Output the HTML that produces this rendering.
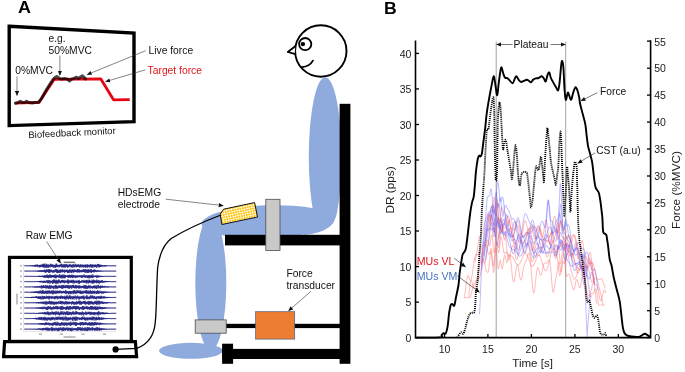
<!DOCTYPE html>
<html><head><meta charset="utf-8"><title>Figure</title>
<style>
html,body{margin:0;padding:0;background:#fff;}
body{width:685px;height:372px;position:relative;overflow:hidden;font-family:"Liberation Sans",sans-serif;}
</style></head><body>
<svg width="685" height="372" viewBox="0 0 685 372" style="position:absolute;left:0;top:0"><defs><marker id="ah" viewBox="0 0 10 10" refX="9" refY="5" markerWidth="5.4" markerHeight="4.9" orient="auto-start-reverse" markerUnits="userSpaceOnUse"><path d="M0,0.8 L10,5 L0,9.2 z" fill="#111"/></marker><pattern id="grid" width="2.5" height="2.5" patternUnits="userSpaceOnUse" patternTransform="rotate(-12)"><rect width="2.5" height="2.5" fill="#ffc000"/><path d="M0,0.4H2.5M0.4,0V2.5" stroke="#fff8e0" stroke-width="0.8"/></pattern><clipPath id="tc"><rect x="300" y="70" width="50" height="141.5"/></clipPath></defs><path d="M9.2,26.2 L134,33 L134,121.6 L9.2,125.6 Z" fill="#fff" stroke="#000" stroke-width="3.4" stroke-linejoin="miter"/><path d="M15.4,103.2 L38.9,102.4 L54,79.4 L100.7,78.8 L113.5,99.8 L129.7,99.6" fill="none" stroke="#e30613" stroke-width="2.8" stroke-linejoin="round"/><path d="M15.4,103.2 L18,102.6 L20.3,101.3 L22.5,102.6 L25,102.4 L26.6,101.2 L28.5,102.6 L32,103 L35,102.6 L38.6,102.2 L41.5,98.6 L46,90.5 L50,84 L53,79.6 L55.2,77.4 L56.8,76.6 L58.6,77.8 L61,79 L65,78.6 L67.5,79.2 L69.6,81 L71.6,79.2 L74,78.4 L76.5,77.2 L78.5,78.6 L80.5,77 L82.4,75.8 L84,77.4 L85.6,79" fill="none" stroke="#000" stroke-opacity="0.72" stroke-width="3" stroke-linejoin="round" stroke-linecap="round"/><g stroke="#333" stroke-width="0.6" fill="none"><line x1="17" y1="76.5" x2="17" y2="95.4" marker-end="url(#ah)"/><line x1="59.9" y1="55.5" x2="59.9" y2="75.2" marker-end="url(#ah)"/><line x1="145.7" y1="50.7" x2="87.2" y2="74.6" marker-end="url(#ah)"/><line x1="145.2" y1="69.9" x2="105.6" y2="81.6" marker-end="url(#ah)"/><line x1="165.8" y1="199.2" x2="223.2" y2="205.6" marker-end="url(#ah)"/><line x1="310.8" y1="291.4" x2="288.6" y2="310.8" marker-end="url(#ah)"/></g><g fill="#8faadc"><ellipse cx="325.2" cy="157.2" rx="16.4" ry="80" clip-path="url(#tc)"/><ellipse cx="268" cy="221.8" rx="66.5" ry="16.5" transform="rotate(-2 268 221.8)"/><ellipse cx="210.8" cy="283" rx="15.5" ry="67"/><ellipse cx="190.9" cy="350.8" rx="31.9" ry="8"/><path d="M337.3,211 Q336.8,214.5 335.7,217.5 Q333.5,223 329.3,227 Q324.5,230.5 318.7,232.3 Q312,234.2 304,235 L300,222 L318,209 L337.3,211 Z"/></g><rect x="339.6" y="103.8" width="10.8" height="260" fill="#000"/><rect x="225" y="234.8" width="116" height="10.6" fill="#000"/><rect x="222.2" y="348.9" width="119" height="10.1" fill="#000"/><rect x="222.1" y="343.7" width="11" height="20.1" fill="#000"/><rect x="226" y="323.8" width="115" height="4.3" fill="#000"/><rect x="265.8" y="199.3" width="14.2" height="51.2" fill="#c9c9c9" stroke="#4d4d4d" stroke-width="0.8"/><rect x="195.2" y="319.9" width="31" height="13.3" fill="#c9c9c9" stroke="#4d4d4d" stroke-width="0.8"/><rect x="255.6" y="311.7" width="39.1" height="27.4" fill="#ed7d31" stroke="#4a5f86" stroke-width="0.7"/><path d="M223.6,209.2 L254.6,202.6 L257.5,217 L221.9,224.5 L220.2,214.3 Z" fill="url(#grid)" stroke="#111" stroke-width="1"/><circle cx="320.8" cy="51" r="25.7" fill="#fff" stroke="#000" stroke-width="1.9"/><circle cx="305.2" cy="44.1" r="6.1" fill="#fff" stroke="#000" stroke-width="1.8"/><circle cx="302.9" cy="44.1" r="2.2" fill="#000"/><path d="M295.3,46.2 L287.8,52 L294.6,53.8" fill="#fff" stroke="#000" stroke-width="1.8" stroke-linejoin="round" stroke-linecap="round"/><path d="M312.9,60.6 Q309.8,66.4 301.8,67.2" fill="none" stroke="#000" stroke-width="1.8" stroke-linecap="round"/><rect x="9.5" y="257.4" width="121.8" height="84" fill="#fff" stroke="#000" stroke-width="3.2"/><path d="M4.6,341.6 L135.4,341.6 L136.6,356.7 L3.6,356.7 Z" fill="#fff" stroke="#000" stroke-width="3.2"/><circle cx="115.6" cy="349.4" r="3.1" fill="#000"/><path d="M221,215 C205,221 187,229 171.2,238.5 C163,245 159,257 157.6,268 C156.4,290 156.5,312 155.3,322 C154.4,334 149,344 136.6,348.4 L115.6,349.4" fill="none" stroke="#000" stroke-width="1.3"/><line x1="46.6" y1="241.6" x2="60.6" y2="263" stroke="#333" stroke-width="0.6" marker-end="url(#ah)"/><g stroke="#b8b8c8" stroke-width="0.4" fill="none"><path d="M23.6,264 V331.6 H116.4"/></g><line x1="24.4" y1="265.80" x2="116.4" y2="265.80" stroke="#15157a" stroke-width="0.55"/><rect x="20.2" y="265.10" width="1.6" height="1.4" fill="#9a9a9a"/><line x1="24.4" y1="271.08" x2="116.4" y2="271.08" stroke="#15157a" stroke-width="0.55"/><rect x="20.2" y="270.38" width="1.6" height="1.4" fill="#9a9a9a"/><line x1="24.4" y1="276.36" x2="116.4" y2="276.36" stroke="#15157a" stroke-width="0.55"/><rect x="20.2" y="275.66" width="1.6" height="1.4" fill="#9a9a9a"/><line x1="24.4" y1="281.64" x2="116.4" y2="281.64" stroke="#15157a" stroke-width="0.55"/><rect x="20.2" y="280.94" width="1.6" height="1.4" fill="#9a9a9a"/><line x1="24.4" y1="286.92" x2="116.4" y2="286.92" stroke="#15157a" stroke-width="0.55"/><rect x="20.2" y="286.22" width="1.6" height="1.4" fill="#9a9a9a"/><line x1="24.4" y1="292.20" x2="116.4" y2="292.20" stroke="#15157a" stroke-width="0.55"/><rect x="20.2" y="291.50" width="1.6" height="1.4" fill="#9a9a9a"/><line x1="24.4" y1="297.48" x2="116.4" y2="297.48" stroke="#15157a" stroke-width="0.55"/><rect x="20.2" y="296.78" width="1.6" height="1.4" fill="#9a9a9a"/><line x1="24.4" y1="302.76" x2="116.4" y2="302.76" stroke="#15157a" stroke-width="0.55"/><rect x="20.2" y="302.06" width="1.6" height="1.4" fill="#9a9a9a"/><line x1="24.4" y1="308.04" x2="116.4" y2="308.04" stroke="#15157a" stroke-width="0.55"/><rect x="20.2" y="307.34" width="1.6" height="1.4" fill="#9a9a9a"/><line x1="24.4" y1="313.32" x2="116.4" y2="313.32" stroke="#15157a" stroke-width="0.55"/><rect x="20.2" y="312.62" width="1.6" height="1.4" fill="#9a9a9a"/><line x1="24.4" y1="318.60" x2="116.4" y2="318.60" stroke="#15157a" stroke-width="0.55"/><rect x="20.2" y="317.90" width="1.6" height="1.4" fill="#9a9a9a"/><line x1="24.4" y1="323.88" x2="116.4" y2="323.88" stroke="#15157a" stroke-width="0.55"/><rect x="20.2" y="323.18" width="1.6" height="1.4" fill="#9a9a9a"/><line x1="24.4" y1="329.16" x2="116.4" y2="329.16" stroke="#15157a" stroke-width="0.55"/><rect x="20.2" y="328.46" width="1.6" height="1.4" fill="#9a9a9a"/><rect x="63.6" y="261.6" width="11.4" height="1.5" fill="#777"/><rect x="16.3" y="293.5" width="1.4" height="11" fill="#aaa"/><rect x="63.5" y="336.3" width="12" height="1.4" fill="#aaa"/><rect x="38.9" y="333.5" width="3.2" height="1.3" fill="#aaa"/><rect x="59.9" y="333.5" width="3.2" height="1.3" fill="#aaa"/><rect x="81.4" y="333.5" width="3.2" height="1.3" fill="#aaa"/><rect x="102.9" y="333.5" width="3.2" height="1.3" fill="#aaa"/><path d="M24.4,265.92 L24.8,265.68 L25.2,265.92 L25.6,265.68 L26.0,265.92 L26.4,265.68 L26.8,265.92 L27.2,265.68 L27.6,265.94 L28.0,265.65 L28.4,265.99 L28.8,265.61 L29.2,266.03 L29.6,265.61 L30.0,266.09 L30.4,265.43 L30.8,266.13 L31.2,265.39 L31.6,266.23 L32.0,265.54 L32.4,266.34 L32.8,265.29 L33.2,266.21 L33.6,265.50 L34.0,266.57 L34.4,265.21 L34.8,266.58 L35.2,264.87 L35.6,266.67 L36.0,264.73 L36.4,266.50 L36.8,264.72 L37.2,266.61 L37.6,264.49 L38.0,267.11 L38.4,265.24 L38.8,266.43 L39.2,265.06 L39.6,267.45 L40.0,264.74 L40.4,267.15 L40.8,264.84 L41.2,267.08 L41.6,264.65 L42.0,266.93 L42.4,264.30 L42.8,267.30 L43.2,263.82 L43.6,267.44 L44.0,263.79 L44.4,267.70 L44.8,263.69 L45.2,267.43 L45.6,264.94 L46.0,267.71 L46.4,263.73 L46.8,267.78 L47.2,264.33 L47.6,267.49 L48.0,264.86 L48.4,267.67 L48.8,264.32 L49.2,266.85 L49.6,265.08 L50.0,267.70 L50.4,263.70 L50.8,266.55 L51.2,263.98 L51.6,267.04 L52.0,264.95 L52.4,266.86 L52.8,264.03 L53.2,267.73 L53.6,265.11 L54.0,267.34 L54.4,265.11 L54.8,267.50 L55.2,264.68 L55.6,267.74 L56.0,263.71 L56.4,267.18 L56.8,263.68 L57.2,266.88 L57.6,265.06 L58.0,267.32 L58.4,265.13 L58.8,266.72 L59.2,264.57 L59.6,267.34 L60.0,264.95 L60.4,266.48 L60.8,263.88 L61.2,266.89 L61.6,263.74 L62.0,267.76 L62.4,264.61 L62.8,267.11 L63.2,264.40 L63.6,267.39 L64.0,264.29 L64.4,267.26 L64.8,264.25 L65.2,267.83 L65.6,264.42 L66.0,267.07 L66.4,264.10 L66.8,266.78 L67.2,264.73 L67.6,267.89 L68.0,264.40 L68.4,267.24 L68.8,265.16 L69.2,267.04 L69.6,264.31 L70.0,266.45 L70.4,264.26 L70.8,267.37 L71.2,265.09 L71.6,267.36 L72.0,264.48 L72.4,267.44 L72.8,264.65 L73.2,267.48 L73.6,264.07 L74.0,266.45 L74.4,265.09 L74.8,267.43 L75.2,263.74 L75.6,266.80 L76.0,264.50 L76.4,267.31 L76.8,264.70 L77.2,266.97 L77.6,264.71 L78.0,266.97 L78.4,264.29 L78.8,266.87 L79.2,264.61 L79.6,267.58 L80.0,265.14 L80.4,267.27 L80.8,264.08 L81.2,266.89 L81.6,264.85 L82.0,267.63 L82.4,264.82 L82.8,266.70 L83.2,264.53 L83.6,267.47 L84.0,265.03 L84.4,266.90 L84.8,264.68 L85.2,267.67 L85.6,264.52 L86.0,267.70 L86.4,264.93 L86.8,266.93 L87.2,264.20 L87.6,267.75 L88.0,264.50 L88.4,266.76 L88.8,265.00 L89.2,267.21 L89.6,264.89 L90.0,267.63 L90.4,263.92 L90.8,266.70 L91.2,264.76 L91.6,267.63 L92.0,264.22 L92.4,267.63 L92.8,264.66 L93.2,266.61 L93.6,264.74 L94.0,267.61 L94.4,264.77 L94.8,266.94 L95.2,264.55 L95.6,267.05 L96.0,264.57 L96.4,267.80 L96.8,264.95 L97.2,266.41 L97.6,263.90 L98.0,267.54 L98.4,263.99 L98.8,266.86 L99.2,264.19 L99.6,267.32 L100.0,265.10 L100.4,267.00 L100.8,264.58 L101.2,266.81 L101.6,264.97 L102.0,266.41 L102.4,265.19 L102.8,266.30 L103.2,265.43 L103.6,266.46 L104.0,265.35 L104.4,266.48 L104.8,265.51 L105.2,266.41 L105.6,265.31 L106.0,266.31 L106.4,265.35 L106.8,266.21 L107.2,265.50 L107.6,265.97 L108.0,265.55 L108.4,265.97 L108.8,265.64 L109.2,265.95 L109.6,265.67 L110.0,265.92 L110.4,265.68 L110.8,265.92 L111.2,265.68 L111.6,265.92 L112.0,265.68 L112.4,265.92 L112.8,265.68 L113.2,265.92 L113.6,265.68 L114.0,265.92 L114.4,265.68 L114.8,265.92 L115.2,265.68 L115.6,265.92 L116.0,265.68" fill="none" stroke="#15157a" stroke-width="0.62"/><path d="M24.4,271.20 L24.8,270.96 L25.2,271.20 L25.6,270.96 L26.0,271.20 L26.4,270.96 L26.8,271.20 L27.2,270.96 L27.6,271.20 L28.0,270.96 L28.4,271.20 L28.8,270.96 L29.2,271.20 L29.6,270.96 L30.0,271.20 L30.4,270.96 L30.8,271.20 L31.2,270.96 L31.6,271.20 L32.0,270.96 L32.4,271.20 L32.8,270.95 L33.2,271.23 L33.6,270.92 L34.0,271.24 L34.4,270.89 L34.8,271.26 L35.2,270.81 L35.6,271.41 L36.0,270.79 L36.4,271.31 L36.8,270.80 L37.2,271.44 L37.6,270.61 L38.0,271.66 L38.4,270.64 L38.8,271.76 L39.2,270.45 L39.6,271.64 L40.0,270.52 L40.4,271.75 L40.8,270.23 L41.2,271.76 L41.6,270.15 L42.0,271.87 L42.4,270.45 L42.8,272.01 L43.2,269.95 L43.6,271.61 L44.0,270.15 L44.4,272.05 L44.8,269.54 L45.2,272.75 L45.6,270.06 L46.0,272.82 L46.4,269.42 L46.8,272.05 L47.2,269.79 L47.6,271.88 L48.0,269.24 L48.4,272.69 L48.8,269.13 L49.2,272.89 L49.6,269.46 L50.0,272.80 L50.4,269.61 L50.8,271.85 L51.2,269.58 L51.6,271.71 L52.0,270.24 L52.4,272.86 L52.8,270.39 L53.2,271.84 L53.6,270.31 L54.0,273.02 L54.4,270.19 L54.8,271.74 L55.2,269.20 L55.6,271.88 L56.0,269.19 L56.4,272.71 L56.8,269.21 L57.2,273.13 L57.6,269.59 L58.0,272.90 L58.4,270.41 L58.8,272.85 L59.2,269.69 L59.6,272.77 L60.0,270.30 L60.4,272.82 L60.8,269.06 L61.2,271.79 L61.6,269.97 L62.0,272.55 L62.4,269.22 L62.8,272.06 L63.2,270.19 L63.6,272.07 L64.0,269.54 L64.4,272.83 L64.8,269.87 L65.2,272.25 L65.6,269.87 L66.0,272.23 L66.4,269.83 L66.8,271.82 L67.2,269.71 L67.6,273.16 L68.0,269.84 L68.4,272.82 L68.8,270.22 L69.2,272.74 L69.6,269.33 L70.0,272.71 L70.4,269.68 L70.8,272.43 L71.2,269.50 L71.6,273.05 L72.0,270.24 L72.4,271.84 L72.8,269.34 L73.2,273.07 L73.6,269.68 L74.0,272.36 L74.4,269.38 L74.8,271.98 L75.2,270.06 L75.6,272.00 L76.0,269.58 L76.4,272.17 L76.8,270.11 L77.2,272.74 L77.6,269.03 L78.0,272.14 L78.4,269.40 L78.8,272.32 L79.2,269.18 L79.6,272.58 L80.0,270.06 L80.4,272.03 L80.8,270.43 L81.2,272.42 L81.6,269.89 L82.0,271.96 L82.4,269.92 L82.8,272.18 L83.2,269.30 L83.6,271.92 L84.0,268.97 L84.4,272.42 L84.8,269.56 L85.2,272.40 L85.6,269.21 L86.0,272.93 L86.4,269.62 L86.8,272.42 L87.2,269.38 L87.6,272.98 L88.0,269.86 L88.4,272.80 L88.8,269.02 L89.2,272.40 L89.6,270.12 L90.0,272.05 L90.4,269.38 L90.8,272.71 L91.2,269.02 L91.6,272.98 L92.0,270.10 L92.4,271.96 L92.8,270.14 L93.2,271.89 L93.6,269.64 L94.0,272.65 L94.4,269.53 L94.8,271.85 L95.2,269.70 L95.6,271.84 L96.0,270.25 L96.4,272.14 L96.8,270.61 L97.2,271.53 L97.6,270.11 L98.0,271.62 L98.4,270.53 L98.8,271.73 L99.2,270.42 L99.6,271.37 L100.0,270.67 L100.4,271.50 L100.8,270.67 L101.2,271.37 L101.6,270.71 L102.0,271.50 L102.4,270.82 L102.8,271.34 L103.2,270.91 L103.6,271.25 L104.0,270.90 L104.4,271.21 L104.8,270.95 L105.2,271.20 L105.6,270.96 L106.0,271.20 L106.4,270.96 L106.8,271.20 L107.2,270.96 L107.6,271.20 L108.0,270.96 L108.4,271.20 L108.8,270.96 L109.2,271.20 L109.6,270.96 L110.0,271.20 L110.4,270.96 L110.8,271.20 L111.2,270.96 L111.6,271.20 L112.0,270.96 L112.4,271.20 L112.8,270.96 L113.2,271.20 L113.6,270.96 L114.0,271.20 L114.4,270.96 L114.8,271.20 L115.2,270.96 L115.6,271.20 L116.0,270.96" fill="none" stroke="#15157a" stroke-width="0.62"/><path d="M24.4,276.48 L24.8,276.24 L25.2,276.48 L25.6,276.24 L26.0,276.48 L26.4,276.24 L26.8,276.48 L27.2,276.24 L27.6,276.48 L28.0,276.24 L28.4,276.48 L28.8,276.24 L29.2,276.48 L29.6,276.24 L30.0,276.48 L30.4,276.24 L30.8,276.48 L31.2,276.24 L31.6,276.48 L32.0,276.24 L32.4,276.48 L32.8,276.24 L33.2,276.48 L33.6,276.24 L34.0,276.50 L34.4,276.19 L34.8,276.53 L35.2,276.13 L35.6,276.54 L36.0,276.15 L36.4,276.56 L36.8,276.14 L37.2,276.76 L37.6,275.93 L38.0,276.65 L38.4,276.05 L38.8,276.78 L39.2,275.77 L39.6,277.03 L40.0,275.68 L40.4,277.00 L40.8,275.95 L41.2,276.95 L41.6,275.88 L42.0,277.11 L42.4,275.54 L42.8,276.92 L43.2,275.74 L43.6,277.49 L44.0,275.89 L44.4,277.62 L44.8,274.95 L45.2,277.89 L45.6,275.42 L46.0,277.54 L46.4,275.10 L46.8,277.73 L47.2,274.47 L47.6,277.91 L48.0,275.32 L48.4,278.27 L48.8,275.01 L49.2,277.88 L49.6,274.65 L50.0,276.98 L50.4,274.58 L50.8,277.97 L51.2,275.00 L51.6,277.77 L52.0,275.05 L52.4,277.27 L52.8,274.95 L53.2,277.04 L53.6,274.99 L54.0,277.95 L54.4,275.07 L54.8,277.83 L55.2,274.30 L55.6,278.32 L56.0,275.54 L56.4,278.17 L56.8,274.81 L57.2,277.06 L57.6,275.20 L58.0,277.33 L58.4,275.62 L58.8,277.79 L59.2,274.35 L59.6,277.46 L60.0,274.43 L60.4,278.02 L60.8,275.54 L61.2,278.27 L61.6,274.84 L62.0,278.37 L62.4,274.67 L62.8,278.09 L63.2,275.22 L63.6,278.19 L64.0,274.34 L64.4,278.27 L64.8,275.08 L65.2,278.12 L65.6,275.01 L66.0,277.14 L66.4,275.68 L66.8,277.10 L67.2,275.44 L67.6,277.22 L68.0,274.99 L68.4,278.03 L68.8,274.93 L69.2,277.61 L69.6,274.77 L70.0,277.44 L70.4,275.04 L70.8,278.12 L71.2,275.14 L71.6,277.25 L72.0,274.39 L72.4,278.06 L72.8,275.19 L73.2,277.54 L73.6,274.95 L74.0,277.87 L74.4,275.40 L74.8,276.98 L75.2,275.43 L75.6,278.15 L76.0,275.52 L76.4,277.67 L76.8,275.45 L77.2,277.29 L77.6,275.48 L78.0,277.59 L78.4,275.49 L78.8,277.02 L79.2,275.57 L79.6,277.23 L80.0,275.00 L80.4,277.07 L80.8,275.71 L81.2,277.65 L81.6,275.13 L82.0,278.04 L82.4,275.66 L82.8,277.58 L83.2,275.15 L83.6,277.02 L84.0,274.29 L84.4,277.31 L84.8,275.60 L85.2,277.69 L85.6,275.49 L86.0,277.91 L86.4,275.22 L86.8,277.17 L87.2,275.66 L87.6,278.07 L88.0,275.33 L88.4,278.16 L88.8,275.04 L89.2,278.38 L89.6,275.29 L90.0,277.35 L90.4,275.34 L90.8,278.20 L91.2,274.80 L91.6,277.50 L92.0,275.60 L92.4,278.00 L92.8,274.29 L93.2,277.87 L93.6,275.75 L94.0,276.99 L94.4,275.67 L94.8,277.12 L95.2,275.79 L95.6,276.93 L96.0,275.15 L96.4,277.77 L96.8,275.71 L97.2,277.71 L97.6,275.52 L98.0,277.43 L98.4,275.26 L98.8,277.41 L99.2,275.99 L99.6,276.88 L100.0,275.69 L100.4,277.16 L100.8,276.03 L101.2,276.76 L101.6,275.77 L102.0,276.64 L102.4,276.02 L102.8,276.66 L103.2,276.01 L103.6,276.72 L104.0,276.16 L104.4,276.61 L104.8,276.15 L105.2,276.55 L105.6,276.21 L106.0,276.49 L106.4,276.24 L106.8,276.48 L107.2,276.24 L107.6,276.48 L108.0,276.24 L108.4,276.48 L108.8,276.24 L109.2,276.48 L109.6,276.24 L110.0,276.48 L110.4,276.24 L110.8,276.48 L111.2,276.24 L111.6,276.48 L112.0,276.24 L112.4,276.48 L112.8,276.24 L113.2,276.48 L113.6,276.24 L114.0,276.48 L114.4,276.24 L114.8,276.48 L115.2,276.24 L115.6,276.48 L116.0,276.24" fill="none" stroke="#15157a" stroke-width="0.62"/><path d="M24.4,281.76 L24.8,281.52 L25.2,281.76 L25.6,281.52 L26.0,281.76 L26.4,281.52 L26.8,281.76 L27.2,281.52 L27.6,281.76 L28.0,281.52 L28.4,281.76 L28.8,281.52 L29.2,281.76 L29.6,281.52 L30.0,281.76 L30.4,281.52 L30.8,281.76 L31.2,281.52 L31.6,281.76 L32.0,281.52 L32.4,281.76 L32.8,281.52 L33.2,281.76 L33.6,281.50 L34.0,281.79 L34.4,281.49 L34.8,281.81 L35.2,281.47 L35.6,281.93 L36.0,281.44 L36.4,281.84 L36.8,281.20 L37.2,281.91 L37.6,281.13 L38.0,281.91 L38.4,281.21 L38.8,282.00 L39.2,280.98 L39.6,282.24 L40.0,280.98 L40.4,282.41 L40.8,280.76 L41.2,282.22 L41.6,280.85 L42.0,282.36 L42.4,281.16 L42.8,282.76 L43.2,280.68 L43.6,282.85 L44.0,280.98 L44.4,282.67 L44.8,280.65 L45.2,282.97 L45.6,281.03 L46.0,282.60 L46.4,280.47 L46.8,282.30 L47.2,280.29 L47.6,283.30 L48.0,280.39 L48.4,283.23 L48.8,280.11 L49.2,282.58 L49.6,280.49 L50.0,283.75 L50.4,280.52 L50.8,282.91 L51.2,280.89 L51.6,282.59 L52.0,280.77 L52.4,283.66 L52.8,279.93 L53.2,283.57 L53.6,279.54 L54.0,283.18 L54.4,279.62 L54.8,283.06 L55.2,280.39 L55.6,283.68 L56.0,279.67 L56.4,283.68 L56.8,280.29 L57.2,283.42 L57.6,280.41 L58.0,283.76 L58.4,279.64 L58.8,282.70 L59.2,279.62 L59.6,282.54 L60.0,280.88 L60.4,283.34 L60.8,280.58 L61.2,283.04 L61.6,280.06 L62.0,282.32 L62.4,279.90 L62.8,282.67 L63.2,280.37 L63.6,282.78 L64.0,279.91 L64.4,283.38 L64.8,280.59 L65.2,282.42 L65.6,280.57 L66.0,282.88 L66.4,280.90 L66.8,282.49 L67.2,279.88 L67.6,283.31 L68.0,279.56 L68.4,283.73 L68.8,279.71 L69.2,282.82 L69.6,280.78 L70.0,282.73 L70.4,280.33 L70.8,283.05 L71.2,280.21 L71.6,282.80 L72.0,279.74 L72.4,282.69 L72.8,280.33 L73.2,283.59 L73.6,279.81 L74.0,282.71 L74.4,280.66 L74.8,283.47 L75.2,281.00 L75.6,282.46 L76.0,280.22 L76.4,283.06 L76.8,280.77 L77.2,282.34 L77.6,280.71 L78.0,283.41 L78.4,280.32 L78.8,283.73 L79.2,279.84 L79.6,283.73 L80.0,280.97 L80.4,282.54 L80.8,281.00 L81.2,282.91 L81.6,280.51 L82.0,282.34 L82.4,280.20 L82.8,282.40 L83.2,280.55 L83.6,282.63 L84.0,279.82 L84.4,282.89 L84.8,280.63 L85.2,282.33 L85.6,280.38 L86.0,283.20 L86.4,280.01 L86.8,283.63 L87.2,279.81 L87.6,282.63 L88.0,280.82 L88.4,283.40 L88.8,279.84 L89.2,283.02 L89.6,279.77 L90.0,283.09 L90.4,280.60 L90.8,282.51 L91.2,280.99 L91.6,283.22 L92.0,279.67 L92.4,283.62 L92.8,280.32 L93.2,283.26 L93.6,279.63 L94.0,283.48 L94.4,280.12 L94.8,282.88 L95.2,280.24 L95.6,282.52 L96.0,280.75 L96.4,283.29 L96.8,279.53 L97.2,283.08 L97.6,280.41 L98.0,282.79 L98.4,280.34 L98.8,283.43 L99.2,280.41 L99.6,283.51 L100.0,280.89 L100.4,282.56 L100.8,280.51 L101.2,282.60 L101.6,280.26 L102.0,282.93 L102.4,280.31 L102.8,282.61 L103.2,281.21 L103.6,282.48 L104.0,280.86 L104.4,282.33 L104.8,281.12 L105.2,282.38 L105.6,280.84 L106.0,281.98 L106.4,281.06 L106.8,282.05 L107.2,281.21 L107.6,282.16 L108.0,281.15 L108.4,282.00 L108.8,281.41 L109.2,281.97 L109.6,281.45 L110.0,281.83 L110.4,281.44 L110.8,281.79 L111.2,281.51 L111.6,281.76 L112.0,281.52 L112.4,281.76 L112.8,281.52 L113.2,281.76 L113.6,281.52 L114.0,281.76 L114.4,281.52 L114.8,281.76 L115.2,281.52 L115.6,281.76 L116.0,281.52" fill="none" stroke="#15157a" stroke-width="0.62"/><path d="M24.4,287.04 L24.8,286.80 L25.2,287.04 L25.6,286.80 L26.0,287.04 L26.4,286.80 L26.8,287.04 L27.2,286.80 L27.6,287.04 L28.0,286.80 L28.4,287.04 L28.8,286.80 L29.2,287.04 L29.6,286.80 L30.0,287.04 L30.4,286.77 L30.8,287.06 L31.2,286.70 L31.6,287.14 L32.0,286.67 L32.4,287.12 L32.8,286.73 L33.2,287.28 L33.6,286.67 L34.0,287.19 L34.4,286.42 L34.8,287.48 L35.2,286.65 L35.6,287.61 L36.0,286.38 L36.4,287.41 L36.8,286.55 L37.2,287.48 L37.6,285.94 L38.0,287.46 L38.4,286.46 L38.8,287.41 L39.2,286.42 L39.6,287.64 L40.0,285.66 L40.4,287.43 L40.8,286.27 L41.2,288.39 L41.6,285.33 L42.0,288.56 L42.4,286.10 L42.8,287.90 L43.2,285.13 L43.6,288.15 L44.0,285.34 L44.4,287.98 L44.8,286.27 L45.2,288.06 L45.6,285.18 L46.0,288.71 L46.4,285.45 L46.8,288.24 L47.2,285.49 L47.6,288.20 L48.0,285.50 L48.4,288.79 L48.8,286.00 L49.2,288.43 L49.6,284.90 L50.0,288.81 L50.4,286.03 L50.8,288.99 L51.2,285.04 L51.6,287.79 L52.0,285.90 L52.4,287.84 L52.8,286.22 L53.2,289.01 L53.6,285.69 L54.0,288.85 L54.4,286.13 L54.8,287.56 L55.2,285.00 L55.6,288.73 L56.0,284.81 L56.4,288.57 L56.8,285.51 L57.2,288.69 L57.6,286.16 L58.0,288.35 L58.4,285.64 L58.8,287.76 L59.2,285.40 L59.6,288.02 L60.0,285.54 L60.4,288.10 L60.8,285.82 L61.2,288.08 L61.6,285.40 L62.0,289.01 L62.4,284.90 L62.8,288.83 L63.2,285.05 L63.6,287.97 L64.0,284.83 L64.4,287.94 L64.8,286.12 L65.2,288.29 L65.6,285.20 L66.0,288.05 L66.4,285.33 L66.8,287.96 L67.2,284.85 L67.6,288.22 L68.0,285.58 L68.4,288.34 L68.8,284.99 L69.2,289.02 L69.6,285.51 L70.0,288.20 L70.4,285.37 L70.8,287.64 L71.2,285.66 L71.6,288.81 L72.0,285.13 L72.4,287.63 L72.8,285.02 L73.2,288.12 L73.6,284.83 L74.0,288.09 L74.4,285.98 L74.8,288.36 L75.2,284.97 L75.6,288.19 L76.0,285.00 L76.4,288.61 L76.8,285.76 L77.2,287.99 L77.6,285.54 L78.0,288.14 L78.4,285.74 L78.8,288.52 L79.2,284.99 L79.6,288.42 L80.0,286.08 L80.4,287.87 L80.8,285.74 L81.2,288.46 L81.6,286.09 L82.0,287.66 L82.4,285.82 L82.8,287.96 L83.2,286.26 L83.6,288.35 L84.0,284.92 L84.4,288.34 L84.8,285.19 L85.2,288.78 L85.6,285.04 L86.0,288.91 L86.4,285.64 L86.8,288.56 L87.2,286.12 L87.6,288.86 L88.0,285.73 L88.4,288.25 L88.8,284.96 L89.2,287.97 L89.6,286.02 L90.0,288.78 L90.4,285.40 L90.8,287.67 L91.2,286.26 L91.6,288.07 L92.0,286.29 L92.4,288.79 L92.8,286.02 L93.2,287.95 L93.6,285.72 L94.0,288.31 L94.4,285.65 L94.8,288.48 L95.2,285.31 L95.6,288.19 L96.0,286.15 L96.4,289.01 L96.8,285.26 L97.2,287.67 L97.6,285.64 L98.0,288.67 L98.4,284.81 L98.8,287.63 L99.2,286.31 L99.6,288.15 L100.0,285.81 L100.4,288.57 L100.8,285.42 L101.2,287.79 L101.6,285.99 L102.0,287.98 L102.4,285.62 L102.8,287.53 L103.2,286.18 L103.6,287.38 L104.0,286.06 L104.4,287.29 L104.8,285.97 L105.2,287.56 L105.6,286.29 L106.0,287.25 L106.4,286.54 L106.8,287.38 L107.2,286.35 L107.6,287.33 L108.0,286.62 L108.4,287.37 L108.8,286.59 L109.2,287.19 L109.6,286.73 L110.0,287.11 L110.4,286.71 L110.8,287.06 L111.2,286.78 L111.6,287.04 L112.0,286.80 L112.4,287.04 L112.8,286.80 L113.2,287.04 L113.6,286.80 L114.0,287.04 L114.4,286.80 L114.8,287.04 L115.2,286.80 L115.6,287.04 L116.0,286.80" fill="none" stroke="#15157a" stroke-width="0.62"/><path d="M24.4,292.32 L24.8,292.08 L25.2,292.32 L25.6,292.08 L26.0,292.32 L26.4,292.08 L26.8,292.32 L27.2,292.07 L27.6,292.34 L28.0,292.02 L28.4,292.40 L28.8,292.04 L29.2,292.41 L29.6,291.97 L30.0,292.42 L30.4,291.95 L30.8,292.47 L31.2,291.78 L31.6,292.54 L32.0,291.92 L32.4,292.54 L32.8,291.74 L33.2,292.75 L33.6,291.78 L34.0,292.90 L34.4,291.75 L34.8,292.97 L35.2,291.43 L35.6,292.69 L36.0,291.24 L36.4,292.92 L36.8,291.32 L37.2,293.17 L37.6,291.16 L38.0,293.10 L38.4,291.67 L38.8,293.56 L39.2,290.70 L39.6,293.31 L40.0,290.94 L40.4,293.10 L40.8,290.41 L41.2,293.75 L41.6,291.27 L42.0,294.05 L42.4,290.10 L42.8,293.34 L43.2,290.09 L43.6,293.54 L44.0,291.31 L44.4,293.90 L44.8,291.07 L45.2,293.92 L45.6,290.70 L46.0,292.98 L46.4,290.79 L46.8,294.10 L47.2,290.86 L47.6,293.63 L48.0,290.29 L48.4,293.49 L48.8,290.84 L49.2,293.69 L49.6,290.34 L50.0,293.12 L50.4,291.44 L50.8,293.96 L51.2,290.75 L51.6,293.27 L52.0,290.24 L52.4,294.15 L52.8,290.77 L53.2,294.30 L53.6,290.33 L54.0,293.94 L54.4,291.14 L54.8,292.84 L55.2,290.56 L55.6,293.92 L56.0,291.05 L56.4,293.54 L56.8,290.73 L57.2,293.19 L57.6,290.53 L58.0,293.66 L58.4,291.00 L58.8,292.98 L59.2,290.75 L59.6,293.30 L60.0,290.49 L60.4,293.08 L60.8,290.99 L61.2,293.11 L61.6,290.97 L62.0,293.68 L62.4,291.42 L62.8,292.90 L63.2,290.86 L63.6,293.12 L64.0,290.82 L64.4,293.07 L64.8,291.43 L65.2,293.63 L65.6,290.20 L66.0,294.12 L66.4,290.81 L66.8,293.42 L67.2,291.48 L67.6,293.23 L68.0,291.11 L68.4,294.23 L68.8,291.40 L69.2,294.24 L69.6,290.86 L70.0,293.47 L70.4,291.19 L70.8,294.26 L71.2,291.30 L71.6,293.68 L72.0,290.81 L72.4,293.12 L72.8,291.25 L73.2,294.30 L73.6,290.39 L74.0,293.92 L74.4,290.23 L74.8,292.97 L75.2,290.52 L75.6,293.95 L76.0,291.24 L76.4,293.51 L76.8,290.12 L77.2,293.31 L77.6,290.44 L78.0,293.07 L78.4,290.58 L78.8,293.22 L79.2,290.82 L79.6,293.38 L80.0,290.27 L80.4,293.94 L80.8,290.82 L81.2,293.85 L81.6,290.94 L82.0,294.03 L82.4,291.19 L82.8,293.64 L83.2,290.70 L83.6,293.40 L84.0,291.51 L84.4,293.07 L84.8,290.62 L85.2,293.14 L85.6,290.44 L86.0,293.58 L86.4,290.15 L86.8,294.09 L87.2,290.49 L87.6,293.38 L88.0,291.51 L88.4,293.65 L88.8,290.46 L89.2,294.20 L89.6,291.28 L90.0,293.06 L90.4,290.11 L90.8,293.93 L91.2,290.85 L91.6,293.93 L92.0,291.36 L92.4,293.64 L92.8,290.58 L93.2,293.73 L93.6,291.34 L94.0,293.03 L94.4,290.64 L94.8,294.15 L95.2,291.37 L95.6,292.83 L96.0,291.46 L96.4,294.00 L96.8,290.99 L97.2,293.50 L97.6,290.09 L98.0,293.74 L98.4,291.19 L98.8,293.87 L99.2,291.58 L99.6,293.22 L100.0,290.62 L100.4,293.00 L100.8,291.61 L101.2,293.37 L101.6,291.30 L102.0,293.78 L102.4,291.62 L102.8,293.47 L103.2,291.39 L103.6,293.35 L104.0,291.42 L104.4,293.12 L104.8,291.59 L105.2,292.71 L105.6,291.57 L106.0,293.00 L106.4,291.71 L106.8,292.60 L107.2,291.74 L107.6,292.50 L108.0,291.84 L108.4,292.61 L108.8,291.83 L109.2,292.55 L109.6,291.95 L110.0,292.38 L110.4,292.03 L110.8,292.39 L111.2,292.04 L111.6,292.36 L112.0,292.07 L112.4,292.32 L112.8,292.08 L113.2,292.32 L113.6,292.08 L114.0,292.32 L114.4,292.08 L114.8,292.32 L115.2,292.08 L115.6,292.32 L116.0,292.08" fill="none" stroke="#15157a" stroke-width="0.62"/><path d="M24.4,297.60 L24.8,297.36 L25.2,297.60 L25.6,297.36 L26.0,297.60 L26.4,297.35 L26.8,297.63 L27.2,297.28 L27.6,297.64 L28.0,297.26 L28.4,297.72 L28.8,297.26 L29.2,297.86 L29.6,297.18 L30.0,297.70 L30.4,297.11 L30.8,297.72 L31.2,296.96 L31.6,298.11 L32.0,296.78 L32.4,297.79 L32.8,296.81 L33.2,297.98 L33.6,296.85 L34.0,298.03 L34.4,296.90 L34.8,297.95 L35.2,296.59 L35.6,297.96 L36.0,296.20 L36.4,297.96 L36.8,296.07 L37.2,298.14 L37.6,296.91 L38.0,298.82 L38.4,296.34 L38.8,298.96 L39.2,296.28 L39.6,298.89 L40.0,296.78 L40.4,299.05 L40.8,296.10 L41.2,299.54 L41.6,296.85 L42.0,298.20 L42.4,295.85 L42.8,299.49 L43.2,296.23 L43.6,299.17 L44.0,296.02 L44.4,298.69 L44.8,296.16 L45.2,299.00 L45.6,296.82 L46.0,298.56 L46.4,295.75 L46.8,298.49 L47.2,296.15 L47.6,298.49 L48.0,296.32 L48.4,299.08 L48.8,295.74 L49.2,299.54 L49.6,296.14 L50.0,298.40 L50.4,296.35 L50.8,298.19 L51.2,296.50 L51.6,298.98 L52.0,295.94 L52.4,298.46 L52.8,296.59 L53.2,298.25 L53.6,296.59 L54.0,298.85 L54.4,296.48 L54.8,299.43 L55.2,296.01 L55.6,298.61 L56.0,296.21 L56.4,298.16 L56.8,295.76 L57.2,299.23 L57.6,296.31 L58.0,299.19 L58.4,296.45 L58.8,298.43 L59.2,296.52 L59.6,298.40 L60.0,295.95 L60.4,299.06 L60.8,295.77 L61.2,298.26 L61.6,295.71 L62.0,298.82 L62.4,296.29 L62.8,298.85 L63.2,296.21 L63.6,298.40 L64.0,296.27 L64.4,299.07 L64.8,295.79 L65.2,299.47 L65.6,296.57 L66.0,299.44 L66.4,295.66 L66.8,299.17 L67.2,295.39 L67.6,298.31 L68.0,295.70 L68.4,299.45 L68.8,296.68 L69.2,298.99 L69.6,295.44 L70.0,298.54 L70.4,295.58 L70.8,299.46 L71.2,296.21 L71.6,298.32 L72.0,296.54 L72.4,299.34 L72.8,296.23 L73.2,298.57 L73.6,296.20 L74.0,299.49 L74.4,296.48 L74.8,298.13 L75.2,295.44 L75.6,298.58 L76.0,296.28 L76.4,299.56 L76.8,296.44 L77.2,298.23 L77.6,295.53 L78.0,298.47 L78.4,296.53 L78.8,299.51 L79.2,296.52 L79.6,299.45 L80.0,296.36 L80.4,298.55 L80.8,296.54 L81.2,298.91 L81.6,296.02 L82.0,298.70 L82.4,296.10 L82.8,298.55 L83.2,295.60 L83.6,299.50 L84.0,295.73 L84.4,299.33 L84.8,296.75 L85.2,298.48 L85.6,296.55 L86.0,298.33 L86.4,295.41 L86.8,299.46 L87.2,295.49 L87.6,298.94 L88.0,296.69 L88.4,298.74 L88.8,296.78 L89.2,299.46 L89.6,296.46 L90.0,298.53 L90.4,295.44 L90.8,298.40 L91.2,295.48 L91.6,298.57 L92.0,295.86 L92.4,298.26 L92.8,295.51 L93.2,298.70 L93.6,296.34 L94.0,299.08 L94.4,295.97 L94.8,298.48 L95.2,296.67 L95.6,298.96 L96.0,296.82 L96.4,299.41 L96.8,296.34 L97.2,298.35 L97.6,296.37 L98.0,298.27 L98.4,296.39 L98.8,298.91 L99.2,296.25 L99.6,298.60 L100.0,296.42 L100.4,298.82 L100.8,295.77 L101.2,298.66 L101.6,295.91 L102.0,298.62 L102.4,296.82 L102.8,298.18 L103.2,296.08 L103.6,298.44 L104.0,296.66 L104.4,298.38 L104.8,296.34 L105.2,298.18 L105.6,296.83 L106.0,298.10 L106.4,297.13 L106.8,298.14 L107.2,296.90 L107.6,298.03 L108.0,296.99 L108.4,297.94 L108.8,296.96 L109.2,297.78 L109.6,296.97 L110.0,297.71 L110.4,297.10 L110.8,297.69 L111.2,297.20 L111.6,297.67 L112.0,297.33 L112.4,297.64 L112.8,297.33 L113.2,297.60 L113.6,297.36 L114.0,297.60 L114.4,297.36 L114.8,297.60 L115.2,297.36 L115.6,297.60 L116.0,297.36" fill="none" stroke="#15157a" stroke-width="0.62"/><path d="M24.4,302.88 L24.8,302.64 L25.2,302.88 L25.6,302.64 L26.0,302.88 L26.4,302.64 L26.8,302.88 L27.2,302.64 L27.6,302.88 L28.0,302.64 L28.4,302.88 L28.8,302.64 L29.2,302.88 L29.6,302.64 L30.0,302.88 L30.4,302.64 L30.8,302.88 L31.2,302.64 L31.6,302.88 L32.0,302.63 L32.4,302.91 L32.8,302.58 L33.2,302.96 L33.6,302.60 L34.0,302.95 L34.4,302.50 L34.8,303.13 L35.2,302.52 L35.6,303.12 L36.0,302.50 L36.4,303.27 L36.8,302.35 L37.2,303.23 L37.6,302.19 L38.0,303.11 L38.4,302.08 L38.8,303.52 L39.2,301.91 L39.6,303.28 L40.0,302.25 L40.4,303.25 L40.8,301.67 L41.2,303.52 L41.6,302.01 L42.0,303.67 L42.4,301.64 L42.8,303.54 L43.2,301.93 L43.6,304.10 L44.0,301.35 L44.4,303.64 L44.8,302.13 L45.2,304.53 L45.6,301.20 L46.0,304.19 L46.4,301.56 L46.8,304.82 L47.2,301.49 L47.6,303.70 L48.0,301.99 L48.4,303.91 L48.8,301.24 L49.2,303.93 L49.6,300.72 L50.0,304.35 L50.4,301.45 L50.8,304.37 L51.2,301.24 L51.6,304.31 L52.0,301.40 L52.4,304.16 L52.8,301.40 L53.2,304.63 L53.6,301.85 L54.0,304.56 L54.4,301.69 L54.8,304.65 L55.2,302.03 L55.6,304.11 L56.0,301.48 L56.4,304.45 L56.8,301.84 L57.2,303.77 L57.6,301.94 L58.0,304.22 L58.4,301.28 L58.8,303.38 L59.2,301.87 L59.6,303.68 L60.0,300.70 L60.4,304.06 L60.8,301.29 L61.2,303.81 L61.6,301.15 L62.0,304.60 L62.4,301.13 L62.8,303.38 L63.2,301.48 L63.6,304.11 L64.0,302.07 L64.4,304.56 L64.8,301.66 L65.2,303.82 L65.6,301.20 L66.0,304.26 L66.4,301.40 L66.8,304.67 L67.2,301.36 L67.6,303.89 L68.0,302.04 L68.4,304.21 L68.8,301.59 L69.2,304.18 L69.6,301.62 L70.0,303.39 L70.4,302.08 L70.8,303.62 L71.2,302.00 L71.6,304.66 L72.0,301.27 L72.4,303.74 L72.8,301.07 L73.2,304.33 L73.6,302.05 L74.0,304.51 L74.4,301.80 L74.8,304.88 L75.2,301.93 L75.6,303.81 L76.0,301.77 L76.4,304.67 L76.8,300.91 L77.2,304.25 L77.6,301.92 L78.0,304.02 L78.4,301.09 L78.8,303.47 L79.2,300.76 L79.6,304.64 L80.0,300.74 L80.4,304.43 L80.8,301.21 L81.2,304.84 L81.6,301.74 L82.0,303.84 L82.4,301.96 L82.8,303.65 L83.2,300.94 L83.6,303.52 L84.0,301.02 L84.4,303.97 L84.8,300.82 L85.2,304.52 L85.6,301.11 L86.0,304.65 L86.4,302.08 L86.8,303.78 L87.2,301.59 L87.6,304.02 L88.0,301.13 L88.4,304.70 L88.8,301.03 L89.2,304.77 L89.6,301.10 L90.0,303.91 L90.4,301.38 L90.8,304.50 L91.2,300.92 L91.6,303.93 L92.0,301.61 L92.4,304.30 L92.8,301.80 L93.2,304.70 L93.6,302.14 L94.0,304.35 L94.4,301.41 L94.8,303.67 L95.2,301.28 L95.6,304.09 L96.0,300.70 L96.4,304.71 L96.8,301.26 L97.2,304.69 L97.6,300.81 L98.0,303.63 L98.4,300.90 L98.8,304.63 L99.2,300.66 L99.6,304.45 L100.0,301.64 L100.4,303.59 L100.8,301.40 L101.2,303.53 L101.6,301.39 L102.0,303.87 L102.4,301.44 L102.8,303.56 L103.2,302.05 L103.6,303.96 L104.0,301.82 L104.4,303.43 L104.8,302.00 L105.2,303.39 L105.6,302.04 L106.0,303.36 L106.4,302.32 L106.8,303.50 L107.2,302.12 L107.6,303.30 L108.0,302.43 L108.4,303.04 L108.8,302.36 L109.2,303.13 L109.6,302.46 L110.0,302.96 L110.4,302.52 L110.8,302.95 L111.2,302.60 L111.6,302.90 L112.0,302.64 L112.4,302.88 L112.8,302.64 L113.2,302.88 L113.6,302.64 L114.0,302.88 L114.4,302.64 L114.8,302.88 L115.2,302.64 L115.6,302.88 L116.0,302.64" fill="none" stroke="#15157a" stroke-width="0.62"/><path d="M24.4,308.16 L24.8,307.92 L25.2,308.16 L25.6,307.92 L26.0,308.16 L26.4,307.92 L26.8,308.16 L27.2,307.92 L27.6,308.16 L28.0,307.92 L28.4,308.16 L28.8,307.92 L29.2,308.16 L29.6,307.92 L30.0,308.16 L30.4,307.92 L30.8,308.16 L31.2,307.92 L31.6,308.16 L32.0,307.92 L32.4,308.17 L32.8,307.91 L33.2,308.20 L33.6,307.83 L34.0,308.26 L34.4,307.84 L34.8,308.34 L35.2,307.79 L35.6,308.43 L36.0,307.73 L36.4,308.28 L36.8,307.49 L37.2,308.31 L37.6,307.68 L38.0,308.65 L38.4,307.70 L38.8,308.62 L39.2,307.25 L39.6,308.72 L40.0,307.48 L40.4,308.91 L40.8,307.07 L41.2,308.87 L41.6,307.13 L42.0,308.73 L42.4,307.24 L42.8,309.44 L43.2,306.60 L43.6,308.51 L44.0,307.33 L44.4,308.81 L44.8,306.56 L45.2,308.83 L45.6,307.26 L46.0,309.65 L46.4,307.21 L46.8,310.07 L47.2,306.74 L47.6,310.01 L48.0,306.19 L48.4,308.97 L48.8,306.24 L49.2,309.28 L49.6,307.09 L50.0,308.73 L50.4,306.37 L50.8,309.50 L51.2,306.97 L51.6,309.91 L52.0,307.12 L52.4,309.33 L52.8,307.29 L53.2,309.19 L53.6,306.09 L54.0,309.41 L54.4,307.19 L54.8,309.01 L55.2,306.45 L55.6,309.08 L56.0,306.09 L56.4,308.75 L56.8,306.12 L57.2,309.59 L57.6,306.19 L58.0,309.19 L58.4,307.32 L58.8,308.92 L59.2,306.48 L59.6,308.70 L60.0,307.25 L60.4,309.83 L60.8,306.10 L61.2,309.94 L61.6,306.16 L62.0,309.49 L62.4,306.11 L62.8,309.71 L63.2,306.58 L63.6,309.30 L64.0,307.38 L64.4,308.79 L64.8,307.05 L65.2,309.35 L65.6,307.24 L66.0,310.12 L66.4,306.56 L66.8,309.77 L67.2,306.08 L67.6,309.00 L68.0,306.09 L68.4,310.10 L68.8,307.02 L69.2,308.85 L69.6,306.22 L70.0,309.99 L70.4,306.22 L70.8,309.27 L71.2,306.52 L71.6,308.83 L72.0,307.07 L72.4,309.29 L72.8,306.30 L73.2,308.79 L73.6,306.03 L74.0,308.70 L74.4,305.97 L74.8,309.02 L75.2,306.19 L75.6,309.89 L76.0,305.99 L76.4,309.37 L76.8,306.37 L77.2,309.10 L77.6,306.17 L78.0,308.82 L78.4,306.09 L78.8,309.55 L79.2,307.33 L79.6,310.07 L80.0,306.95 L80.4,308.76 L80.8,307.03 L81.2,308.70 L81.6,307.00 L82.0,309.72 L82.4,305.94 L82.8,309.61 L83.2,306.14 L83.6,309.89 L84.0,306.35 L84.4,309.24 L84.8,307.04 L85.2,308.89 L85.6,306.60 L86.0,308.97 L86.4,306.31 L86.8,309.14 L87.2,306.55 L87.6,309.48 L88.0,306.48 L88.4,308.89 L88.8,307.04 L89.2,309.69 L89.6,307.10 L90.0,309.67 L90.4,305.97 L90.8,309.24 L91.2,305.98 L91.6,309.58 L92.0,306.00 L92.4,309.45 L92.8,306.29 L93.2,309.68 L93.6,307.13 L94.0,309.44 L94.4,306.55 L94.8,309.36 L95.2,306.43 L95.6,310.02 L96.0,306.23 L96.4,309.88 L96.8,307.20 L97.2,309.71 L97.6,306.48 L98.0,309.99 L98.4,307.46 L98.8,308.83 L99.2,306.26 L99.6,309.01 L100.0,306.72 L100.4,309.17 L100.8,307.16 L101.2,308.92 L101.6,307.09 L102.0,309.32 L102.4,307.20 L102.8,309.03 L103.2,307.46 L103.6,308.86 L104.0,307.34 L104.4,308.78 L104.8,307.28 L105.2,308.36 L105.6,307.36 L106.0,308.53 L106.4,307.71 L106.8,308.40 L107.2,307.81 L107.6,308.29 L108.0,307.70 L108.4,308.32 L108.8,307.78 L109.2,308.20 L109.6,307.90 L110.0,308.18 L110.4,307.91 L110.8,308.16 L111.2,307.92 L111.6,308.16 L112.0,307.92 L112.4,308.16 L112.8,307.92 L113.2,308.16 L113.6,307.92 L114.0,308.16 L114.4,307.92 L114.8,308.16 L115.2,307.92 L115.6,308.16 L116.0,307.92" fill="none" stroke="#15157a" stroke-width="0.62"/><path d="M24.4,313.44 L24.8,313.20 L25.2,313.44 L25.6,313.20 L26.0,313.44 L26.4,313.20 L26.8,313.44 L27.2,313.20 L27.6,313.44 L28.0,313.20 L28.4,313.44 L28.8,313.20 L29.2,313.44 L29.6,313.20 L30.0,313.44 L30.4,313.20 L30.8,313.44 L31.2,313.20 L31.6,313.44 L32.0,313.20 L32.4,313.44 L32.8,313.20 L33.2,313.44 L33.6,313.19 L34.0,313.47 L34.4,313.18 L34.8,313.48 L35.2,313.07 L35.6,313.49 L36.0,313.02 L36.4,313.61 L36.8,313.11 L37.2,313.69 L37.6,313.10 L38.0,313.83 L38.4,312.97 L38.8,313.94 L39.2,312.66 L39.6,313.67 L40.0,312.82 L40.4,313.71 L40.8,312.54 L41.2,313.72 L41.6,312.92 L42.0,313.77 L42.4,312.27 L42.8,313.92 L43.2,312.63 L43.6,314.15 L44.0,312.35 L44.4,314.19 L44.8,311.85 L45.2,314.18 L45.6,312.27 L46.0,314.87 L46.4,312.48 L46.8,314.10 L47.2,311.62 L47.6,314.35 L48.0,311.42 L48.4,315.17 L48.8,312.14 L49.2,314.44 L49.6,312.55 L50.0,315.25 L50.4,312.04 L50.8,314.45 L51.2,312.44 L51.6,314.28 L52.0,311.39 L52.4,314.14 L52.8,311.87 L53.2,314.88 L53.6,311.92 L54.0,314.69 L54.4,312.10 L54.8,314.23 L55.2,311.47 L55.6,315.29 L56.0,311.85 L56.4,314.32 L56.8,311.33 L57.2,314.24 L57.6,312.44 L58.0,314.88 L58.4,311.45 L58.8,314.80 L59.2,312.54 L59.6,315.41 L60.0,312.47 L60.4,314.46 L60.8,311.22 L61.2,315.13 L61.6,311.57 L62.0,314.05 L62.4,311.42 L62.8,314.54 L63.2,312.68 L63.6,315.12 L64.0,311.30 L64.4,314.01 L64.8,312.02 L65.2,315.29 L65.6,312.20 L66.0,314.39 L66.4,311.53 L66.8,314.60 L67.2,311.20 L67.6,315.22 L68.0,311.41 L68.4,315.00 L68.8,312.41 L69.2,314.97 L69.6,311.83 L70.0,314.66 L70.4,311.85 L70.8,314.40 L71.2,312.40 L71.6,315.31 L72.0,312.15 L72.4,314.10 L72.8,311.24 L73.2,314.71 L73.6,311.69 L74.0,314.45 L74.4,312.48 L74.8,314.44 L75.2,311.45 L75.6,314.35 L76.0,311.33 L76.4,314.40 L76.8,311.35 L77.2,314.21 L77.6,312.03 L78.0,314.13 L78.4,312.48 L78.8,314.72 L79.2,312.15 L79.6,314.75 L80.0,312.38 L80.4,314.41 L80.8,312.22 L81.2,315.29 L81.6,312.58 L82.0,314.56 L82.4,311.42 L82.8,314.80 L83.2,312.32 L83.6,315.44 L84.0,312.54 L84.4,314.15 L84.8,312.67 L85.2,314.60 L85.6,311.41 L86.0,314.36 L86.4,312.27 L86.8,315.14 L87.2,312.58 L87.6,313.97 L88.0,311.70 L88.4,314.07 L88.8,311.91 L89.2,314.16 L89.6,311.80 L90.0,315.22 L90.4,312.02 L90.8,314.35 L91.2,311.76 L91.6,314.99 L92.0,312.61 L92.4,314.30 L92.8,312.14 L93.2,314.70 L93.6,312.29 L94.0,314.93 L94.4,312.32 L94.8,315.30 L95.2,312.17 L95.6,314.27 L96.0,312.58 L96.4,314.13 L96.8,312.38 L97.2,315.26 L97.6,312.08 L98.0,314.60 L98.4,311.26 L98.8,315.39 L99.2,311.57 L99.6,314.25 L100.0,312.30 L100.4,314.53 L100.8,312.46 L101.2,314.25 L101.6,312.58 L102.0,314.06 L102.4,312.10 L102.8,314.34 L103.2,312.49 L103.6,314.13 L104.0,312.44 L104.4,314.21 L104.8,312.95 L105.2,314.21 L105.6,312.72 L106.0,313.82 L106.4,312.54 L106.8,313.94 L107.2,312.91 L107.6,313.57 L108.0,312.95 L108.4,313.66 L108.8,313.02 L109.2,313.53 L109.6,313.04 L110.0,313.52 L110.4,313.09 L110.8,313.50 L111.2,313.17 L111.6,313.46 L112.0,313.20 L112.4,313.44 L112.8,313.20 L113.2,313.44 L113.6,313.20 L114.0,313.44 L114.4,313.20 L114.8,313.44 L115.2,313.20 L115.6,313.44 L116.0,313.20" fill="none" stroke="#15157a" stroke-width="0.62"/><path d="M24.4,318.72 L24.8,318.48 L25.2,318.72 L25.6,318.48 L26.0,318.72 L26.4,318.48 L26.8,318.72 L27.2,318.48 L27.6,318.72 L28.0,318.48 L28.4,318.72 L28.8,318.47 L29.2,318.75 L29.6,318.45 L30.0,318.77 L30.4,318.35 L30.8,318.82 L31.2,318.39 L31.6,318.85 L32.0,318.28 L32.4,318.92 L32.8,318.27 L33.2,318.95 L33.6,318.27 L34.0,319.07 L34.4,318.05 L34.8,318.93 L35.2,317.98 L35.6,319.09 L36.0,317.66 L36.4,319.57 L36.8,318.15 L37.2,319.50 L37.6,317.94 L38.0,319.10 L38.4,317.40 L38.8,319.88 L39.2,317.38 L39.6,319.72 L40.0,317.06 L40.4,319.72 L40.8,317.29 L41.2,319.93 L41.6,316.96 L42.0,320.30 L42.4,317.60 L42.8,319.49 L43.2,317.18 L43.6,320.10 L44.0,317.45 L44.4,320.51 L44.8,316.71 L45.2,320.25 L45.6,317.18 L46.0,320.26 L46.4,317.69 L46.8,320.43 L47.2,317.79 L47.6,320.58 L48.0,317.04 L48.4,319.64 L48.8,317.69 L49.2,320.12 L49.6,317.28 L50.0,320.26 L50.4,317.83 L50.8,320.53 L51.2,317.34 L51.6,319.88 L52.0,316.87 L52.4,320.13 L52.8,317.31 L53.2,319.66 L53.6,317.28 L54.0,319.27 L54.4,317.60 L54.8,320.46 L55.2,317.80 L55.6,319.35 L56.0,316.71 L56.4,319.78 L56.8,317.19 L57.2,320.10 L57.6,316.90 L58.0,319.70 L58.4,316.82 L58.8,319.22 L59.2,316.71 L59.6,319.68 L60.0,317.04 L60.4,319.68 L60.8,316.86 L61.2,319.78 L61.6,317.08 L62.0,319.70 L62.4,316.73 L62.8,320.39 L63.2,317.68 L63.6,320.35 L64.0,316.57 L64.4,319.58 L64.8,317.69 L65.2,320.62 L65.6,316.54 L66.0,319.41 L66.4,316.82 L66.8,320.62 L67.2,317.58 L67.6,320.39 L68.0,317.53 L68.4,320.40 L68.8,317.22 L69.2,319.93 L69.6,317.79 L70.0,320.20 L70.4,316.93 L70.8,319.66 L71.2,317.91 L71.6,319.36 L72.0,317.59 L72.4,320.71 L72.8,316.86 L73.2,320.56 L73.6,316.86 L74.0,319.42 L74.4,317.40 L74.8,320.64 L75.2,316.70 L75.6,320.71 L76.0,316.75 L76.4,320.29 L76.8,316.84 L77.2,320.59 L77.6,317.34 L78.0,319.27 L78.4,317.51 L78.8,319.24 L79.2,317.57 L79.6,320.10 L80.0,317.57 L80.4,319.59 L80.8,317.84 L81.2,319.76 L81.6,317.21 L82.0,320.11 L82.4,316.57 L82.8,319.33 L83.2,317.60 L83.6,319.34 L84.0,316.58 L84.4,320.17 L84.8,317.00 L85.2,320.44 L85.6,317.98 L86.0,320.58 L86.4,317.48 L86.8,320.16 L87.2,317.37 L87.6,320.34 L88.0,317.53 L88.4,319.64 L88.8,317.61 L89.2,320.31 L89.6,317.30 L90.0,319.45 L90.4,317.45 L90.8,320.07 L91.2,317.42 L91.6,320.11 L92.0,316.72 L92.4,320.18 L92.8,316.78 L93.2,319.68 L93.6,316.68 L94.0,320.63 L94.4,317.19 L94.8,319.25 L95.2,317.85 L95.6,320.36 L96.0,316.68 L96.4,320.31 L96.8,317.22 L97.2,320.03 L97.6,317.81 L98.0,320.08 L98.4,316.61 L98.8,319.44 L99.2,317.27 L99.6,320.17 L100.0,317.33 L100.4,319.48 L100.8,317.88 L101.2,319.79 L101.6,317.28 L102.0,319.80 L102.4,317.86 L102.8,319.57 L103.2,317.63 L103.6,319.21 L104.0,317.78 L104.4,319.14 L104.8,318.19 L105.2,318.89 L105.6,318.00 L106.0,319.16 L106.4,318.34 L106.8,318.85 L107.2,318.30 L107.6,318.85 L108.0,318.27 L108.4,318.80 L108.8,318.36 L109.2,318.80 L109.6,318.44 L110.0,318.76 L110.4,318.47 L110.8,318.72 L111.2,318.48 L111.6,318.72 L112.0,318.48 L112.4,318.72 L112.8,318.48 L113.2,318.72 L113.6,318.48 L114.0,318.72 L114.4,318.48 L114.8,318.72 L115.2,318.48 L115.6,318.72 L116.0,318.48" fill="none" stroke="#15157a" stroke-width="0.62"/><path d="M24.4,324.00 L24.8,323.76 L25.2,324.00 L25.6,323.76 L26.0,324.00 L26.4,323.76 L26.8,324.00 L27.2,323.76 L27.6,324.00 L28.0,323.76 L28.4,324.00 L28.8,323.76 L29.2,324.00 L29.6,323.76 L30.0,324.00 L30.4,323.76 L30.8,324.00 L31.2,323.76 L31.6,324.00 L32.0,323.76 L32.4,324.00 L32.8,323.76 L33.2,324.00 L33.6,323.76 L34.0,324.00 L34.4,323.74 L34.8,324.05 L35.2,323.68 L35.6,324.06 L36.0,323.66 L36.4,324.20 L36.8,323.68 L37.2,324.09 L37.6,323.63 L38.0,324.30 L38.4,323.55 L38.8,324.37 L39.2,323.30 L39.6,324.49 L40.0,323.58 L40.4,324.52 L40.8,323.13 L41.2,324.62 L41.6,323.00 L42.0,324.78 L42.4,323.07 L42.8,324.92 L43.2,323.05 L43.6,324.38 L44.0,323.20 L44.4,325.20 L44.8,323.09 L45.2,324.84 L45.6,322.44 L46.0,325.16 L46.4,322.42 L46.8,325.00 L47.2,322.67 L47.6,324.55 L48.0,323.02 L48.4,324.71 L48.8,322.46 L49.2,325.29 L49.6,323.15 L50.0,325.45 L50.4,323.11 L50.8,325.08 L51.2,323.22 L51.6,325.21 L52.0,323.04 L52.4,325.91 L52.8,322.72 L53.2,325.74 L53.6,322.60 L54.0,324.99 L54.4,322.00 L54.8,324.91 L55.2,322.49 L55.6,325.46 L56.0,321.77 L56.4,325.56 L56.8,323.18 L57.2,325.18 L57.6,321.83 L58.0,325.78 L58.4,322.71 L58.8,324.69 L59.2,322.86 L59.6,325.64 L60.0,322.99 L60.4,325.84 L60.8,322.86 L61.2,325.53 L61.6,322.22 L62.0,324.86 L62.4,322.48 L62.8,325.44 L63.2,322.86 L63.6,325.30 L64.0,322.32 L64.4,325.94 L64.8,322.83 L65.2,324.76 L65.6,322.50 L66.0,325.40 L66.4,322.53 L66.8,325.87 L67.2,322.96 L67.6,325.26 L68.0,322.55 L68.4,324.80 L68.8,322.58 L69.2,325.18 L69.6,322.70 L70.0,325.66 L70.4,321.78 L70.8,325.95 L71.2,322.93 L71.6,325.06 L72.0,321.84 L72.4,324.62 L72.8,323.13 L73.2,324.60 L73.6,321.82 L74.0,325.26 L74.4,322.61 L74.8,324.65 L75.2,321.93 L75.6,325.99 L76.0,322.23 L76.4,325.87 L76.8,322.41 L77.2,324.97 L77.6,322.99 L78.0,324.96 L78.4,323.04 L78.8,325.05 L79.2,323.19 L79.6,324.56 L80.0,321.91 L80.4,325.77 L80.8,322.04 L81.2,325.03 L81.6,322.58 L82.0,325.31 L82.4,322.08 L82.8,324.96 L83.2,322.49 L83.6,325.32 L84.0,322.00 L84.4,325.02 L84.8,323.26 L85.2,325.11 L85.6,321.93 L86.0,324.76 L86.4,322.32 L86.8,324.70 L87.2,322.85 L87.6,325.44 L88.0,323.11 L88.4,325.18 L88.8,322.38 L89.2,325.08 L89.6,322.13 L90.0,325.77 L90.4,322.84 L90.8,325.64 L91.2,322.13 L91.6,325.39 L92.0,322.37 L92.4,325.35 L92.8,322.15 L93.2,325.54 L93.6,322.85 L94.0,325.48 L94.4,322.19 L94.8,325.19 L95.2,321.92 L95.6,324.95 L96.0,322.52 L96.4,325.21 L96.8,322.55 L97.2,324.64 L97.6,322.58 L98.0,324.50 L98.4,322.84 L98.8,324.79 L99.2,322.78 L99.6,325.07 L100.0,322.65 L100.4,324.45 L100.8,322.84 L101.2,324.56 L101.6,323.22 L102.0,324.22 L102.4,323.11 L102.8,324.28 L103.2,323.48 L103.6,324.26 L104.0,323.55 L104.4,324.20 L104.8,323.59 L105.2,324.21 L105.6,323.62 L106.0,324.18 L106.4,323.60 L106.8,324.12 L107.2,323.71 L107.6,324.04 L108.0,323.74 L108.4,324.00 L108.8,323.76 L109.2,324.00 L109.6,323.76 L110.0,324.00 L110.4,323.76 L110.8,324.00 L111.2,323.76 L111.6,324.00 L112.0,323.76 L112.4,324.00 L112.8,323.76 L113.2,324.00 L113.6,323.76 L114.0,324.00 L114.4,323.76 L114.8,324.00 L115.2,323.76 L115.6,324.00 L116.0,323.76" fill="none" stroke="#15157a" stroke-width="0.62"/><path d="M24.4,329.28 L24.8,329.04 L25.2,329.28 L25.6,329.04 L26.0,329.28 L26.4,329.04 L26.8,329.28 L27.2,329.04 L27.6,329.28 L28.0,329.04 L28.4,329.28 L28.8,329.04 L29.2,329.28 L29.6,329.04 L30.0,329.28 L30.4,329.04 L30.8,329.28 L31.2,329.04 L31.6,329.28 L32.0,329.04 L32.4,329.28 L32.8,329.04 L33.2,329.30 L33.6,329.00 L34.0,329.32 L34.4,328.99 L34.8,329.37 L35.2,328.88 L35.6,329.48 L36.0,328.90 L36.4,329.50 L36.8,328.92 L37.2,329.58 L37.6,328.76 L38.0,329.71 L38.4,328.52 L38.8,329.46 L39.2,328.38 L39.6,329.56 L40.0,328.27 L40.4,330.12 L40.8,328.66 L41.2,329.73 L41.6,328.67 L42.0,330.29 L42.4,328.11 L42.8,330.45 L43.2,327.96 L43.6,329.97 L44.0,327.88 L44.4,330.03 L44.8,328.28 L45.2,330.18 L45.6,327.76 L46.0,330.12 L46.4,327.84 L46.8,330.53 L47.2,327.41 L47.6,330.48 L48.0,327.91 L48.4,330.61 L48.8,327.85 L49.2,330.88 L49.6,328.38 L50.0,330.05 L50.4,328.48 L50.8,330.40 L51.2,327.27 L51.6,330.68 L52.0,327.59 L52.4,331.18 L52.8,327.31 L53.2,330.22 L53.6,328.21 L54.0,330.59 L54.4,328.20 L54.8,330.67 L55.2,328.42 L55.6,330.37 L56.0,327.46 L56.4,330.16 L56.8,328.32 L57.2,330.90 L57.6,328.25 L58.0,331.13 L58.4,327.62 L58.8,331.11 L59.2,327.74 L59.6,330.51 L60.0,328.15 L60.4,329.87 L60.8,327.11 L61.2,330.11 L61.6,328.42 L62.0,331.18 L62.4,327.73 L62.8,330.65 L63.2,327.16 L63.6,330.88 L64.0,328.15 L64.4,330.20 L64.8,327.56 L65.2,330.80 L65.6,328.20 L66.0,330.15 L66.4,327.78 L66.8,329.87 L67.2,327.33 L67.6,330.77 L68.0,328.31 L68.4,330.65 L68.8,327.65 L69.2,329.91 L69.6,327.90 L70.0,330.97 L70.4,327.86 L70.8,330.87 L71.2,328.19 L71.6,331.28 L72.0,327.54 L72.4,330.62 L72.8,328.52 L73.2,330.31 L73.6,328.54 L74.0,330.44 L74.4,328.27 L74.8,330.15 L75.2,328.08 L75.6,330.00 L76.0,328.11 L76.4,330.54 L76.8,328.34 L77.2,330.62 L77.6,327.12 L78.0,330.86 L78.4,327.11 L78.8,329.94 L79.2,327.55 L79.6,330.14 L80.0,327.14 L80.4,330.52 L80.8,327.46 L81.2,330.94 L81.6,328.34 L82.0,329.93 L82.4,327.32 L82.8,331.01 L83.2,327.89 L83.6,329.82 L84.0,328.50 L84.4,330.98 L84.8,327.50 L85.2,330.34 L85.6,327.52 L86.0,330.99 L86.4,328.53 L86.8,330.90 L87.2,327.07 L87.6,331.08 L88.0,327.21 L88.4,330.44 L88.8,327.63 L89.2,329.95 L89.6,327.35 L90.0,330.77 L90.4,327.93 L90.8,329.85 L91.2,328.27 L91.6,330.38 L92.0,327.16 L92.4,330.49 L92.8,327.24 L93.2,330.06 L93.6,328.16 L94.0,330.13 L94.4,328.11 L94.8,330.97 L95.2,327.99 L95.6,330.26 L96.0,327.52 L96.4,330.45 L96.8,327.22 L97.2,330.82 L97.6,327.35 L98.0,330.34 L98.4,328.07 L98.8,330.28 L99.2,327.43 L99.6,330.76 L100.0,328.04 L100.4,330.15 L100.8,328.64 L101.2,330.40 L101.6,328.20 L102.0,329.90 L102.4,328.65 L102.8,329.87 L103.2,328.33 L103.6,329.66 L104.0,328.69 L104.4,329.73 L104.8,328.64 L105.2,329.43 L105.6,328.88 L106.0,329.53 L106.4,328.72 L106.8,329.47 L107.2,328.96 L107.6,329.39 L108.0,328.96 L108.4,329.41 L108.8,328.99 L109.2,329.36 L109.6,329.02 L110.0,329.29 L110.4,329.04 L110.8,329.28 L111.2,329.04 L111.6,329.28 L112.0,329.04 L112.4,329.28 L112.8,329.04 L113.2,329.28 L113.6,329.04 L114.0,329.28 L114.4,329.04 L114.8,329.28 L115.2,329.04 L115.6,329.28 L116.0,329.04" fill="none" stroke="#15157a" stroke-width="0.62"/><g stroke="#8a8a8a" stroke-width="0.8"><line x1="496.2" y1="41.6" x2="496.2" y2="337.6"/><line x1="565.7" y1="41.6" x2="565.7" y2="337.6"/></g><path d="M475.1,261.9C475.2,261.0 475.6,258.5 475.9,256.9C476.2,255.3 476.5,253.8 476.8,252.3C477.1,250.7 477.4,249.1 477.7,247.4C478.0,245.7 478.3,244.0 478.5,242.3C478.8,240.5 479.1,238.1 479.4,237.1C479.7,236.1 480.0,236.6 480.3,236.3C480.6,236.0 480.9,235.8 481.2,235.4C481.4,235.0 481.7,234.5 482.0,233.7C482.3,232.9 482.6,231.8 482.9,230.6C483.2,229.4 483.5,227.8 483.8,226.5C484.0,225.1 484.3,223.7 484.6,222.6C484.9,221.6 485.2,220.8 485.5,220.0C485.8,219.2 486.1,218.6 486.4,217.8C486.7,217.0 486.9,215.9 487.2,215.2C487.5,214.6 487.8,213.7 488.1,214.0C488.4,214.2 488.7,215.4 489.0,216.7C489.3,217.9 489.6,221.0 489.8,221.5C490.1,222.0 490.4,221.1 490.7,219.8C491.0,218.4 491.3,215.9 491.6,213.6C491.9,211.3 492.2,207.3 492.5,206.0C492.7,204.8 493.0,205.1 493.3,206.1C493.6,207.0 493.9,210.7 494.2,211.7C494.5,212.7 494.8,213.2 495.1,212.0C495.3,210.8 495.6,206.3 495.9,204.3C496.2,202.2 496.5,199.1 496.8,199.6C497.1,200.1 497.4,203.9 497.7,207.3C498.0,210.7 498.2,217.3 498.5,220.0C498.8,222.8 499.1,224.3 499.4,223.6C499.7,222.8 500.0,218.3 500.3,215.7C500.6,213.1 500.9,209.3 501.1,207.9C501.4,206.6 501.7,207.0 502.0,207.6C502.3,208.1 502.6,210.4 502.9,211.2C503.2,212.1 503.5,212.5 503.7,212.7C504.0,212.9 504.3,212.1 504.6,212.4C504.9,212.8 505.2,213.5 505.5,214.8C505.8,216.1 506.1,218.7 506.4,220.4C506.6,222.1 506.9,224.2 507.2,225.0C507.5,225.9 507.8,225.9 508.1,225.5C508.4,225.1 508.7,223.5 509.0,222.6C509.3,221.6 509.5,220.2 509.8,219.6C510.1,219.0 510.4,218.7 510.7,219.0C511.0,219.2 511.3,220.1 511.6,221.2C511.9,222.2 512.1,223.9 512.4,225.1C512.7,226.4 513.0,227.7 513.3,228.6C513.6,229.5 513.9,230.4 514.2,230.6C514.5,230.8 514.8,230.5 515.0,229.8C515.3,229.2 515.6,227.9 515.9,226.7C516.2,225.6 516.5,223.9 516.8,222.9C517.1,221.9 517.4,220.9 517.7,220.7C517.9,220.4 518.2,220.7 518.5,221.5C518.8,222.2 519.1,223.7 519.4,225.2C519.7,226.6 520.0,228.6 520.3,229.9C520.5,231.3 520.8,232.7 521.1,233.3C521.4,233.9 521.7,234.0 522.0,233.5C522.3,233.0 522.6,231.7 522.9,230.4C523.2,229.1 523.4,227.1 523.7,225.6C524.0,224.2 524.3,222.5 524.6,221.7C524.9,220.9 525.2,220.4 525.5,220.6C525.8,220.9 526.1,221.8 526.3,223.0C526.6,224.1 526.9,225.9 527.2,227.4C527.5,228.8 527.8,230.6 528.1,231.6C528.4,232.6 528.7,233.4 528.9,233.6C529.2,233.7 529.5,233.3 529.8,232.6C530.1,231.9 530.4,230.6 530.7,229.6C531.0,228.6 531.3,227.2 531.6,226.5C531.8,225.7 532.1,225.2 532.4,225.1C532.7,225.0 533.0,225.5 533.3,226.0C533.6,226.6 533.9,227.7 534.2,228.5C534.5,229.2 534.7,230.2 535.0,230.6C535.3,231.0 535.6,231.2 535.9,231.0C536.2,230.8 536.5,230.1 536.8,229.4C537.1,228.8 537.3,227.6 537.6,227.0C537.9,226.3 538.2,225.6 538.5,225.5C538.8,225.4 539.1,225.7 539.4,226.5C539.7,227.2 540.0,228.6 540.2,229.9C540.5,231.2 540.8,233.0 541.1,234.2C541.4,235.4 541.7,236.6 542.0,236.9C542.3,237.3 542.6,237.1 542.9,236.3C543.1,235.4 543.4,233.7 543.7,232.0C544.0,230.3 544.3,227.8 544.6,226.0C544.9,224.2 545.2,222.2 545.5,221.2C545.7,220.2 546.0,219.7 546.3,220.2C546.6,220.7 546.9,222.2 547.2,224.1C547.5,226.0 547.8,229.2 548.1,231.7C548.4,234.3 548.6,237.6 548.9,239.5C549.2,241.5 549.5,243.1 549.8,243.3C550.1,243.5 550.4,242.5 550.7,240.9C551.0,239.2 551.3,236.0 551.5,233.5C551.8,230.9 552.1,228.0 552.4,225.8C552.7,223.5 553.0,221.7 553.3,220.2C553.6,218.7 553.9,217.5 554.1,216.9C554.4,216.3 554.7,215.9 555.0,216.7C555.3,217.6 555.6,219.4 555.9,222.0C556.2,224.5 556.5,229.0 556.8,231.9C557.0,234.8 557.3,238.5 557.6,239.4C557.9,240.2 558.2,239.0 558.5,237.1C558.8,235.3 559.1,230.9 559.4,228.2C559.7,225.6 559.9,222.3 560.2,221.3C560.5,220.3 560.8,221.4 561.1,222.2C561.4,223.0 561.7,225.5 562.0,226.4C562.3,227.2 562.5,227.3 562.8,227.3C563.1,227.2 563.4,225.9 563.7,226.1C564.0,226.3 564.3,227.0 564.6,228.4C564.9,229.8 565.2,232.7 565.4,234.4C565.7,236.1 566.0,238.1 566.3,238.7C566.6,239.3 566.9,238.5 567.2,238.0C567.5,237.5 567.8,235.9 568.1,235.6C568.3,235.4 568.6,235.6 568.9,236.3C569.2,237.0 569.5,238.8 569.8,239.8C570.1,240.9 570.4,242.2 570.7,242.5C570.9,242.9 571.2,242.6 571.5,242.0C571.8,241.4 572.1,240.0 572.4,239.1C572.7,238.1 573.0,236.8 573.3,236.2C573.6,235.6 573.8,235.2 574.1,235.4C574.4,235.7 574.7,236.4 575.0,237.7C575.3,239.0 575.6,241.0 575.9,243.1C576.2,245.2 576.5,248.0 576.7,250.2C577.0,252.4 577.3,254.9 577.6,256.3C577.9,257.7 578.2,258.8 578.5,258.8C578.8,258.8 579.1,257.8 579.4,256.4C579.6,255.0 579.9,252.5 580.2,250.4C580.5,248.3 580.8,245.5 581.1,243.9C581.4,242.2 581.7,240.6 582.0,240.3C582.2,240.0 582.5,240.6 582.8,242.0C583.1,243.4 583.4,246.1 583.7,248.8C584.0,251.4 584.3,255.1 584.6,257.9C584.9,260.8 585.1,263.9 585.4,265.8C585.7,267.6 586.0,268.9 586.3,269.2C586.6,269.5 586.9,268.6 587.2,267.4C587.5,266.1 587.8,263.8 588.0,261.8C588.3,259.9 588.6,257.4 588.9,255.8C589.2,254.3 589.5,252.9 589.8,252.6C590.1,252.2 590.4,252.6 590.6,253.7C590.9,254.8 591.2,256.6 591.5,259.2C591.8,261.8 592.1,266.1 592.4,269.2C592.7,272.4 593.0,275.6 593.3,278.1C593.5,280.5 594.0,282.9 594.1,283.9" fill="none" stroke="#ff4040" stroke-opacity="0.34" stroke-width="1.05"/><path d="M481.9,263.0C482.0,262.0 482.5,259.6 482.7,257.5C483.0,255.4 483.3,252.8 483.6,250.3C483.9,247.7 484.2,244.8 484.5,242.3C484.8,239.8 485.1,237.3 485.4,235.2C485.6,233.2 485.9,230.9 486.2,230.0C486.5,229.1 486.8,230.2 487.1,230.0C487.4,229.8 487.7,229.6 488.0,228.9C488.3,228.2 488.5,226.8 488.8,225.6C489.1,224.4 489.4,223.1 489.7,221.7C490.0,220.3 490.3,217.9 490.6,217.1C490.9,216.2 491.1,217.2 491.4,216.5C491.7,215.7 492.0,214.6 492.3,212.6C492.6,210.6 492.9,207.0 493.2,204.5C493.5,201.9 493.8,198.5 494.0,197.5C494.3,196.5 494.6,196.8 494.9,198.5C495.2,200.2 495.5,204.7 495.8,207.9C496.1,211.2 496.4,215.7 496.7,218.0C496.9,220.3 497.2,221.3 497.5,221.5C497.8,221.8 498.1,219.9 498.4,219.4C498.7,218.9 499.0,218.1 499.3,218.7C499.5,219.2 499.8,221.1 500.1,222.9C500.4,224.7 500.7,228.1 501.0,229.6C501.3,231.1 501.6,232.1 501.9,232.0C502.2,232.0 502.4,230.4 502.7,229.2C503.0,228.1 503.3,226.1 503.6,225.0C503.9,223.9 504.2,223.1 504.5,222.6C504.8,222.0 505.1,222.0 505.3,221.6C505.6,221.1 505.9,220.7 506.2,220.0C506.5,219.3 506.8,218.2 507.1,217.5C507.4,216.8 507.7,216.0 507.9,215.9C508.2,215.8 508.5,216.2 508.8,217.1C509.1,218.0 509.4,219.6 509.7,221.3C510.0,223.0 510.3,225.3 510.6,227.2C510.8,229.1 511.1,231.2 511.4,232.7C511.7,234.3 512.0,235.8 512.3,236.5C512.6,237.2 512.9,237.2 513.2,237.0C513.5,236.8 513.7,236.0 514.0,235.1C514.3,234.2 514.6,232.8 514.9,231.6C515.2,230.5 515.5,229.0 515.8,228.0C516.1,227.0 516.4,226.1 516.6,225.6C516.9,225.1 517.2,225.0 517.5,225.2C517.8,225.4 518.1,226.0 518.4,226.8C518.7,227.6 519.0,228.7 519.2,229.8C519.5,230.8 519.8,232.0 520.1,233.0C520.4,233.9 520.7,234.8 521.0,235.5C521.3,236.1 521.6,236.6 521.9,236.9C522.1,237.2 522.4,237.2 522.7,237.2C523.0,237.2 523.3,237.0 523.6,236.9C523.9,236.8 524.2,236.6 524.5,236.4C524.8,236.2 525.0,236.1 525.3,235.9C525.6,235.7 525.9,235.5 526.2,235.2C526.5,234.9 526.8,234.5 527.1,234.0C527.4,233.6 527.6,232.9 527.9,232.3C528.2,231.6 528.5,230.7 528.8,230.0C529.1,229.3 529.4,228.5 529.7,228.0C530.0,227.5 530.3,227.1 530.5,227.0C530.8,226.9 531.1,227.1 531.4,227.6C531.7,228.1 532.0,229.0 532.3,229.9C532.6,230.9 532.9,232.2 533.2,233.4C533.4,234.5 533.7,235.8 534.0,236.8C534.3,237.7 534.6,238.5 534.9,238.9C535.2,239.2 535.5,239.2 535.8,238.9C536.0,238.6 536.3,237.8 536.6,236.9C536.9,236.0 537.2,234.6 537.5,233.5C537.8,232.5 538.1,231.2 538.4,230.3C538.7,229.5 538.9,228.7 539.2,228.4C539.5,228.2 539.8,228.2 540.1,228.7C540.4,229.1 540.7,230.0 541.0,230.9C541.3,231.8 541.6,233.2 541.8,234.3C542.1,235.4 542.4,236.7 542.7,237.7C543.0,238.6 543.3,239.5 543.6,240.0C543.9,240.4 544.2,240.7 544.4,240.6C544.7,240.6 545.0,240.2 545.3,239.9C545.6,239.5 545.9,238.8 546.2,238.3C546.5,237.8 546.8,237.3 547.1,237.0C547.3,236.6 547.6,236.4 547.9,236.3C548.2,236.2 548.5,236.3 548.8,236.2C549.1,236.2 549.4,236.2 549.7,236.1C550.0,235.9 550.2,235.7 550.5,235.3C550.8,234.8 551.1,234.0 551.4,233.5C551.7,233.0 552.0,232.7 552.3,232.6C552.6,232.4 552.8,232.6 553.1,232.6C553.4,232.6 553.7,232.7 554.0,232.4C554.3,232.2 554.6,231.6 554.9,231.1C555.2,230.7 555.5,229.8 555.7,229.7C556.0,229.5 556.3,229.7 556.6,230.1C556.9,230.5 557.2,231.8 557.5,232.3C557.8,232.8 558.1,233.3 558.4,232.9C558.6,232.6 558.9,231.7 559.2,230.3C559.5,228.8 559.8,225.9 560.1,224.2C560.4,222.6 560.7,220.6 561.0,220.4C561.2,220.2 561.5,221.3 561.8,223.0C562.1,224.7 562.4,228.1 562.7,230.6C563.0,233.1 563.3,236.1 563.6,238.1C563.9,240.2 564.1,241.6 564.4,243.0C564.7,244.4 565.0,245.2 565.3,246.4C565.6,247.7 565.9,249.1 566.2,250.3C566.5,251.5 566.8,253.1 567.0,253.7C567.3,254.3 567.6,254.6 567.9,254.0C568.2,253.5 568.5,251.9 568.8,250.4C569.1,248.8 569.4,246.5 569.6,244.8C569.9,243.0 570.2,241.2 570.5,239.8C570.8,238.5 571.1,237.6 571.4,236.9C571.7,236.1 572.0,235.8 572.3,235.4C572.5,235.1 572.8,234.9 573.1,234.7C573.4,234.6 573.7,234.5 574.0,234.7C574.3,234.8 574.6,235.1 574.9,235.7C575.2,236.3 575.4,237.1 575.7,238.3C576.0,239.4 576.3,240.9 576.6,242.6C576.9,244.3 577.2,246.4 577.5,248.4C577.8,250.5 578.0,252.9 578.3,255.0C578.6,257.1 578.9,259.4 579.2,261.2C579.5,263.0 579.8,264.7 580.1,265.8C580.4,266.9 580.7,267.6 580.9,267.9C581.2,268.1 581.5,267.8 581.8,267.2C582.1,266.6 582.4,265.4 582.7,264.4C583.0,263.3 583.3,261.8 583.6,260.7C583.8,259.6 584.1,258.5 584.4,257.8C584.7,257.1 585.0,256.6 585.3,256.5C585.6,256.4 585.9,256.7 586.2,257.1C586.4,257.6 586.7,258.5 587.0,259.2C587.3,260.0 587.6,261.0 587.9,261.7C588.2,262.4 588.5,263.0 588.8,263.4C589.1,263.8 589.3,264.0 589.6,264.0C589.9,264.0 590.2,263.7 590.5,263.5C590.8,263.3 591.1,262.9 591.4,262.8C591.7,262.6 592.0,262.5 592.2,262.7C592.5,262.9 592.8,263.3 593.1,264.0C593.4,264.7 593.7,265.7 594.0,266.7C594.3,267.8 594.6,269.2 594.8,270.4C595.1,271.7 595.4,273.0 595.7,274.1C596.0,275.3 596.3,276.3 596.6,277.1C596.9,277.9 597.2,278.4 597.5,278.8C597.7,279.2 598.0,279.3 598.3,279.4C598.6,279.5 598.9,279.4 599.2,279.3C599.5,279.3 599.8,279.1 600.1,279.1C600.4,279.0 600.6,279.0 600.9,278.9C601.2,278.9 601.5,278.5 601.8,278.8C602.1,279.1 602.4,280.1 602.7,280.9C603.0,281.7 603.3,282.7 603.5,283.6C603.8,284.4 604.1,285.1 604.4,285.9C604.7,286.8 605.1,288.1 605.3,288.5" fill="none" stroke="#ff4040" stroke-opacity="0.34" stroke-width="1.05"/><path d="M485.1,263.6C485.3,262.6 485.7,259.4 486.0,257.2C486.3,255.1 486.6,252.8 486.9,250.8C487.2,248.8 487.5,247.3 487.7,245.4C488.0,243.5 488.3,241.9 488.6,239.5C488.9,237.0 489.2,233.4 489.5,230.7C489.8,228.0 490.1,225.6 490.4,223.1C490.6,220.7 490.9,216.9 491.2,216.0C491.5,215.0 491.8,215.9 492.1,217.4C492.4,218.9 492.7,222.5 493.0,224.8C493.3,227.1 493.5,230.5 493.8,231.1C494.1,231.7 494.4,230.8 494.7,228.4C495.0,226.0 495.3,220.6 495.6,216.7C495.9,212.9 496.1,207.4 496.4,205.3C496.7,203.1 497.0,202.5 497.3,203.7C497.6,204.9 497.9,209.3 498.2,212.6C498.5,215.8 498.8,220.8 499.0,223.3C499.3,225.8 499.6,227.1 499.9,227.6C500.2,228.1 500.5,226.6 500.8,226.1C501.1,225.7 501.4,224.4 501.7,224.8C501.9,225.2 502.2,226.6 502.5,228.3C502.8,230.1 503.1,233.3 503.4,235.2C503.7,237.1 504.0,239.2 504.3,239.8C504.5,240.3 504.8,239.6 505.1,238.4C505.4,237.2 505.7,234.5 506.0,232.4C506.3,230.3 506.6,227.5 506.9,225.8C507.2,224.0 507.4,222.5 507.7,221.7C508.0,220.9 508.3,220.7 508.6,220.9C508.9,221.1 509.2,221.8 509.5,222.7C509.8,223.6 510.1,224.9 510.3,226.3C510.6,227.6 510.9,229.3 511.2,231.0C511.5,232.6 511.8,234.6 512.1,236.2C512.4,237.8 512.7,239.3 512.9,240.5C513.2,241.6 513.5,242.6 513.8,243.2C514.1,243.8 514.4,244.1 514.7,244.0C515.0,244.0 515.3,243.6 515.6,243.0C515.8,242.4 516.1,241.5 516.4,240.7C516.7,239.9 517.0,238.8 517.3,238.0C517.6,237.2 517.9,236.3 518.2,235.7C518.5,235.1 518.7,234.6 519.0,234.3C519.3,234.1 519.6,234.0 519.9,234.1C520.2,234.1 520.5,234.4 520.8,234.6C521.1,234.8 521.4,235.2 521.6,235.4C521.9,235.7 522.2,235.9 522.5,235.9C522.8,236.0 523.1,235.9 523.4,235.7C523.7,235.6 524.0,235.2 524.2,234.8C524.5,234.4 524.8,233.9 525.1,233.5C525.4,233.1 525.7,232.6 526.0,232.4C526.3,232.2 526.6,232.1 526.9,232.3C527.1,232.5 527.4,233.0 527.7,233.7C528.0,234.4 528.3,235.4 528.6,236.6C528.9,237.7 529.2,239.2 529.5,240.7C529.8,242.1 530.0,243.7 530.3,245.0C530.6,246.4 530.9,247.8 531.2,248.7C531.5,249.6 531.8,250.4 532.1,250.6C532.4,250.8 532.6,250.7 532.9,250.1C533.2,249.6 533.5,248.5 533.8,247.2C534.1,245.9 534.4,244.1 534.7,242.4C535.0,240.6 535.3,238.5 535.5,236.7C535.8,234.8 536.1,232.9 536.4,231.4C536.7,229.9 537.0,228.6 537.3,227.7C537.6,226.9 537.9,226.5 538.2,226.5C538.4,226.5 538.7,227.0 539.0,227.8C539.3,228.6 539.6,229.9 539.9,231.2C540.2,232.6 540.5,234.3 540.8,235.8C541.0,237.3 541.3,239.0 541.6,240.4C541.9,241.7 542.2,243.0 542.5,243.9C542.8,244.8 543.1,245.5 543.4,245.8C543.7,246.2 543.9,246.2 544.2,246.0C544.5,245.8 544.8,245.2 545.1,244.7C545.4,244.1 545.7,243.3 546.0,242.7C546.3,242.1 546.6,241.3 546.8,240.9C547.1,240.5 547.4,240.1 547.7,240.2C548.0,240.2 548.3,240.5 548.6,241.0C548.9,241.5 549.2,242.4 549.4,243.0C549.7,243.7 550.0,244.7 550.3,244.9C550.6,245.2 550.9,245.1 551.2,244.7C551.5,244.4 551.8,243.4 552.1,242.7C552.3,241.9 552.6,240.8 552.9,240.2C553.2,239.5 553.5,239.1 553.8,238.7C554.1,238.3 554.4,238.4 554.7,237.8C555.0,237.3 555.2,236.7 555.5,235.3C555.8,234.0 556.1,231.8 556.4,229.8C556.7,227.9 557.0,225.1 557.3,223.8C557.6,222.5 557.8,221.4 558.1,222.2C558.4,223.0 558.7,225.9 559.0,228.7C559.3,231.5 559.6,236.2 559.9,239.2C560.2,242.2 560.5,245.2 560.7,246.4C561.0,247.6 561.3,247.2 561.6,246.4C561.9,245.5 562.2,242.9 562.5,241.5C562.8,240.1 563.1,238.4 563.4,238.0C563.6,237.6 563.9,238.3 564.2,239.1C564.5,240.0 564.8,241.9 565.1,242.9C565.4,243.9 565.7,244.9 566.0,245.2C566.2,245.5 566.5,244.9 566.8,244.6C567.1,244.3 567.4,243.4 567.7,243.4C568.0,243.5 568.3,243.8 568.6,244.8C568.9,245.7 569.1,247.6 569.4,249.1C569.7,250.7 570.0,252.8 570.3,254.1C570.6,255.4 570.9,256.6 571.2,257.0C571.5,257.4 571.8,257.2 572.0,256.7C572.3,256.2 572.6,255.0 572.9,253.9C573.2,252.8 573.5,251.3 573.8,250.1C574.1,248.8 574.4,247.4 574.6,246.4C574.9,245.3 575.2,244.3 575.5,243.7C575.8,243.0 576.1,242.6 576.4,242.7C576.7,242.7 577.0,243.1 577.3,243.8C577.5,244.6 577.8,245.7 578.1,247.1C578.4,248.5 578.7,250.3 579.0,252.0C579.3,253.7 579.6,255.8 579.9,257.5C580.2,259.3 580.4,261.1 580.7,262.6C581.0,264.0 581.3,265.3 581.6,266.2C581.9,267.1 582.2,267.7 582.5,268.1C582.8,268.4 583.0,268.4 583.3,268.3C583.6,268.2 583.9,267.8 584.2,267.4C584.5,267.1 584.8,266.6 585.1,266.3C585.4,266.0 585.7,265.7 585.9,265.6C586.2,265.6 586.5,265.7 586.8,266.0C587.1,266.2 587.4,266.8 587.7,267.3C588.0,267.9 588.3,268.5 588.6,269.3C588.8,270.1 589.1,270.8 589.4,272.0C589.7,273.3 590.0,275.4 590.3,276.8C590.6,278.1 590.9,279.3 591.2,280.2C591.4,281.2 591.9,282.0 592.0,282.4" fill="none" stroke="#ff4040" stroke-opacity="0.34" stroke-width="1.05"/><path d="M481.4,265.1C481.6,264.2 482.0,261.4 482.3,259.7C482.6,258.1 482.9,256.8 483.2,255.3C483.5,253.7 483.8,252.2 484.0,250.4C484.3,248.5 484.6,246.5 484.9,244.3C485.2,242.1 485.5,238.9 485.8,237.0C486.1,235.1 486.4,234.4 486.6,232.8C486.9,231.2 487.2,229.3 487.5,227.4C487.8,225.4 488.1,223.0 488.4,221.1C488.7,219.1 489.0,216.9 489.3,215.8C489.5,214.6 489.8,214.1 490.1,214.4C490.4,214.7 490.7,215.5 491.0,217.7C491.3,219.8 491.6,224.3 491.9,227.2C492.2,230.0 492.4,233.3 492.7,234.8C493.0,236.2 493.3,236.5 493.6,235.9C493.9,235.4 494.2,232.9 494.5,231.5C494.8,230.0 495.0,227.8 495.3,227.5C495.6,227.3 495.9,228.1 496.2,229.9C496.5,231.6 496.8,235.4 497.1,238.1C497.4,240.8 497.7,244.4 497.9,245.9C498.2,247.4 498.5,247.8 498.8,246.9C499.1,245.9 499.4,242.9 499.7,240.4C500.0,238.0 500.3,234.3 500.6,232.1C500.8,230.0 501.1,228.2 501.4,227.4C501.7,226.5 502.0,226.8 502.3,226.9C502.6,227.1 502.9,228.0 503.2,228.2C503.4,228.5 503.7,228.7 504.0,228.6C504.3,228.5 504.6,228.0 504.9,227.8C505.2,227.6 505.5,227.3 505.8,227.4C506.1,227.6 506.3,228.0 506.6,228.5C506.9,229.0 507.2,229.9 507.5,230.4C507.8,230.9 508.1,231.3 508.4,231.3C508.7,231.3 509.0,230.9 509.2,230.5C509.5,230.0 509.8,229.1 510.1,228.5C510.4,228.0 510.7,227.4 511.0,227.4C511.3,227.5 511.6,227.9 511.8,228.8C512.1,229.8 512.4,231.4 512.7,233.2C513.0,235.1 513.3,237.5 513.6,240.0C513.9,242.4 514.2,245.4 514.5,247.8C514.7,250.3 515.0,252.9 515.3,254.8C515.6,256.6 515.9,258.1 516.2,258.9C516.5,259.6 516.8,259.7 517.1,259.2C517.4,258.7 517.6,257.5 517.9,256.1C518.2,254.7 518.5,252.6 518.8,250.9C519.1,249.1 519.4,247.0 519.7,245.5C520.0,244.0 520.2,242.6 520.5,241.7C520.8,240.8 521.1,240.4 521.4,240.3C521.7,240.2 522.0,240.7 522.3,241.1C522.6,241.5 522.9,242.3 523.1,242.8C523.4,243.3 523.7,243.9 524.0,243.9C524.3,244.0 524.6,243.9 524.9,243.3C525.2,242.7 525.5,241.7 525.8,240.5C526.0,239.3 526.3,237.7 526.6,236.3C526.9,234.8 527.2,233.1 527.5,231.9C527.8,230.7 528.1,229.6 528.4,229.0C528.6,228.4 528.9,228.2 529.2,228.5C529.5,228.7 529.8,229.5 530.1,230.6C530.4,231.6 530.7,233.1 531.0,234.6C531.3,236.1 531.5,237.9 531.8,239.5C532.1,241.0 532.4,242.6 532.7,244.0C533.0,245.3 533.3,246.5 533.6,247.5C533.9,248.4 534.2,249.2 534.4,249.8C534.7,250.5 535.0,250.9 535.3,251.4C535.6,251.9 535.9,252.3 536.2,252.7C536.5,253.1 536.8,253.6 537.0,254.0C537.3,254.4 537.6,254.9 537.9,255.1C538.2,255.4 538.5,255.6 538.8,255.5C539.1,255.5 539.4,255.2 539.7,254.7C539.9,254.1 540.2,253.2 540.5,252.2C540.8,251.2 541.1,249.8 541.4,248.5C541.7,247.2 542.0,245.7 542.3,244.4C542.6,243.1 542.8,241.9 543.1,241.0C543.4,240.1 543.7,239.4 544.0,239.0C544.3,238.6 544.6,238.6 544.9,238.8C545.2,238.9 545.4,239.4 545.7,239.7C546.0,240.1 546.3,240.6 546.6,240.9C546.9,241.2 547.2,241.4 547.5,241.3C547.8,241.3 548.1,241.0 548.3,240.4C548.6,239.9 548.9,239.0 549.2,238.1C549.5,237.1 549.8,235.9 550.1,235.0C550.4,234.0 550.7,232.8 551.0,232.2C551.2,231.7 551.5,231.3 551.8,231.9C552.1,232.4 552.4,233.8 552.7,235.7C553.0,237.6 553.3,240.6 553.6,243.3C553.9,246.0 554.1,249.5 554.4,251.9C554.7,254.3 555.0,256.5 555.3,257.5C555.6,258.5 555.9,258.4 556.2,257.7C556.5,257.1 556.7,255.1 557.0,253.6C557.3,252.1 557.6,249.8 557.9,248.6C558.2,247.5 558.5,246.8 558.8,246.4C559.1,246.1 559.4,246.7 559.6,246.7C559.9,246.6 560.2,246.7 560.5,246.3C560.8,245.8 561.1,244.8 561.4,244.0C561.7,243.3 562.0,242.1 562.3,241.7C562.5,241.4 562.8,241.5 563.1,242.1C563.4,242.8 563.7,244.4 564.0,245.6C564.3,246.8 564.6,248.7 564.9,249.4C565.1,250.1 565.4,250.4 565.7,249.8C566.0,249.2 566.3,247.4 566.6,245.7C566.9,244.0 567.2,241.4 567.5,239.7C567.8,238.0 568.0,236.2 568.3,235.6C568.6,234.9 568.9,235.0 569.2,235.6C569.5,236.3 569.8,237.9 570.1,239.5C570.4,241.1 570.7,243.3 570.9,245.2C571.2,247.1 571.5,249.1 571.8,250.8C572.1,252.4 572.4,253.9 572.7,255.2C573.0,256.5 573.3,257.5 573.5,258.4C573.8,259.3 574.1,260.1 574.4,260.8C574.7,261.5 575.0,262.0 575.3,262.7C575.6,263.3 575.9,263.9 576.2,264.5C576.4,265.1 576.7,265.8 577.0,266.4C577.3,267.0 577.6,267.7 577.9,268.3C578.2,268.8 578.5,269.4 578.8,269.6C579.1,269.9 579.3,270.0 579.6,269.9C579.9,269.8 580.2,269.4 580.5,268.8C580.8,268.3 581.1,267.5 581.4,266.7C581.7,265.9 581.9,265.0 582.2,264.3C582.5,263.6 582.8,262.8 583.1,262.5C583.4,262.1 583.7,262.0 584.0,262.1C584.3,262.2 584.6,262.7 584.8,263.3C585.1,263.8 585.4,264.7 585.7,265.3C586.0,266.0 586.3,266.8 586.6,267.3C586.9,267.7 587.2,268.1 587.5,268.1C587.7,268.0 588.0,267.7 588.3,267.1C588.6,266.6 588.9,265.7 589.2,264.9C589.5,264.1 589.8,263.0 590.1,262.5C590.3,261.9 590.6,261.3 590.9,261.4C591.2,261.5 591.5,261.9 591.8,263.0C592.1,264.0 592.4,265.7 592.7,267.6C593.0,269.5 593.2,271.9 593.5,274.5C593.8,277.1 594.1,280.2 594.4,283.3C594.7,286.4 595.0,290.4 595.3,293.2C595.6,296.0 595.9,298.4 596.1,300.1C596.4,301.8 596.9,303.0 597.0,303.6" fill="none" stroke="#ff4040" stroke-opacity="0.34" stroke-width="1.05"/><path d="M464.1,297.8C464.2,297.3 464.6,296.4 464.9,294.6C465.2,292.7 465.5,289.1 465.8,286.7C466.1,284.4 466.4,282.3 466.7,280.6C467.0,279.0 467.3,277.9 467.5,277.0C467.8,276.2 468.1,275.2 468.4,275.4C468.7,275.7 469.0,277.8 469.3,278.7C469.6,279.6 469.9,280.5 470.2,280.7C470.4,281.0 470.7,280.9 471.0,280.2C471.3,279.5 471.6,278.2 471.9,276.7C472.2,275.2 472.5,273.0 472.8,271.0C473.0,269.0 473.3,266.5 473.6,264.6C473.9,262.6 474.2,260.6 474.5,259.1C474.8,257.6 475.1,256.4 475.4,255.6C475.7,254.9 475.9,254.5 476.2,254.4C476.5,254.2 476.8,254.4 477.1,254.5C477.4,254.6 477.7,254.9 478.0,254.9C478.3,254.9 478.6,254.8 478.8,254.6C479.1,254.3 479.4,253.8 479.7,253.1C480.0,252.5 480.3,251.5 480.6,250.7C480.9,249.8 481.2,248.7 481.4,247.8C481.7,246.9 482.0,246.0 482.3,245.5C482.6,244.9 482.9,244.6 483.2,244.6C483.5,244.6 483.8,245.0 484.1,245.3C484.3,245.5 484.6,246.1 484.9,246.0C485.2,245.9 485.5,245.5 485.8,244.8C486.1,244.1 486.4,242.6 486.7,241.8C487.0,241.0 487.2,240.0 487.5,240.0C487.8,240.0 488.1,241.1 488.4,242.0C488.7,243.0 489.0,245.1 489.3,245.6C489.6,246.1 489.9,246.3 490.1,245.1C490.4,243.8 490.7,239.7 491.0,238.1C491.3,236.4 491.6,234.7 491.9,235.1C492.2,235.6 492.5,238.2 492.7,240.8C493.0,243.3 493.3,248.8 493.6,250.6C493.9,252.4 494.2,253.6 494.5,251.6C494.8,249.7 495.1,243.5 495.4,238.8C495.6,234.2 495.9,226.6 496.2,223.7C496.5,220.8 496.8,220.0 497.1,221.2C497.4,222.5 497.7,228.2 498.0,231.1C498.3,234.0 498.5,238.1 498.8,238.5C499.1,238.8 499.4,236.0 499.7,233.2C500.0,230.4 500.3,224.5 500.6,221.9C500.9,219.2 501.1,217.1 501.4,217.2C501.7,217.3 502.0,220.2 502.3,222.3C502.6,224.3 502.9,227.9 503.2,229.7C503.5,231.5 503.8,232.3 504.0,233.0C504.3,233.8 504.6,233.3 504.9,234.2C505.2,235.2 505.5,236.5 505.8,238.7C506.1,240.8 506.4,244.4 506.7,247.2C506.9,250.1 507.2,253.7 507.5,255.8C507.8,257.9 508.1,259.4 508.4,259.9C508.7,260.4 509.0,259.8 509.3,258.9C509.5,258.1 509.8,256.4 510.1,255.0C510.4,253.6 510.7,251.8 511.0,250.6C511.3,249.3 511.6,248.1 511.9,247.3C512.2,246.5 512.4,246.0 512.7,245.7C513.0,245.5 513.3,245.6 513.6,245.9C513.9,246.2 514.2,247.0 514.5,247.6C514.8,248.1 515.1,248.9 515.3,249.1C515.6,249.4 515.9,249.6 516.2,249.2C516.5,248.9 516.8,248.1 517.1,247.1C517.4,246.1 517.7,244.6 517.9,243.3C518.2,242.0 518.5,240.4 518.8,239.4C519.1,238.3 519.4,237.4 519.7,237.1C520.0,236.8 520.3,237.0 520.6,237.6C520.8,238.2 521.1,239.5 521.4,240.9C521.7,242.3 522.0,244.2 522.3,245.8C522.6,247.4 522.9,249.2 523.2,250.4C523.5,251.5 523.7,252.5 524.0,252.8C524.3,253.1 524.6,252.9 524.9,252.3C525.2,251.7 525.5,250.5 525.8,249.4C526.1,248.3 526.3,246.7 526.6,245.7C526.9,244.7 527.2,243.6 527.5,243.3C527.8,242.9 528.1,243.0 528.4,243.6C528.7,244.2 529.0,245.5 529.2,247.0C529.5,248.4 529.8,250.5 530.1,252.3C530.4,254.1 530.7,256.2 531.0,257.6C531.3,259.1 531.6,260.4 531.9,260.9C532.1,261.5 532.4,261.5 532.7,260.9C533.0,260.4 533.3,259.1 533.6,257.7C533.9,256.4 534.2,254.3 534.5,252.6C534.7,250.9 535.0,248.9 535.3,247.5C535.6,246.1 535.9,244.8 536.2,244.1C536.5,243.4 536.8,243.1 537.1,243.2C537.4,243.3 537.6,243.9 537.9,244.5C538.2,245.1 538.5,246.1 538.8,246.8C539.1,247.5 539.4,248.3 539.7,248.8C540.0,249.2 540.3,249.5 540.5,249.5C540.8,249.5 541.1,249.2 541.4,248.8C541.7,248.5 542.0,247.9 542.3,247.6C542.6,247.3 542.9,246.9 543.1,246.9C543.4,246.9 543.7,247.0 544.0,247.5C544.3,248.0 544.6,248.9 544.9,249.8C545.2,250.7 545.5,252.0 545.8,253.1C546.0,254.1 546.3,255.2 546.6,255.9C546.9,256.5 547.2,256.9 547.5,256.9C547.8,256.8 548.1,256.2 548.4,255.5C548.7,254.9 548.9,253.7 549.2,252.9C549.5,252.0 549.8,251.1 550.1,250.2C550.4,249.3 550.7,248.6 551.0,247.6C551.3,246.6 551.5,245.5 551.8,244.4C552.1,243.4 552.4,242.0 552.7,241.4C553.0,240.9 553.3,240.4 553.6,241.0C553.9,241.6 554.2,243.4 554.4,245.1C554.7,246.7 555.0,249.6 555.3,250.9C555.6,252.2 555.9,253.1 556.2,252.8C556.5,252.4 556.8,250.2 557.1,248.8C557.3,247.5 557.6,244.9 557.9,244.8C558.2,244.7 558.5,246.0 558.8,248.2C559.1,250.4 559.4,255.3 559.7,257.8C559.9,260.4 560.2,263.3 560.5,263.7C560.8,264.0 561.1,262.0 561.4,259.9C561.7,257.9 562.0,253.5 562.3,251.5C562.6,249.4 562.8,247.7 563.1,247.4C563.4,247.1 563.7,248.8 564.0,249.6C564.3,250.4 564.6,251.9 564.9,251.9C565.2,251.9 565.5,250.6 565.7,249.4C566.0,248.2 566.3,245.6 566.6,244.7C566.9,243.9 567.2,243.4 567.5,244.0C567.8,244.6 568.1,246.8 568.3,248.5C568.6,250.1 568.9,252.6 569.2,253.9C569.5,255.2 569.8,255.9 570.1,256.1C570.4,256.3 570.7,255.5 571.0,255.1C571.2,254.6 571.5,253.7 571.8,253.5C572.1,253.3 572.4,253.2 572.7,253.7C573.0,254.1 573.3,254.9 573.6,256.0C573.9,257.0 574.1,258.4 574.4,259.8C574.7,261.2 575.0,262.9 575.3,264.4C575.6,265.9 575.9,267.6 576.2,268.9C576.5,270.2 576.8,271.4 577.0,272.1C577.3,272.8 577.6,273.1 577.9,273.1C578.2,273.1 578.5,272.5 578.8,272.0C579.1,271.4 579.4,270.3 579.6,269.7C579.9,269.0 580.2,268.1 580.5,267.8C580.8,267.6 581.1,267.5 581.4,267.9C581.7,268.4 582.0,269.3 582.3,270.4C582.5,271.4 582.8,273.1 583.1,274.4C583.4,275.7 583.7,277.3 584.0,278.3C584.3,279.2 584.6,280.1 584.9,280.2C585.2,280.2 585.4,279.8 585.7,278.8C586.0,277.8 586.3,276.0 586.6,274.2C586.9,272.4 587.2,269.9 587.5,267.9C587.8,265.9 588.0,263.5 588.3,262.0C588.6,260.5 588.9,259.2 589.2,258.7C589.5,258.3 589.8,258.5 590.1,259.3C590.4,260.1 590.7,261.7 590.9,263.5C591.2,265.3 591.5,267.7 591.8,269.9C592.1,272.0 592.4,274.5 592.7,276.4C593.0,278.3 593.3,280.0 593.6,281.2C593.8,282.5 594.1,283.2 594.4,283.8C594.7,284.3 595.0,284.3 595.3,284.5C595.6,284.6 595.9,284.4 596.2,284.7C596.4,284.9 596.7,285.2 597.0,285.9C597.3,286.6 597.6,287.7 597.9,288.9C598.2,290.2 598.5,291.9 598.8,293.4C599.1,294.9 599.3,296.6 599.6,297.8C599.9,299.0 600.2,300.2 600.5,300.6C600.8,301.0 601.1,300.9 601.4,300.3C601.7,299.6 602.0,297.8 602.2,296.7C602.5,295.5 602.8,294.5 603.1,293.5C603.4,292.6 603.7,291.6 604.0,291.0C604.3,290.5 604.6,290.0 604.8,290.3C605.1,290.6 605.6,292.4 605.7,292.8" fill="none" stroke="#ff4040" stroke-opacity="0.34" stroke-width="1.05"/><path d="M469.2,297.8C469.4,297.8 469.8,298.2 470.1,297.7C470.4,297.1 470.7,295.8 471.0,294.8C471.3,293.8 471.5,292.8 471.8,291.7C472.1,290.6 472.4,289.5 472.7,288.2C473.0,287.0 473.3,285.0 473.6,284.3C473.9,283.5 474.2,284.1 474.4,283.9C474.7,283.6 475.0,283.3 475.3,282.7C475.6,282.2 475.9,281.6 476.2,280.8C476.5,280.0 476.8,279.0 477.0,277.9C477.3,276.9 477.6,275.6 477.9,274.3C478.2,273.0 478.5,271.5 478.8,270.0C479.1,268.5 479.4,266.9 479.7,265.3C479.9,263.7 480.2,262.0 480.5,260.5C480.8,258.9 481.1,257.4 481.4,256.0C481.7,254.6 482.0,253.4 482.3,252.2C482.6,251.0 482.8,249.9 483.1,249.0C483.4,248.0 483.7,247.0 484.0,246.3C484.3,245.6 484.6,244.8 484.9,244.5C485.2,244.3 485.4,244.2 485.7,244.6C486.0,245.0 486.3,246.0 486.6,247.0C486.9,248.1 487.2,249.8 487.5,251.0C487.8,252.2 488.1,253.5 488.3,254.0C488.6,254.5 488.9,254.4 489.2,254.1C489.5,253.8 489.8,252.8 490.1,252.3C490.4,251.9 490.7,250.7 491.0,251.5C491.2,252.3 491.5,255.1 491.8,257.2C492.1,259.2 492.4,262.6 492.7,264.1C493.0,265.5 493.3,266.6 493.6,265.8C493.8,265.0 494.1,261.9 494.4,259.0C494.7,256.1 495.0,251.1 495.3,248.2C495.6,245.4 495.9,242.7 496.2,242.1C496.5,241.4 496.7,243.0 497.0,244.5C497.3,245.9 497.6,249.3 497.9,250.6C498.2,251.9 498.5,253.0 498.8,252.3C499.1,251.6 499.4,248.9 499.6,246.7C499.9,244.5 500.2,240.8 500.5,239.2C500.8,237.6 501.1,236.7 501.4,237.0C501.7,237.4 502.0,239.7 502.2,241.6C502.5,243.5 502.8,246.7 503.1,248.6C503.4,250.5 503.7,252.1 504.0,253.0C504.3,253.8 504.6,253.5 504.9,253.4C505.1,253.3 505.4,252.5 505.7,252.3C506.0,252.1 506.3,252.0 506.6,252.2C506.9,252.4 507.2,253.0 507.5,253.5C507.8,254.0 508.0,254.6 508.3,255.0C508.6,255.4 508.9,255.6 509.2,255.7C509.5,255.9 509.8,255.7 510.1,255.7C510.4,255.7 510.6,255.6 510.9,255.7C511.2,255.9 511.5,256.1 511.8,256.4C512.1,256.6 512.4,257.0 512.7,257.4C513.0,257.8 513.3,258.2 513.5,258.6C513.8,259.1 514.1,259.6 514.4,260.1C514.7,260.6 515.0,261.2 515.3,261.7C515.6,262.2 515.9,262.7 516.2,263.2C516.4,263.6 516.7,264.0 517.0,264.3C517.3,264.6 517.6,264.8 517.9,264.9C518.2,264.9 518.5,264.9 518.8,264.7C519.0,264.5 519.3,264.2 519.6,263.8C519.9,263.4 520.2,262.8 520.5,262.2C520.8,261.6 521.1,260.9 521.4,260.1C521.7,259.4 521.9,258.6 522.2,257.9C522.5,257.1 522.8,256.4 523.1,255.7C523.4,255.1 523.7,254.5 524.0,254.1C524.3,253.7 524.6,253.3 524.8,253.2C525.1,253.0 525.4,253.0 525.7,253.1C526.0,253.3 526.3,253.6 526.6,254.0C526.9,254.5 527.2,255.1 527.4,255.8C527.7,256.4 528.0,257.3 528.3,258.1C528.6,258.9 528.9,259.8 529.2,260.6C529.5,261.4 529.8,262.3 530.1,263.0C530.3,263.8 530.6,264.4 530.9,264.9C531.2,265.5 531.5,265.9 531.8,266.1C532.1,266.3 532.4,266.4 532.7,266.3C533.0,266.2 533.2,265.9 533.5,265.5C533.8,265.1 534.1,264.5 534.4,263.8C534.7,263.2 535.0,262.4 535.3,261.7C535.6,260.9 535.8,260.1 536.1,259.3C536.4,258.6 536.7,257.8 537.0,257.2C537.3,256.7 537.6,256.1 537.9,255.8C538.2,255.4 538.5,255.2 538.7,255.2C539.0,255.2 539.3,255.4 539.6,255.8C539.9,256.1 540.2,256.7 540.5,257.3C540.8,258.0 541.1,258.9 541.4,259.8C541.6,260.7 541.9,261.7 542.2,262.7C542.5,263.7 542.8,264.8 543.1,265.8C543.4,266.7 543.7,267.7 544.0,268.4C544.3,269.1 544.5,269.8 544.8,270.1C545.1,270.5 545.4,270.7 545.7,270.7C546.0,270.7 546.3,270.4 546.6,270.0C546.9,269.5 547.1,268.9 547.4,268.2C547.7,267.4 548.0,266.6 548.3,265.6C548.6,264.6 548.9,263.4 549.2,262.2C549.5,260.9 549.8,259.5 550.0,258.1C550.3,256.6 550.6,254.9 550.9,253.6C551.2,252.2 551.5,250.7 551.8,250.0C552.1,249.3 552.4,249.0 552.7,249.2C552.9,249.3 553.2,250.3 553.5,251.0C553.8,251.8 554.1,253.0 554.4,253.6C554.7,254.3 555.0,254.7 555.3,254.9C555.5,255.1 555.8,254.7 556.1,254.9C556.4,255.2 556.7,255.3 557.0,256.4C557.3,257.5 557.6,259.4 557.9,261.5C558.2,263.7 558.4,267.1 558.7,269.4C559.0,271.7 559.3,274.3 559.6,275.2C559.9,276.0 560.2,275.5 560.5,274.4C560.8,273.3 561.1,270.5 561.3,268.6C561.6,266.8 561.9,264.3 562.2,263.2C562.5,262.0 562.8,261.7 563.1,261.7C563.4,261.7 563.7,262.9 563.9,263.1C564.2,263.4 564.5,263.8 564.8,263.2C565.1,262.7 565.4,261.3 565.7,260.0C566.0,258.7 566.3,256.6 566.6,255.5C566.8,254.4 567.1,253.5 567.4,253.5C567.7,253.5 568.0,254.4 568.3,255.6C568.6,256.7 568.9,258.8 569.2,260.4C569.5,262.1 569.7,264.1 570.0,265.7C570.3,267.2 570.6,268.6 570.9,269.8C571.2,271.1 571.5,272.1 571.8,273.1C572.1,274.1 572.3,275.0 572.6,275.9C572.9,276.7 573.2,277.5 573.5,278.1C573.8,278.7 574.1,279.1 574.4,279.2C574.7,279.3 575.0,279.2 575.2,278.8C575.5,278.4 575.8,277.7 576.1,277.0C576.4,276.2 576.7,275.2 577.0,274.2C577.3,273.2 577.6,272.1 577.9,271.1C578.1,270.1 578.4,269.1 578.7,268.3C579.0,267.5 579.3,266.8 579.6,266.3C579.9,265.9 580.2,265.6 580.5,265.6C580.7,265.6 581.0,265.9 581.3,266.4C581.6,266.9 581.9,267.7 582.2,268.6C582.5,269.6 582.8,270.9 583.1,272.3C583.4,273.7 583.6,275.3 583.9,276.9C584.2,278.5 584.5,280.3 584.8,281.9C585.1,283.6 585.4,285.3 585.7,286.8C586.0,288.3 586.3,289.7 586.5,290.9C586.8,292.1 587.1,293.2 587.4,293.9C587.7,294.6 588.0,295.1 588.3,295.4C588.6,295.6 588.9,295.5 589.1,295.3C589.4,295.0 589.7,294.4 590.0,293.7C590.3,293.0 590.6,292.0 590.9,291.0C591.2,290.0 591.5,288.8 591.8,287.6C592.0,286.5 592.3,285.3 592.6,284.2C592.9,283.1 593.2,282.0 593.5,281.1C593.8,280.2 594.1,279.4 594.4,278.9C594.7,278.4 594.9,278.0 595.2,277.9C595.5,277.8 595.8,277.9 596.1,278.2C596.4,278.5 596.7,279.1 597.0,279.8C597.3,280.5 597.5,281.4 597.8,282.4C598.1,283.4 598.4,284.6 598.7,285.7C599.0,286.9 599.3,288.2 599.6,289.4C599.9,290.6 600.2,291.8 600.4,292.9C600.7,294.0 601.0,294.8 601.3,295.9C601.6,297.1 601.9,298.3 602.2,299.8C602.5,301.3 602.8,304.1 603.1,304.9C603.3,305.8 603.6,304.9 603.9,304.9C604.2,304.9 604.6,304.9 604.8,304.9" fill="none" stroke="#ff4040" stroke-opacity="0.34" stroke-width="1.05"/><path d="M464.5,297.8C464.7,297.8 465.1,297.8 465.4,297.8C465.7,297.8 466.0,297.8 466.3,297.8C466.6,297.8 466.8,297.8 467.1,297.8C467.4,297.8 467.7,298.2 468.0,297.8C468.3,297.4 468.6,297.1 468.9,295.4C469.2,293.7 469.4,289.7 469.7,287.5C470.0,285.2 470.3,283.1 470.6,282.0C470.9,280.9 471.2,280.7 471.5,280.9C471.8,281.0 472.1,282.2 472.3,283.1C472.6,284.0 472.9,285.5 473.2,286.3C473.5,287.1 473.8,287.7 474.1,287.8C474.4,287.8 474.7,287.3 475.0,286.6C475.2,285.8 475.5,284.5 475.8,283.4C476.1,282.4 476.4,281.1 476.7,280.2C477.0,279.4 477.3,278.8 477.6,278.5C477.8,278.1 478.1,278.3 478.4,278.1C478.7,278.0 479.0,278.2 479.3,277.7C479.6,277.3 479.9,276.7 480.2,275.5C480.5,274.2 480.7,272.4 481.0,270.5C481.3,268.6 481.6,266.0 481.9,264.2C482.2,262.3 482.5,260.4 482.8,259.5C483.1,258.6 483.4,258.5 483.6,259.0C483.9,259.5 484.2,261.2 484.5,262.6C484.8,264.0 485.1,266.1 485.4,267.5C485.7,268.9 486.0,270.1 486.2,270.9C486.5,271.6 486.8,272.0 487.1,272.1C487.4,272.3 487.7,272.3 488.0,271.7C488.3,271.1 488.6,270.2 488.9,268.3C489.1,266.4 489.4,263.3 489.7,260.3C490.0,257.2 490.3,251.8 490.6,250.0C490.9,248.2 491.2,247.9 491.5,249.5C491.8,251.1 492.0,256.0 492.3,259.7C492.6,263.3 492.9,269.3 493.2,271.1C493.5,273.0 493.8,272.9 494.1,270.7C494.4,268.5 494.6,261.9 494.9,258.2C495.2,254.4 495.5,249.2 495.8,248.3C496.1,247.3 496.4,249.7 496.7,252.3C497.0,254.9 497.3,261.1 497.5,263.9C497.8,266.7 498.1,268.9 498.4,269.0C498.7,269.1 499.0,265.9 499.3,264.4C499.6,263.0 499.9,260.3 500.2,260.1C500.4,260.0 500.7,262.1 501.0,263.5C501.3,264.8 501.6,267.9 501.9,268.5C502.2,269.0 502.5,268.4 502.8,267.0C503.1,265.6 503.3,262.0 503.6,260.0C503.9,258.1 504.2,255.9 504.5,255.4C504.8,255.0 505.1,256.2 505.4,257.2C505.7,258.2 505.9,260.6 506.2,261.4C506.5,262.3 506.8,262.8 507.1,262.4C507.4,262.0 507.7,260.3 508.0,259.2C508.3,258.0 508.6,256.1 508.8,255.4C509.1,254.7 509.4,254.3 509.7,254.9C510.0,255.6 510.3,257.3 510.6,259.3C510.9,261.3 511.2,264.4 511.5,267.1C511.7,269.9 512.0,273.3 512.3,275.7C512.6,278.0 512.9,280.1 513.2,281.1C513.5,282.1 513.8,282.3 514.1,281.7C514.3,281.2 514.6,279.4 514.9,277.7C515.2,275.9 515.5,273.2 515.8,271.3C516.1,269.4 516.4,267.2 516.7,266.2C517.0,265.2 517.2,264.8 517.5,265.2C517.8,265.5 518.1,267.0 518.4,268.5C518.7,270.0 519.0,272.3 519.3,274.1C519.6,275.8 519.9,277.7 520.1,278.7C520.4,279.7 520.7,280.2 521.0,280.0C521.3,279.9 521.6,278.8 521.9,277.6C522.2,276.4 522.5,274.4 522.7,272.8C523.0,271.2 523.3,269.3 523.6,267.9C523.9,266.5 524.2,265.4 524.5,264.4C524.8,263.5 525.1,262.9 525.4,262.3C525.6,261.6 525.9,261.1 526.2,260.3C526.5,259.6 526.8,258.6 527.1,257.7C527.4,256.7 527.7,255.4 528.0,254.6C528.3,253.8 528.5,252.9 528.8,253.0C529.1,253.1 529.4,253.7 529.7,255.2C530.0,256.7 530.3,259.3 530.6,262.2C530.9,265.2 531.1,269.3 531.4,273.0C531.7,276.6 532.0,281.0 532.3,284.1C532.6,287.2 532.9,290.1 533.2,291.5C533.5,292.9 533.8,293.3 534.0,292.6C534.3,292.0 534.6,289.8 534.9,287.6C535.2,285.3 535.5,281.9 535.8,279.2C536.1,276.6 536.4,273.5 536.7,271.6C536.9,269.7 537.2,268.3 537.5,267.8C537.8,267.3 538.1,267.8 538.4,268.5C538.7,269.2 539.0,270.8 539.3,271.8C539.5,272.9 539.8,274.2 540.1,274.7C540.4,275.3 540.7,275.4 541.0,275.0C541.3,274.6 541.6,273.4 541.9,272.3C542.2,271.1 542.4,269.4 542.7,268.1C543.0,266.8 543.3,265.4 543.6,264.6C543.9,263.7 544.2,263.2 544.5,262.9C544.8,262.6 545.1,262.9 545.3,262.9C545.6,263.0 545.9,263.4 546.2,263.4C546.5,263.4 546.8,263.2 547.1,262.9C547.4,262.6 547.7,261.9 547.9,261.4C548.2,260.9 548.5,260.0 548.8,260.0C549.1,259.9 549.4,259.9 549.7,261.1C550.0,262.3 550.3,264.5 550.6,267.2C550.8,269.9 551.1,273.9 551.4,277.3C551.7,280.7 552.0,285.1 552.3,287.6C552.6,290.1 552.9,292.0 553.2,292.3C553.5,292.7 553.7,291.1 554.0,289.6C554.3,288.2 554.6,285.3 554.9,283.5C555.2,281.6 555.5,280.0 555.8,278.6C556.1,277.2 556.3,276.6 556.6,275.0C556.9,273.5 557.2,271.6 557.5,269.6C557.8,267.6 558.1,264.4 558.4,263.1C558.7,261.9 559.0,261.4 559.2,262.1C559.5,262.9 559.8,265.8 560.1,267.4C560.4,269.1 560.7,272.0 561.0,272.2C561.3,272.3 561.6,270.8 561.9,268.5C562.1,266.2 562.4,261.1 562.7,258.5C563.0,255.9 563.3,252.9 563.6,252.8C563.9,252.7 564.2,255.1 564.5,257.7C564.7,260.3 565.0,265.4 565.3,268.4C565.6,271.4 565.9,274.3 566.2,275.6C566.5,276.9 566.8,276.5 567.1,276.3C567.4,276.1 567.6,274.8 567.9,274.5C568.2,274.1 568.5,273.9 568.8,274.2C569.1,274.5 569.4,275.3 569.7,276.1C570.0,276.9 570.3,277.9 570.5,279.0C570.8,280.0 571.1,281.2 571.4,282.4C571.7,283.6 572.0,285.1 572.3,286.3C572.6,287.4 572.9,288.8 573.1,289.3C573.4,289.8 573.7,289.9 574.0,289.4C574.3,288.9 574.6,287.6 574.9,286.4C575.2,285.1 575.5,283.2 575.8,282.1C576.0,281.0 576.3,279.9 576.6,279.7C576.9,279.4 577.2,279.8 577.5,280.6C577.8,281.3 578.1,282.9 578.4,284.0C578.7,285.1 578.9,286.7 579.2,287.3C579.5,287.9 579.8,288.2 580.1,287.6C580.4,287.1 580.7,285.6 581.0,283.9C581.3,282.3 581.5,279.6 581.8,277.6C582.1,275.6 582.4,273.1 582.7,271.8C583.0,270.5 583.3,269.7 583.6,269.9C583.9,270.2 584.2,271.5 584.4,273.4C584.7,275.3 585.0,278.4 585.3,281.2C585.6,284.0 585.9,287.5 586.2,290.1C586.5,292.7 586.8,295.2 587.1,296.8C587.3,298.4 587.6,299.2 587.9,299.5C588.2,299.8 588.5,299.1 588.8,298.5C589.1,297.9 589.4,296.7 589.7,295.9C590.0,295.2 590.2,294.4 590.5,294.0C590.8,293.5 591.1,293.5 591.4,293.5C591.7,293.5 592.0,293.8 592.3,293.9C592.6,293.9 592.8,294.0 593.1,293.7C593.4,293.4 593.7,292.8 594.0,292.1C594.3,291.5 594.6,290.4 594.9,289.9C595.2,289.4 595.5,288.7 595.7,288.9C596.0,289.1 596.3,289.8 596.6,291.1C596.9,292.4 597.2,294.6 597.5,296.8C597.8,299.0 598.1,303.0 598.4,304.3C598.6,305.7 598.9,304.8 599.2,304.9C599.5,305.0 599.8,304.9 600.1,304.9C600.4,304.9 600.7,304.9 601.0,304.9C601.2,304.9 601.5,304.9 601.8,304.9C602.1,304.9 602.6,304.8 602.7,304.8" fill="none" stroke="#ff4040" stroke-opacity="0.34" stroke-width="1.05"/><path d="M482.8,243.4C482.9,242.2 483.4,238.9 483.7,236.5C484.0,234.1 484.2,231.7 484.5,228.9C484.8,226.1 485.1,222.9 485.4,219.6C485.7,216.2 486.0,212.1 486.3,208.6C486.6,205.1 486.9,200.6 487.1,198.6C487.4,196.5 487.7,196.7 488.0,196.4C488.3,196.1 488.6,196.8 488.9,196.5C489.2,196.3 489.5,196.1 489.8,194.8C490.0,193.6 490.3,189.6 490.6,189.0C490.9,188.3 491.2,189.0 491.5,190.9C491.8,192.8 492.1,196.9 492.4,200.3C492.6,203.8 492.9,209.4 493.2,211.6C493.5,213.8 493.8,214.8 494.1,213.5C494.4,212.1 494.7,206.9 495.0,203.5C495.3,200.1 495.5,194.7 495.8,193.1C496.1,191.5 496.4,192.4 496.7,194.0C497.0,195.6 497.3,200.7 497.6,202.9C497.9,205.1 498.2,207.2 498.4,207.1C498.7,207.0 499.0,203.8 499.3,202.2C499.6,200.7 499.9,197.5 500.2,197.6C500.5,197.8 500.8,200.5 501.0,203.0C501.3,205.5 501.6,210.3 501.9,212.5C502.2,214.8 502.5,216.6 502.8,216.6C503.1,216.7 503.4,214.4 503.7,212.8C503.9,211.3 504.2,208.5 504.5,207.2C504.8,206.0 505.1,205.4 505.4,205.3C505.7,205.3 506.0,206.2 506.3,206.7C506.6,207.2 506.8,207.9 507.1,208.3C507.4,208.8 507.7,208.9 508.0,209.3C508.3,209.6 508.6,210.0 508.9,210.7C509.2,211.4 509.4,212.4 509.7,213.2C510.0,214.1 510.3,215.2 510.6,216.0C510.9,216.8 511.2,217.4 511.5,217.9C511.8,218.4 512.1,218.8 512.3,218.9C512.6,219.1 512.9,218.5 513.2,218.6C513.5,218.7 513.8,218.8 514.1,219.4C514.4,219.9 514.7,220.7 515.0,221.7C515.2,222.8 515.5,224.2 515.8,225.7C516.1,227.3 516.4,229.2 516.7,230.9C517.0,232.6 517.3,234.5 517.6,236.1C517.8,237.6 518.1,239.2 518.4,240.2C518.7,241.1 519.0,241.8 519.3,241.9C519.6,242.0 519.9,241.6 520.2,240.8C520.5,240.0 520.7,238.5 521.0,236.9C521.3,235.3 521.6,233.2 521.9,231.1C522.2,229.1 522.5,226.7 522.8,224.7C523.1,222.7 523.4,220.7 523.6,219.1C523.9,217.5 524.2,216.2 524.5,215.3C524.8,214.4 525.1,213.9 525.4,213.8C525.7,213.6 526.0,213.9 526.2,214.3C526.5,214.7 526.8,215.5 527.1,216.2C527.4,217.0 527.7,217.9 528.0,218.6C528.3,219.4 528.6,220.2 528.9,220.8C529.1,221.4 529.4,221.9 529.7,222.4C530.0,222.8 530.3,223.1 530.6,223.5C530.9,223.8 531.2,224.1 531.5,224.6C531.8,225.0 532.0,225.5 532.3,226.2C532.6,226.9 532.9,227.7 533.2,228.7C533.5,229.6 533.8,230.8 534.1,231.9C534.4,233.0 534.6,234.3 534.9,235.3C535.2,236.2 535.5,237.3 535.8,237.9C536.1,238.5 536.4,238.9 536.7,238.9C537.0,238.9 537.3,238.6 537.5,237.9C537.8,237.3 538.1,236.2 538.4,235.0C538.7,233.8 539.0,232.2 539.3,230.7C539.6,229.3 539.9,227.6 540.2,226.3C540.4,225.0 540.7,223.7 541.0,222.9C541.3,222.1 541.6,221.5 541.9,221.4C542.2,221.2 542.5,221.5 542.8,222.0C543.0,222.5 543.3,223.5 543.6,224.3C543.9,225.2 544.2,226.6 544.5,227.0C544.8,227.5 545.1,228.2 545.4,227.0C545.7,225.9 545.9,223.4 546.2,220.2C546.5,216.9 546.8,210.9 547.1,207.5C547.4,204.2 547.7,200.4 548.0,200.1C548.3,199.7 548.6,202.8 548.8,205.3C549.1,207.9 549.4,212.8 549.7,215.3C550.0,217.9 550.3,219.7 550.6,220.6C550.9,221.4 551.2,220.4 551.4,220.6C551.7,220.7 552.0,220.8 552.3,221.6C552.6,222.3 552.9,223.9 553.2,224.9C553.5,225.9 553.8,227.4 554.1,227.6C554.3,227.8 554.6,227.1 554.9,226.2C555.2,225.3 555.5,223.2 555.8,222.2C556.1,221.1 556.4,220.3 556.7,220.1C557.0,219.8 557.2,221.2 557.5,220.6C557.8,219.9 558.1,219.2 558.4,216.1C558.7,213.1 559.0,207.3 559.3,202.2C559.6,197.2 559.8,188.2 560.1,185.6C560.4,183.0 560.7,183.2 561.0,186.8C561.3,190.4 561.6,200.6 561.9,207.2C562.2,213.8 562.5,222.4 562.7,226.4C563.0,230.4 563.3,231.1 563.6,231.1C563.9,231.2 564.2,228.0 564.5,226.7C564.8,225.4 565.1,223.7 565.4,223.2C565.6,222.8 565.9,223.6 566.2,224.0C566.5,224.4 566.8,225.3 567.1,225.5C567.4,225.7 567.7,225.3 568.0,225.3C568.2,225.2 568.5,224.8 568.8,225.4C569.1,225.9 569.4,227.0 569.7,228.7C570.0,230.4 570.3,233.1 570.6,235.4C570.9,237.8 571.1,240.6 571.4,242.6C571.7,244.6 572.0,246.4 572.3,247.6C572.6,248.9 572.9,249.6 573.2,250.1C573.5,250.5 573.8,250.6 574.0,250.5C574.3,250.4 574.6,249.9 574.9,249.4C575.2,248.8 575.5,248.0 575.8,247.2C576.1,246.5 576.4,245.5 576.7,244.9C576.9,244.2 577.2,243.6 577.5,243.2C577.8,242.9 578.1,242.8 578.4,242.9C578.7,243.0 579.0,243.4 579.3,243.9C579.5,244.3 579.8,244.9 580.1,245.5C580.4,246.0 580.7,246.6 581.0,247.1C581.3,247.6 581.6,248.0 581.9,248.3C582.2,248.5 582.4,248.7 582.7,248.8C583.0,249.0 583.3,248.7 583.6,249.1C583.9,249.6 584.2,250.2 584.5,251.5C584.8,252.7 585.1,254.8 585.3,256.8C585.6,258.8 585.9,261.0 586.2,263.5C586.5,265.9 586.9,270.1 587.1,271.4" fill="none" stroke="#5050ff" stroke-opacity="0.36" stroke-width="1.05"/><path d="M486.8,231.2C487.0,231.0 487.4,230.0 487.7,229.7C488.0,229.4 488.3,230.0 488.6,229.7C488.9,229.4 489.2,229.1 489.4,227.9C489.7,226.7 490.0,224.7 490.3,222.5C490.6,220.3 490.9,215.8 491.2,214.7C491.5,213.7 491.8,215.1 492.0,216.1C492.3,217.2 492.6,219.5 492.9,221.0C493.2,222.5 493.5,225.0 493.8,225.2C494.1,225.4 494.4,224.8 494.7,222.3C494.9,219.9 495.2,215.0 495.5,210.5C495.8,205.9 496.1,199.3 496.4,194.9C496.7,190.4 497.0,185.8 497.3,183.7C497.6,181.6 497.8,181.2 498.1,182.2C498.4,183.1 498.7,186.8 499.0,189.5C499.3,192.2 499.6,196.3 499.9,198.4C500.2,200.5 500.5,201.8 500.7,201.9C501.0,202.0 501.3,200.0 501.6,199.1C501.9,198.2 502.2,196.6 502.5,196.7C502.8,196.8 503.1,197.9 503.3,199.7C503.6,201.5 503.9,204.8 504.2,207.5C504.5,210.2 504.8,213.5 505.1,215.9C505.4,218.3 505.7,220.3 506.0,221.9C506.2,223.4 506.5,224.3 506.8,225.3C507.1,226.2 507.4,226.8 507.7,227.6C508.0,228.4 508.3,229.1 508.6,229.9C508.9,230.7 509.1,231.6 509.4,232.3C509.7,233.1 510.0,233.9 510.3,234.5C510.6,235.1 510.9,235.6 511.2,236.0C511.5,236.3 511.7,236.8 512.0,236.8C512.3,236.7 512.6,236.3 512.9,235.7C513.2,235.1 513.5,234.3 513.8,233.3C514.1,232.3 514.4,231.1 514.6,229.9C514.9,228.6 515.2,227.1 515.5,225.7C515.8,224.4 516.1,222.8 516.4,221.7C516.7,220.5 517.0,219.3 517.3,218.7C517.5,218.0 517.8,217.7 518.1,217.8C518.4,217.9 518.7,218.5 519.0,219.4C519.3,220.3 519.6,221.7 519.9,223.2C520.1,224.6 520.4,226.5 520.7,228.1C521.0,229.7 521.3,231.5 521.6,232.8C521.9,234.1 522.2,235.3 522.5,236.1C522.8,236.8 523.0,237.2 523.3,237.3C523.6,237.4 523.9,237.1 524.2,236.7C524.5,236.3 524.8,235.5 525.1,234.9C525.4,234.4 525.7,233.6 525.9,233.2C526.2,232.7 526.5,232.3 526.8,232.2C527.1,232.0 527.4,232.1 527.7,232.2C528.0,232.3 528.3,232.7 528.5,232.9C528.8,233.2 529.1,233.5 529.4,233.6C529.7,233.7 530.0,233.8 530.3,233.6C530.6,233.4 530.9,233.0 531.2,232.5C531.4,232.0 531.7,231.2 532.0,230.5C532.3,229.8 532.6,228.9 532.9,228.3C533.2,227.7 533.5,227.0 533.8,226.7C534.1,226.4 534.3,226.2 534.6,226.4C534.9,226.5 535.2,226.9 535.5,227.4C535.8,228.0 536.1,228.8 536.4,229.6C536.7,230.4 536.9,231.4 537.2,232.3C537.5,233.2 537.8,234.1 538.1,234.9C538.4,235.7 538.7,236.4 539.0,237.0C539.3,237.5 539.6,238.0 539.8,238.4C540.1,238.8 540.4,239.1 540.7,239.3C541.0,239.5 541.3,239.7 541.6,239.8C541.9,239.9 542.2,240.0 542.5,239.9C542.7,239.8 543.0,239.7 543.3,239.3C543.6,239.0 543.9,238.5 544.2,237.6C544.5,236.8 544.8,235.8 545.1,234.0C545.3,232.3 545.6,230.1 545.9,227.1C546.2,224.1 546.5,219.8 546.8,216.0C547.1,212.2 547.4,207.0 547.7,204.3C548.0,201.7 548.2,199.6 548.5,200.0C548.8,200.3 549.1,203.4 549.4,206.4C549.7,209.5 550.0,214.8 550.3,218.3C550.6,221.9 550.9,225.4 551.1,227.8C551.4,230.2 551.7,231.8 552.0,232.8C552.3,233.7 552.6,233.8 552.9,233.6C553.2,233.3 553.5,232.1 553.7,231.3C554.0,230.5 554.3,229.1 554.6,228.6C554.9,228.0 555.2,227.8 555.5,228.1C555.8,228.5 556.1,229.7 556.4,230.5C556.6,231.2 556.9,232.6 557.2,232.6C557.5,232.6 557.8,232.0 558.1,230.3C558.4,228.7 558.7,226.0 559.0,222.7C559.3,219.5 559.5,213.9 559.8,210.8C560.1,207.6 560.4,203.9 560.7,203.9C561.0,203.9 561.3,207.3 561.6,210.7C561.9,214.1 562.1,220.9 562.4,224.3C562.7,227.6 563.0,230.2 563.3,230.8C563.6,231.3 563.9,229.1 564.2,227.6C564.5,226.0 564.8,223.0 565.0,221.6C565.3,220.3 565.6,219.4 565.9,219.6C566.2,219.8 566.5,221.4 566.8,223.0C567.1,224.6 567.4,227.3 567.7,229.2C567.9,231.2 568.2,233.3 568.5,234.7C568.8,236.1 569.1,236.9 569.4,237.6C569.7,238.4 570.0,238.6 570.3,239.1C570.5,239.7 570.8,240.2 571.1,241.1C571.4,241.9 571.7,243.0 572.0,244.1C572.3,245.2 572.6,246.6 572.9,247.9C573.2,249.1 573.4,250.3 573.7,251.3C574.0,252.3 574.3,253.2 574.6,253.8C574.9,254.4 575.2,254.8 575.5,255.0C575.8,255.2 576.1,255.1 576.3,255.0C576.6,254.9 576.9,254.6 577.2,254.4C577.5,254.1 577.8,253.7 578.1,253.5C578.4,253.3 578.7,253.1 578.9,253.1C579.2,253.1 579.5,253.2 579.8,253.5C580.1,253.8 580.4,254.3 580.7,254.8C581.0,255.3 581.3,256.0 581.6,256.4C581.8,256.9 582.1,257.4 582.4,257.7C582.7,257.9 583.0,258.0 583.3,257.8C583.6,257.7 583.9,257.2 584.2,256.7C584.5,256.2 584.7,255.4 585.0,254.7C585.3,254.1 585.6,253.3 585.9,252.8C586.2,252.3 586.5,251.9 586.8,252.0C587.1,252.0 587.4,252.3 587.6,253.0C587.9,253.6 588.2,254.7 588.5,255.9C588.8,257.1 589.1,258.7 589.4,260.2C589.7,261.6 590.0,263.3 590.2,264.7C590.5,266.0 590.8,267.3 591.1,268.2C591.4,269.1 591.7,269.8 592.0,270.2C592.3,270.5 592.6,270.5 592.9,270.4C593.1,270.4 593.4,270.0 593.7,269.7C594.0,269.5 594.3,268.7 594.6,269.0C594.9,269.4 595.2,270.5 595.5,271.8C595.8,273.1 596.0,275.1 596.3,277.0C596.6,278.9 596.9,281.1 597.2,283.3C597.5,285.5 597.9,289.1 598.1,290.2" fill="none" stroke="#5050ff" stroke-opacity="0.36" stroke-width="1.05"/><path d="M483.9,256.4C484.1,255.0 484.5,250.9 484.8,247.9C485.1,244.8 485.4,241.4 485.7,238.1C486.0,234.8 486.2,231.1 486.5,227.9C486.8,224.7 487.1,221.5 487.4,218.9C487.7,216.3 488.0,213.5 488.3,212.4C488.6,211.4 488.9,212.6 489.1,212.5C489.4,212.5 489.7,213.0 490.0,212.3C490.3,211.5 490.6,209.2 490.9,208.2C491.2,207.1 491.5,206.5 491.7,206.0C492.0,205.5 492.3,205.0 492.6,205.1C492.9,205.2 493.2,205.7 493.5,206.6C493.8,207.5 494.1,209.2 494.4,210.5C494.6,211.9 494.9,213.9 495.2,214.6C495.5,215.4 495.8,215.8 496.1,215.2C496.4,214.6 496.7,212.6 497.0,210.9C497.3,209.3 497.5,206.6 497.8,205.5C498.1,204.4 498.4,203.6 498.7,204.1C499.0,204.6 499.3,206.5 499.6,208.4C499.9,210.4 500.1,213.6 500.4,215.8C500.7,218.0 501.0,220.5 501.3,221.5C501.6,222.6 501.9,222.6 502.2,222.4C502.5,222.2 502.8,220.9 503.0,220.4C503.3,219.8 503.6,219.1 503.9,219.1C504.2,219.2 504.5,219.8 504.8,220.6C505.1,221.5 505.4,223.0 505.7,224.3C505.9,225.6 506.2,227.2 506.5,228.4C506.8,229.6 507.1,230.7 507.4,231.6C507.7,232.5 508.0,233.2 508.3,233.8C508.5,234.3 508.8,234.8 509.1,235.0C509.4,235.2 509.7,235.3 510.0,235.1C510.3,234.9 510.6,234.5 510.9,234.0C511.2,233.4 511.4,232.6 511.7,231.7C512.0,230.7 512.3,229.5 512.6,228.3C512.9,227.1 513.2,225.6 513.5,224.5C513.8,223.5 514.1,222.6 514.3,222.2C514.6,221.7 514.9,221.6 515.2,221.8C515.5,222.0 515.8,222.7 516.1,223.5C516.4,224.3 516.7,225.5 516.9,226.7C517.2,228.0 517.5,229.5 517.8,230.8C518.1,232.2 518.4,233.7 518.7,234.9C519.0,236.2 519.3,237.4 519.6,238.4C519.8,239.5 520.1,240.3 520.4,241.1C520.7,241.8 521.0,242.4 521.3,242.9C521.6,243.4 521.9,243.7 522.2,244.1C522.5,244.5 522.7,244.8 523.0,245.1C523.3,245.4 523.6,245.7 523.9,246.0C524.2,246.3 524.5,246.5 524.8,246.6C525.1,246.8 525.3,246.9 525.6,246.7C525.9,246.5 526.2,246.2 526.5,245.6C526.8,245.0 527.1,244.2 527.4,243.1C527.7,242.0 528.0,240.6 528.2,239.1C528.5,237.6 528.8,235.7 529.1,234.0C529.4,232.2 529.7,230.2 530.0,228.5C530.3,226.9 530.6,225.1 530.9,223.9C531.1,222.6 531.4,221.5 531.7,220.9C532.0,220.3 532.3,220.0 532.6,220.3C532.9,220.5 533.2,221.2 533.5,222.1C533.7,223.1 534.0,224.6 534.3,226.1C534.6,227.6 534.9,229.5 535.2,231.3C535.5,233.1 535.8,235.1 536.1,236.8C536.4,238.5 536.6,240.1 536.9,241.5C537.2,242.9 537.5,244.1 537.8,245.0C538.1,245.9 538.4,246.6 538.7,247.1C539.0,247.5 539.3,247.8 539.5,247.9C539.8,248.1 540.1,248.0 540.4,248.0C540.7,248.0 541.0,247.8 541.3,247.7C541.6,247.6 541.9,247.4 542.2,247.2C542.4,247.1 542.7,246.9 543.0,246.6C543.3,246.3 543.6,246.0 543.9,245.4C544.2,244.9 544.5,244.3 544.8,243.5C545.0,242.6 545.3,241.6 545.6,240.5C545.9,239.3 546.2,237.9 546.5,236.6C546.8,235.3 547.1,233.7 547.4,232.5C547.7,231.2 547.9,229.9 548.2,229.0C548.5,228.1 548.8,227.4 549.1,227.1C549.4,226.8 549.7,227.0 550.0,227.2C550.3,227.4 550.6,228.0 550.8,228.4C551.1,228.9 551.4,229.3 551.7,229.9C552.0,230.5 552.3,231.2 552.6,232.1C552.9,232.9 553.2,234.0 553.4,235.1C553.7,236.2 554.0,237.6 554.3,238.6C554.6,239.6 554.9,240.8 555.2,241.2C555.5,241.5 555.8,241.6 556.1,240.7C556.3,239.8 556.6,238.1 556.9,235.8C557.2,233.5 557.5,229.9 557.8,226.8C558.1,223.7 558.4,219.6 558.7,217.3C559.0,215.0 559.2,213.1 559.5,213.0C559.8,212.9 560.1,214.5 560.4,216.5C560.7,218.5 561.0,222.6 561.3,225.2C561.6,227.7 561.8,230.5 562.1,231.8C562.4,233.2 562.7,233.2 563.0,233.3C563.3,233.4 563.6,232.5 563.9,232.4C564.2,232.4 564.5,232.4 564.7,232.9C565.0,233.4 565.3,234.4 565.6,235.2C565.9,236.0 566.2,237.0 566.5,237.7C566.8,238.4 567.1,238.9 567.4,239.4C567.6,239.8 567.9,240.1 568.2,240.6C568.5,241.2 568.8,241.8 569.1,242.7C569.4,243.6 569.7,244.9 570.0,246.1C570.2,247.4 570.5,249.0 570.8,250.2C571.1,251.5 571.4,252.8 571.7,253.5C572.0,254.3 572.3,254.8 572.6,255.0C572.9,255.1 573.1,254.8 573.4,254.4C573.7,254.0 574.0,253.2 574.3,252.6C574.6,251.9 574.9,251.0 575.2,250.4C575.5,249.7 575.8,249.1 576.0,248.7C576.3,248.3 576.6,248.1 576.9,248.1C577.2,248.2 577.5,248.5 577.8,248.9C578.1,249.4 578.4,250.2 578.6,251.0C578.9,251.8 579.2,252.8 579.5,253.7C579.8,254.7 580.1,255.7 580.4,256.6C580.7,257.4 581.0,258.3 581.3,258.9C581.5,259.6 581.8,260.1 582.1,260.5C582.4,260.8 582.7,260.9 583.0,261.2C583.3,261.5 583.6,261.4 583.9,262.2C584.2,263.1 584.4,264.8 584.7,266.3C585.0,267.7 585.3,269.2 585.6,270.9C585.9,272.6 586.3,275.4 586.5,276.3" fill="none" stroke="#5050ff" stroke-opacity="0.36" stroke-width="1.05"/><path d="M481.7,263.2C481.9,261.3 482.3,255.3 482.6,251.8C482.9,248.4 483.2,245.2 483.5,242.5C483.8,239.8 484.1,237.7 484.4,235.7C484.6,233.7 484.9,232.3 485.2,230.4C485.5,228.6 485.8,226.1 486.1,224.6C486.4,223.1 486.7,222.6 487.0,221.4C487.3,220.2 487.5,218.7 487.8,217.6C488.1,216.6 488.4,215.7 488.7,215.1C489.0,214.4 489.3,214.2 489.6,213.5C489.9,212.8 490.1,212.0 490.4,210.9C490.7,209.8 491.0,207.4 491.3,206.9C491.6,206.4 491.9,206.5 492.2,207.9C492.5,209.4 492.8,212.4 493.0,215.7C493.3,219.1 493.6,224.6 493.9,228.0C494.2,231.4 494.5,235.1 494.8,236.2C495.1,237.2 495.4,236.0 495.7,234.4C495.9,232.8 496.2,228.7 496.5,226.6C496.8,224.5 497.1,222.2 497.4,221.8C497.7,221.4 498.0,223.0 498.3,224.2C498.5,225.3 498.8,227.8 499.1,228.6C499.4,229.3 499.7,229.1 500.0,228.6C500.3,228.0 500.6,226.4 500.9,225.5C501.2,224.6 501.4,223.5 501.7,223.4C502.0,223.2 502.3,224.1 502.6,224.6C502.9,225.1 503.2,226.3 503.5,226.3C503.8,226.3 504.1,225.7 504.3,224.5C504.6,223.4 504.9,221.1 505.2,219.5C505.5,218.0 505.8,215.9 506.1,215.2C506.4,214.4 506.7,214.3 506.9,215.0C507.2,215.6 507.5,217.4 507.8,219.1C508.1,220.8 508.4,223.3 508.7,225.4C509.0,227.5 509.3,229.8 509.6,231.6C509.8,233.5 510.1,235.2 510.4,236.5C510.7,237.8 511.0,238.8 511.3,239.5C511.6,240.2 511.9,240.7 512.2,240.8C512.5,240.8 512.7,240.2 513.0,239.9C513.3,239.6 513.6,239.2 513.9,239.1C514.2,239.1 514.5,239.3 514.8,239.8C515.1,240.3 515.3,241.2 515.6,242.2C515.9,243.1 516.2,244.5 516.5,245.6C516.8,246.7 517.1,247.9 517.4,248.7C517.7,249.4 518.0,250.0 518.2,250.0C518.5,250.0 518.8,249.6 519.1,248.8C519.4,248.0 519.7,246.7 520.0,245.4C520.3,244.2 520.6,242.5 520.9,241.2C521.1,239.9 521.4,238.5 521.7,237.6C522.0,236.8 522.3,236.2 522.6,236.1C522.9,236.1 523.2,236.5 523.5,237.1C523.7,237.7 524.0,238.9 524.3,239.9C524.6,240.8 524.9,242.1 525.2,242.9C525.5,243.8 525.8,244.5 526.1,244.8C526.4,245.1 526.6,245.0 526.9,244.6C527.2,244.2 527.5,243.3 527.8,242.4C528.1,241.4 528.4,240.1 528.7,239.1C529.0,238.2 529.3,237.0 529.5,236.4C529.8,235.8 530.1,235.4 530.4,235.5C530.7,235.5 531.0,236.0 531.3,236.7C531.6,237.3 531.9,238.4 532.1,239.3C532.4,240.3 532.7,241.4 533.0,242.2C533.3,242.9 533.6,243.6 533.9,243.8C534.2,243.9 534.5,243.7 534.8,243.3C535.0,242.8 535.3,241.9 535.6,241.0C535.9,240.1 536.2,238.9 536.5,238.1C536.8,237.2 537.1,236.4 537.4,236.1C537.7,235.8 537.9,235.8 538.2,236.2C538.5,236.7 538.8,237.8 539.1,239.0C539.4,240.2 539.7,242.0 540.0,243.6C540.3,245.1 540.5,247.0 540.8,248.5C541.1,249.9 541.4,251.2 541.7,252.0C542.0,252.8 542.3,253.2 542.6,253.2C542.9,253.2 543.2,252.7 543.4,252.0C543.7,251.4 544.0,250.3 544.3,249.5C544.6,248.6 544.9,247.6 545.2,246.9C545.5,246.3 545.8,245.8 546.1,245.6C546.3,245.4 546.6,245.5 546.9,245.8C547.2,246.0 547.5,246.6 547.8,247.0C548.1,247.5 548.4,248.1 548.7,248.4C548.9,248.6 549.2,248.9 549.5,248.6C549.8,248.2 550.1,247.8 550.4,246.5C550.7,245.2 551.0,243.0 551.3,240.9C551.6,238.7 551.8,235.9 552.1,233.8C552.4,231.7 552.7,229.4 553.0,228.3C553.3,227.1 553.6,226.7 553.9,226.9C554.2,227.1 554.5,228.4 554.7,229.3C555.0,230.2 555.3,231.7 555.6,232.4C555.9,233.1 556.2,233.4 556.5,233.7C556.8,234.0 557.1,233.7 557.4,234.1C557.6,234.5 557.9,234.9 558.2,236.1C558.5,237.2 558.8,239.6 559.1,240.9C559.4,242.2 559.7,243.6 560.0,243.9C560.2,244.2 560.5,243.3 560.8,242.7C561.1,242.1 561.4,240.5 561.7,240.5C562.0,240.5 562.3,241.0 562.6,242.6C562.9,244.2 563.1,247.4 563.4,250.0C563.7,252.5 564.0,256.1 564.3,257.9C564.6,259.7 564.9,260.8 565.2,260.8C565.5,260.9 565.8,259.3 566.0,258.0C566.3,256.7 566.6,254.4 566.9,252.9C567.2,251.4 567.5,249.9 567.8,248.9C568.1,247.8 568.4,247.2 568.6,246.5C568.9,245.9 569.2,245.4 569.5,245.1C569.8,244.8 570.1,244.6 570.4,244.7C570.7,244.8 571.0,245.2 571.3,245.8C571.5,246.4 571.8,247.5 572.1,248.3C572.4,249.1 572.7,250.2 573.0,250.7C573.3,251.3 573.6,251.6 573.9,251.6C574.2,251.6 574.4,251.0 574.7,250.5C575.0,250.1 575.3,249.2 575.6,248.7C575.9,248.2 576.2,247.6 576.5,247.6C576.8,247.7 577.0,248.0 577.3,248.8C577.6,249.5 577.9,250.9 578.2,252.3C578.5,253.8 578.8,255.9 579.1,257.7C579.4,259.5 579.7,261.7 579.9,263.4C580.2,265.1 580.5,266.7 580.8,267.8C581.1,268.9 581.4,269.6 581.7,269.9C582.0,270.2 582.3,270.0 582.6,269.7C582.8,269.4 583.1,268.6 583.4,268.1C583.7,267.6 584.0,266.9 584.3,266.6C584.6,266.4 584.9,266.3 585.2,266.7C585.4,267.0 585.7,267.8 586.0,268.7C586.3,269.7 586.6,271.1 586.9,272.3C587.2,273.5 587.5,275.0 587.8,276.1C588.1,277.1 588.3,278.1 588.6,278.5C588.9,279.0 589.2,279.0 589.5,278.7C589.8,278.4 590.1,277.5 590.4,276.5C590.7,275.6 591.0,273.6 591.2,273.0C591.5,272.4 591.8,272.6 592.1,272.9C592.4,273.1 592.7,273.8 593.0,274.8C593.3,275.8 593.6,277.3 593.8,279.0C594.1,280.7 594.6,284.0 594.7,285.0" fill="none" stroke="#5050ff" stroke-opacity="0.36" stroke-width="1.05"/><path d="M485.6,260.2C485.7,259.1 486.2,255.8 486.4,253.8C486.7,251.8 487.0,249.9 487.3,248.4C487.6,246.9 487.9,246.0 488.2,244.7C488.5,243.3 488.8,242.4 489.1,240.4C489.3,238.5 489.6,235.3 489.9,232.7C490.2,230.2 490.5,226.8 490.8,225.1C491.1,223.4 491.4,222.6 491.7,222.7C491.9,222.9 492.2,224.6 492.5,226.1C492.8,227.6 493.1,230.7 493.4,231.5C493.7,232.3 494.0,232.5 494.3,231.1C494.6,229.6 494.8,225.6 495.1,222.9C495.4,220.1 495.7,216.0 496.0,214.6C496.3,213.2 496.6,213.5 496.9,214.7C497.2,216.0 497.5,219.9 497.7,222.0C498.0,224.1 498.3,226.8 498.6,227.3C498.9,227.8 499.2,226.2 499.5,225.0C499.8,223.7 500.1,220.7 500.3,219.9C500.6,219.2 500.9,219.4 501.2,220.6C501.5,221.9 501.8,225.1 502.1,227.3C502.4,229.5 502.7,232.6 503.0,234.1C503.2,235.5 503.5,236.0 503.8,235.9C504.1,235.9 504.4,234.5 504.7,233.7C505.0,233.0 505.3,231.9 505.6,231.6C505.9,231.3 506.1,231.6 506.4,232.0C506.7,232.4 507.0,233.3 507.3,234.0C507.6,234.7 507.9,235.4 508.2,236.1C508.5,236.9 508.8,237.5 509.0,238.3C509.3,239.2 509.6,240.2 509.9,241.3C510.2,242.5 510.5,244.0 510.8,245.4C511.1,246.8 511.4,248.5 511.6,249.7C511.9,251.0 512.2,252.3 512.5,252.9C512.8,253.5 513.1,253.6 513.4,253.6C513.7,253.5 514.0,253.1 514.3,252.4C514.5,251.7 514.8,250.7 515.1,249.6C515.4,248.5 515.7,247.1 516.0,245.7C516.3,244.4 516.6,242.8 516.9,241.5C517.2,240.2 517.4,238.8 517.7,237.8C518.0,236.8 518.3,236.0 518.6,235.5C518.9,235.1 519.2,234.9 519.5,235.1C519.8,235.3 520.0,236.0 520.3,236.8C520.6,237.6 520.9,238.8 521.2,240.0C521.5,241.3 521.8,242.8 522.1,244.1C522.4,245.5 522.7,247.0 522.9,248.2C523.2,249.3 523.5,250.5 523.8,251.2C524.1,251.9 524.4,252.4 524.7,252.6C525.0,252.8 525.3,252.6 525.6,252.1C525.8,251.7 526.1,250.9 526.4,250.1C526.7,249.3 527.0,248.2 527.3,247.2C527.6,246.2 527.9,245.1 528.2,244.2C528.4,243.4 528.7,242.6 529.0,242.1C529.3,241.7 529.6,241.4 529.9,241.5C530.2,241.6 530.5,242.0 530.8,242.7C531.1,243.3 531.3,244.3 531.6,245.4C531.9,246.4 532.2,247.8 532.5,249.0C532.8,250.2 533.1,251.5 533.4,252.6C533.7,253.6 534.0,254.6 534.2,255.2C534.5,255.9 534.8,256.3 535.1,256.3C535.4,256.4 535.7,256.1 536.0,255.5C536.3,255.0 536.6,254.0 536.8,253.0C537.1,251.9 537.4,250.5 537.7,249.2C538.0,247.9 538.3,246.4 538.6,245.2C538.9,243.9 539.2,242.6 539.5,241.7C539.7,240.7 540.0,239.9 540.3,239.5C540.6,239.0 540.9,238.9 541.2,239.0C541.5,239.1 541.8,239.6 542.1,240.3C542.4,240.9 542.6,241.9 542.9,242.9C543.2,243.8 543.5,245.1 543.8,246.1C544.1,247.2 544.4,248.4 544.7,249.3C545.0,250.2 545.2,251.0 545.5,251.6C545.8,252.1 546.1,252.5 546.4,252.7C546.7,252.8 547.0,252.8 547.3,252.7C547.6,252.5 547.9,252.2 548.1,251.9C548.4,251.5 548.7,251.0 549.0,250.5C549.3,249.9 549.6,249.2 549.9,248.6C550.2,247.9 550.5,247.1 550.8,246.5C551.0,245.9 551.3,245.2 551.6,245.2C551.9,245.1 552.2,245.6 552.5,246.0C552.8,246.5 553.1,247.6 553.4,248.1C553.6,248.5 553.9,248.9 554.2,248.7C554.5,248.6 554.8,247.6 555.1,246.9C555.4,246.3 555.7,245.1 556.0,244.8C556.3,244.6 556.5,244.9 556.8,245.4C557.1,246.0 557.4,247.5 557.7,248.1C558.0,248.7 558.3,249.3 558.6,249.0C558.9,248.6 559.2,247.4 559.4,246.0C559.7,244.7 560.0,242.0 560.3,241.0C560.6,240.0 560.9,239.3 561.2,239.8C561.5,240.3 561.8,242.5 562.0,244.0C562.3,245.5 562.6,247.9 562.9,248.8C563.2,249.7 563.5,249.7 563.8,249.3C564.1,248.8 564.4,247.0 564.7,246.1C564.9,245.3 565.2,244.1 565.5,244.1C565.8,244.0 566.1,244.9 566.4,245.8C566.7,246.6 567.0,248.3 567.3,249.3C567.6,250.2 567.8,251.0 568.1,251.3C568.4,251.7 568.7,251.5 569.0,251.5C569.3,251.6 569.6,251.4 569.9,251.8C570.2,252.2 570.4,253.0 570.7,253.9C571.0,254.8 571.3,256.2 571.6,257.3C571.9,258.4 572.2,259.6 572.5,260.5C572.8,261.4 573.1,262.2 573.3,262.7C573.6,263.3 573.9,263.6 574.2,263.9C574.5,264.1 574.8,264.2 575.1,264.3C575.4,264.3 575.7,264.2 576.0,264.0C576.2,263.9 576.5,263.6 576.8,263.3C577.1,263.0 577.4,262.6 577.7,262.4C578.0,262.2 578.3,261.9 578.6,261.9C578.8,261.8 579.1,261.9 579.4,262.2C579.7,262.4 580.0,262.8 580.3,263.5C580.6,264.2 580.9,264.9 581.2,266.4C581.5,268.0 581.7,270.7 582.0,272.8C582.3,275.0 582.6,277.2 582.9,279.2C583.2,281.2 583.6,283.9 583.8,284.8" fill="none" stroke="#5050ff" stroke-opacity="0.36" stroke-width="1.05"/><path d="M481.7,270.1C481.9,269.3 482.3,266.9 482.6,265.3C482.9,263.7 483.2,262.1 483.5,260.4C483.8,258.8 484.1,257.1 484.3,255.2C484.6,253.4 484.9,251.5 485.2,249.3C485.5,247.2 485.8,244.1 486.1,242.2C486.4,240.3 486.7,239.5 486.9,238.0C487.2,236.5 487.5,234.6 487.8,233.2C488.1,231.8 488.4,230.3 488.7,229.5C489.0,228.7 489.3,228.3 489.6,228.3C489.8,228.2 490.1,228.9 490.4,229.1C490.7,229.3 491.0,229.4 491.3,229.6C491.6,229.7 491.9,230.0 492.2,229.8C492.5,229.6 492.7,228.6 493.0,228.2C493.3,227.9 493.6,227.2 493.9,227.7C494.2,228.1 494.5,229.3 494.8,231.0C495.1,232.7 495.3,235.6 495.6,237.8C495.9,240.0 496.2,242.8 496.5,244.0C496.8,245.3 497.1,245.9 497.4,245.3C497.7,244.8 498.0,242.7 498.2,240.8C498.5,238.9 498.8,235.8 499.1,233.8C499.4,231.8 499.7,229.7 500.0,228.9C500.3,228.1 500.6,228.6 500.9,229.0C501.1,229.5 501.4,230.8 501.7,231.6C502.0,232.3 502.3,233.1 502.6,233.3C502.9,233.6 503.2,233.3 503.5,233.1C503.7,232.9 504.0,232.2 504.3,232.1C504.6,232.0 504.9,231.9 505.2,232.3C505.5,232.6 505.8,233.5 506.1,234.5C506.4,235.4 506.6,236.8 506.9,238.0C507.2,239.2 507.5,240.6 507.8,241.7C508.1,242.7 508.4,243.7 508.7,244.5C509.0,245.2 509.3,245.8 509.5,246.3C509.8,246.8 510.1,247.1 510.4,247.5C510.7,247.8 511.0,248.1 511.3,248.5C511.6,248.8 511.9,249.2 512.1,249.4C512.4,249.6 512.7,249.4 513.0,249.4C513.3,249.4 513.6,249.4 513.9,249.4C514.2,249.5 514.5,249.7 514.8,249.9C515.0,250.1 515.3,250.4 515.6,250.8C515.9,251.1 516.2,251.6 516.5,252.0C516.8,252.5 517.1,253.0 517.4,253.5C517.7,254.0 517.9,254.5 518.2,254.9C518.5,255.3 518.8,255.6 519.1,255.8C519.4,256.1 519.7,256.2 520.0,256.2C520.3,256.2 520.5,256.0 520.8,255.7C521.1,255.4 521.4,255.0 521.7,254.4C522.0,253.9 522.3,253.2 522.6,252.5C522.9,251.7 523.2,250.9 523.4,250.1C523.7,249.3 524.0,248.5 524.3,247.7C524.6,247.0 524.9,246.2 525.2,245.7C525.5,245.1 525.8,244.6 526.1,244.3C526.3,244.0 526.6,243.9 526.9,243.9C527.2,243.9 527.5,244.2 527.8,244.5C528.1,244.9 528.4,245.4 528.7,246.1C528.9,246.7 529.2,247.5 529.5,248.3C529.8,249.1 530.1,250.0 530.4,250.9C530.7,251.8 531.0,252.7 531.3,253.5C531.6,254.3 531.8,255.1 532.1,255.7C532.4,256.3 532.7,256.8 533.0,257.2C533.3,257.6 533.6,257.8 533.9,257.9C534.2,258.0 534.5,257.9 534.7,257.7C535.0,257.5 535.3,257.2 535.6,256.8C535.9,256.5 536.2,256.0 536.5,255.5C536.8,255.0 537.1,254.5 537.4,254.0C537.6,253.5 537.9,253.0 538.2,252.6C538.5,252.2 538.8,251.8 539.1,251.5C539.4,251.2 539.7,251.0 540.0,250.9C540.2,250.8 540.5,250.8 540.8,250.8C541.1,250.9 541.4,251.0 541.7,251.2C542.0,251.3 542.3,251.6 542.6,251.8C542.9,252.0 543.1,252.2 543.4,252.4C543.7,252.6 544.0,252.8 544.3,253.0C544.6,253.1 544.9,253.2 545.2,253.2C545.5,253.2 545.8,253.2 546.0,253.1C546.3,253.1 546.6,253.0 546.9,252.9C547.2,252.8 547.5,252.7 547.8,252.7C548.1,252.6 548.4,252.6 548.6,252.6C548.9,252.6 549.2,252.6 549.5,252.6C549.8,252.6 550.1,252.7 550.4,252.6C550.7,252.5 551.0,252.1 551.3,251.9C551.5,251.8 551.8,251.6 552.1,251.6C552.4,251.7 552.7,252.0 553.0,252.4C553.3,252.8 553.6,253.5 553.9,254.1C554.2,254.6 554.4,255.4 554.7,255.7C555.0,255.9 555.3,256.0 555.6,255.5C555.9,255.1 556.2,254.0 556.5,253.0C556.8,251.9 557.0,250.3 557.3,249.1C557.6,248.0 557.9,246.6 558.2,246.2C558.5,245.8 558.8,246.4 559.1,246.9C559.4,247.4 559.7,248.5 559.9,249.1C560.2,249.6 560.5,250.2 560.8,250.1C561.1,250.1 561.4,249.4 561.7,248.7C562.0,247.9 562.3,246.5 562.6,245.8C562.8,245.0 563.1,244.2 563.4,244.2C563.7,244.2 564.0,244.9 564.3,245.9C564.6,246.9 564.9,248.8 565.2,250.3C565.4,251.9 565.7,253.9 566.0,255.3C566.3,256.8 566.6,258.0 566.9,259.0C567.2,259.9 567.5,260.4 567.8,260.9C568.1,261.4 568.3,261.6 568.6,262.0C568.9,262.4 569.2,262.8 569.5,263.2C569.8,263.7 570.1,264.2 570.4,264.7C570.7,265.2 571.0,265.6 571.2,265.9C571.5,266.2 571.8,266.3 572.1,266.3C572.4,266.3 572.7,266.1 573.0,265.9C573.3,265.7 573.6,265.3 573.8,265.1C574.1,264.8 574.4,264.5 574.7,264.2C575.0,264.0 575.3,263.8 575.6,263.7C575.9,263.6 576.2,263.5 576.5,263.5C576.7,263.5 577.0,263.5 577.3,263.6C577.6,263.6 577.9,263.7 578.2,263.9C578.5,264.0 578.8,264.2 579.1,264.3C579.4,264.5 579.6,264.8 579.9,265.0C580.2,265.2 580.5,265.5 580.8,265.8C581.1,266.0 581.4,266.3 581.7,266.6C582.0,266.9 582.2,267.2 582.5,267.6C582.8,268.0 583.1,268.3 583.4,268.7C583.7,269.2 584.0,269.6 584.3,270.1C584.6,270.6 584.9,271.1 585.1,271.7C585.4,272.3 585.7,273.0 586.0,273.7C586.3,274.4 586.6,274.9 586.9,275.9C587.2,276.9 587.5,278.1 587.8,279.7C588.0,281.3 588.3,283.7 588.6,285.7C588.9,287.7 589.2,289.7 589.5,291.6C589.8,293.5 590.2,296.2 590.4,297.1" fill="none" stroke="#5050ff" stroke-opacity="0.36" stroke-width="1.05"/><path d="M479.5,314.2C479.6,311.8 480.0,305.2 480.2,300.0C480.4,294.8 480.7,289.0 480.9,283.0C481.1,277.0 481.4,269.8 481.6,263.9C481.8,258.0 482.1,251.0 482.3,247.8C482.5,244.7 482.8,245.9 483.0,245.1C483.2,244.2 483.5,243.1 483.7,242.7C483.9,242.3 484.2,242.7 484.4,242.6C484.6,242.6 484.9,242.7 485.1,242.3C485.3,241.9 485.5,241.2 485.8,240.1C486.0,239.0 486.2,237.4 486.5,235.7C486.7,234.0 486.9,231.7 487.2,229.7C487.4,227.7 487.6,225.4 487.9,223.6C488.1,221.8 488.3,220.1 488.6,218.9C488.8,217.7 489.0,217.0 489.3,216.4C489.5,215.7 489.7,215.9 489.9,215.3C490.2,214.6 490.4,213.1 490.6,212.5C490.9,211.9 491.1,212.0 491.3,211.6C491.6,211.2 491.8,210.3 492.0,209.9C492.3,209.6 492.5,209.1 492.7,209.5C493.0,209.8 493.2,210.7 493.4,212.0C493.7,213.4 493.9,215.6 494.1,217.5C494.4,219.4 494.6,221.9 494.8,223.4C495.0,224.9 495.3,226.1 495.5,226.4C495.7,226.6 496.0,225.8 496.2,224.9C496.4,223.9 496.7,221.9 496.9,220.6C497.1,219.3 497.4,217.7 497.6,217.3C497.8,216.9 498.1,217.1 498.3,218.0C498.5,219.0 498.8,221.1 499.0,222.9C499.2,224.8 499.4,227.3 499.7,229.1C499.9,230.8 500.1,232.4 500.4,233.2C500.6,233.9 500.8,234.1 501.1,233.7C501.3,233.2 501.5,231.7 501.8,230.5C502.0,229.3 502.2,227.6 502.5,226.5C502.7,225.3 502.9,224.3 503.2,223.7C503.4,223.2 503.6,223.1 503.9,223.2C504.1,223.2 504.3,223.7 504.5,224.0C504.8,224.3 505.0,224.8 505.2,225.1C505.5,225.5 505.7,225.8 505.9,226.2C506.2,226.5 506.4,226.8 506.6,227.3C506.9,227.8 507.1,228.3 507.3,229.0C507.6,229.7 507.8,230.6 508.0,231.4C508.3,232.3 508.5,233.2 508.7,234.0C509.0,234.8 509.2,235.5 509.4,236.0C509.6,236.5 509.9,236.8 510.1,237.0C510.3,237.1 510.6,237.0 510.8,236.9C511.0,236.8 511.3,236.4 511.5,236.3C511.7,236.1 512.0,236.0 512.2,235.9C512.4,235.7 512.7,235.3 512.9,235.3C513.1,235.3 513.4,235.4 513.6,235.8C513.8,236.3 514.0,237.0 514.3,237.9C514.5,238.7 514.7,239.9 515.0,241.1C515.2,242.2 515.4,243.6 515.7,244.9C515.9,246.2 516.1,247.6 516.4,248.7C516.6,249.9 516.8,251.1 517.1,251.9C517.3,252.8 517.5,253.5 517.8,253.9C518.0,254.4 518.2,254.5 518.5,254.5C518.7,254.5 518.9,254.2 519.1,253.8C519.4,253.4 519.6,252.7 519.8,252.0C520.1,251.3 520.3,250.5 520.5,249.7C520.8,249.0 521.0,248.2 521.2,247.4C521.5,246.7 521.7,246.0 521.9,245.5C522.2,244.9 522.4,244.4 522.6,243.9C522.9,243.5 523.1,243.2 523.3,242.8C523.6,242.5 523.8,242.2 524.0,241.9C524.2,241.5 524.5,241.2 524.7,240.8C524.9,240.4 525.2,239.9 525.4,239.4C525.6,238.9 525.9,238.3 526.1,237.7C526.3,237.2 526.6,236.5 526.8,236.0C527.0,235.4 527.3,234.8 527.5,234.4C527.7,234.0 528.0,233.7 528.2,233.6C528.4,233.5 528.6,233.6 528.9,233.9C529.1,234.2 529.3,234.8 529.6,235.5C529.8,236.2 530.0,237.2 530.3,238.3C530.5,239.4 530.7,240.7 531.0,242.0C531.2,243.2 531.4,244.6 531.7,245.9C531.9,247.1 532.1,248.4 532.4,249.4C532.6,250.4 532.8,251.3 533.1,251.9C533.3,252.5 533.5,253.0 533.7,253.2C534.0,253.4 534.2,253.3 534.4,253.1C534.7,252.9 534.9,252.4 535.1,252.0C535.4,251.6 535.6,250.9 535.8,250.4C536.1,249.9 536.3,249.3 536.5,248.9C536.8,248.5 537.0,248.2 537.2,248.0C537.5,247.9 537.7,247.9 537.9,248.0C538.1,248.2 538.4,248.5 538.6,248.9C538.8,249.2 539.1,249.8 539.3,250.2C539.5,250.7 539.8,251.2 540.0,251.6C540.2,251.9 540.5,252.2 540.7,252.3C540.9,252.3 541.2,252.3 541.4,251.9C541.6,251.6 541.9,251.1 542.1,250.3C542.3,249.6 542.6,248.6 542.8,247.5C543.0,246.5 543.2,245.2 543.5,244.0C543.7,242.7 543.9,241.4 544.2,240.2C544.4,239.1 544.6,237.9 544.9,237.1C545.1,236.2 545.3,235.5 545.6,235.0C545.8,234.5 546.0,234.3 546.3,234.3C546.5,234.3 546.7,234.6 547.0,235.0C547.2,235.4 547.4,236.1 547.7,236.7C547.9,237.3 548.1,238.1 548.3,238.9C548.6,239.6 548.8,240.4 549.0,241.1C549.3,241.9 549.5,242.6 549.7,243.3C550.0,244.1 550.2,244.9 550.4,245.5C550.7,246.2 550.9,246.5 551.1,247.0C551.4,247.4 551.6,247.9 551.8,248.2C552.1,248.6 552.3,248.9 552.5,249.1C552.7,249.2 553.0,249.3 553.2,249.3C553.4,249.4 553.7,249.3 553.9,249.4C554.1,249.5 554.4,249.6 554.6,249.9C554.8,250.3 555.1,250.9 555.3,251.5C555.5,252.1 555.8,253.1 556.0,253.7C556.2,254.3 556.5,255.1 556.7,255.1C556.9,255.1 557.2,254.8 557.4,253.7C557.6,252.7 557.8,250.7 558.1,248.7C558.3,246.8 558.5,244.3 558.8,242.3C559.0,240.2 559.2,238.0 559.5,236.4C559.7,234.9 559.9,233.6 560.2,233.0C560.4,232.4 560.6,232.5 560.9,232.8C561.1,233.1 561.3,234.1 561.6,234.8C561.8,235.5 562.0,236.4 562.2,236.8C562.5,237.3 562.7,237.5 562.9,237.6C563.2,237.7 563.4,237.4 563.6,237.4C563.9,237.4 564.1,237.3 564.3,237.6C564.6,237.9 564.8,238.5 565.0,239.2C565.3,240.0 565.5,241.1 565.7,242.1C566.0,243.0 566.2,244.2 566.4,244.9C566.7,245.6 566.9,246.2 567.1,246.4C567.3,246.7 567.6,246.5 567.8,246.4C568.0,246.3 568.3,245.9 568.5,245.8C568.7,245.7 569.0,245.5 569.2,245.8C569.4,246.1 569.7,246.7 569.9,247.6C570.1,248.6 570.4,249.9 570.6,251.3C570.8,252.7 571.1,254.5 571.3,256.1C571.5,257.8 571.8,259.6 572.0,261.1C572.2,262.6 572.4,264.1 572.7,265.3C572.9,266.5 573.1,267.5 573.4,268.3C573.6,269.0 573.8,269.6 574.1,269.9C574.3,270.3 574.5,270.4 574.8,270.4C575.0,270.3 575.2,270.1 575.5,269.8C575.7,269.5 575.9,269.0 576.2,268.5C576.4,268.1 576.6,267.5 576.8,267.0C577.1,266.5 577.3,265.9 577.5,265.5C577.8,265.0 578.0,264.6 578.2,264.2C578.5,263.8 578.7,263.5 578.9,263.1C579.2,262.8 579.4,262.5 579.6,262.2C579.9,261.8 580.1,261.5 580.3,261.1C580.6,260.6 580.8,260.1 581.0,259.6C581.3,259.0 581.5,258.4 581.7,257.7C581.9,257.0 582.2,256.3 582.4,255.6C582.6,254.9 582.9,253.2 583.1,253.7C583.3,254.2 583.6,255.0 583.8,258.5C584.0,262.1 584.3,269.2 584.5,274.8C584.7,280.3 585.0,286.2 585.2,291.9C585.4,297.6 585.7,303.4 585.9,309.0C586.1,314.5 586.4,320.2 586.6,325.0C586.8,329.8 587.1,335.8 587.2,337.6C587.3,339.4 587.1,338.2 587.3,335.9C587.4,333.6 587.7,327.4 588.0,323.8C588.2,320.1 588.4,316.9 588.7,314.1C588.9,311.2 589.1,309.1 589.4,306.9C589.6,304.7 589.8,302.9 590.1,301.0C590.3,299.1 590.5,296.2 590.8,295.6C591.0,294.9 591.3,296.8 591.4,297.0" fill="none" stroke="#5050ff" stroke-opacity="0.36" stroke-width="1.05"/><path d="M457.3,337.4C457.7,336.8 458.9,334.5 459.6,333.7C460.3,332.9 460.7,332.3 461.3,332.3C461.9,332.3 462.6,334.2 463.2,333.7C463.8,333.2 464.3,331.7 465.0,329.4C465.7,327.1 466.6,322.6 467.4,320.1C468.2,317.6 468.8,315.4 469.7,314.2C470.6,312.9 471.7,313.0 472.5,312.6C473.3,312.2 473.9,313.4 474.4,311.9C474.9,310.4 475.0,307.0 475.3,303.7C475.6,300.4 475.6,295.9 476.0,292.0C476.4,288.1 477.2,285.9 477.7,280.5C478.2,275.1 478.8,264.1 479.1,259.4C479.4,254.7 479.2,255.9 479.5,252.4C479.8,248.9 480.3,245.3 480.7,238.4C481.1,231.5 481.5,219.1 481.9,211.0C482.3,202.9 482.8,196.0 483.2,190.0C483.6,184.0 483.9,180.8 484.3,175.0C484.7,169.2 484.9,162.2 485.3,155.0C485.7,147.8 486.3,136.2 486.6,132.0C486.9,127.8 487.0,130.2 487.3,129.6C487.6,129.0 488.1,131.2 488.6,128.4C489.1,125.6 489.9,117.5 490.5,113.0C491.1,108.5 491.8,104.1 492.2,101.5C492.6,98.9 492.8,97.4 493.1,97.3C493.4,97.2 493.7,97.2 493.9,101.0C494.1,104.8 494.2,111.8 494.4,120.0C494.5,128.2 494.6,140.7 494.8,150.0C495.0,159.3 495.2,170.9 495.5,176.0C495.8,181.1 496.1,181.2 496.3,180.5C496.6,179.8 496.8,177.1 497.0,172.0C497.2,166.9 497.3,158.3 497.4,150.0C497.5,141.7 497.6,129.2 497.8,122.0C498.0,114.8 498.5,109.8 498.8,106.5C499.1,103.2 499.5,101.2 499.8,102.1C500.1,103.0 500.5,108.2 500.8,112.0C501.1,115.8 501.3,120.7 501.5,125.0C501.7,129.3 502.0,134.2 502.2,138.0C502.4,141.8 502.6,145.7 502.8,147.5C503.0,149.3 503.1,149.8 503.3,149.0C503.5,148.2 503.9,144.6 504.2,143.0C504.5,141.4 505.0,139.7 505.4,139.7C505.8,139.7 506.1,141.4 506.4,143.0C506.7,144.6 506.9,146.4 507.3,149.3C507.8,152.2 508.5,156.6 509.1,160.2C509.7,163.8 510.4,167.9 510.9,171.0C511.3,174.1 511.5,178.5 511.8,179.0C512.1,179.5 512.4,177.1 512.7,174.0C513.1,170.9 513.5,164.3 513.9,160.2C514.2,156.1 514.5,151.8 514.8,149.3C515.1,146.8 515.2,145.1 515.5,145.1C515.8,145.1 516.0,146.8 516.3,149.3C516.6,151.8 516.9,155.9 517.2,160.2C517.5,164.5 517.7,170.8 518.1,175.0C518.5,179.2 519.2,185.5 519.7,185.7C520.2,185.9 520.8,178.2 521.2,176.0C521.7,173.8 521.8,173.3 522.4,172.6C523.0,171.9 523.9,172.0 524.6,172.0C525.3,172.0 526.3,171.7 526.8,172.6C527.3,173.5 527.2,174.7 527.6,177.3C528.0,179.9 528.5,184.3 528.9,188.1C529.3,191.9 529.8,197.0 530.1,200.2C530.5,203.4 530.6,207.5 531.0,207.5C531.4,207.5 532.0,203.4 532.5,200.2C533.0,197.0 533.3,191.9 533.7,188.1C534.1,184.3 534.4,180.4 534.7,177.3C535.0,174.2 535.2,171.3 535.5,169.5C535.8,167.7 535.9,166.5 536.3,166.3C536.6,166.1 537.2,167.9 537.6,168.5C538.0,169.1 538.3,170.9 538.7,170.0C539.1,169.1 539.4,165.2 539.8,163.0C540.2,160.8 540.6,156.9 540.9,156.6C541.2,156.3 541.4,159.2 541.7,161.4C542.0,163.6 542.3,167.3 542.6,169.9C542.9,172.5 543.1,175.0 543.3,177.0C543.5,179.0 543.8,182.9 544.0,182.1C544.2,181.3 544.3,175.7 544.5,172.0C544.7,168.3 544.8,164.6 545.0,160.2C545.2,155.8 545.6,150.1 545.9,145.7C546.2,141.3 546.5,136.5 546.8,133.6C547.1,130.7 547.2,127.2 547.5,128.0C547.8,128.8 548.2,134.4 548.6,138.1C549.0,141.8 549.4,146.2 549.8,150.2C550.2,154.2 550.4,158.5 551.0,162.3C551.6,166.1 552.6,170.2 553.2,173.0C553.8,175.8 554.2,177.0 554.6,179.0C555.0,181.0 555.5,185.4 555.9,184.8C556.3,184.2 556.7,178.8 557.1,175.7C557.5,172.6 557.9,171.7 558.3,166.0C558.7,160.3 559.1,147.6 559.5,141.8C559.9,136.1 560.2,131.5 560.5,131.5C560.8,131.5 561.1,137.1 561.3,141.8C561.5,146.6 561.6,153.3 561.9,160.0C562.1,166.7 562.5,174.5 562.8,182.0C563.1,189.5 563.5,199.4 563.7,205.0C564.0,210.6 564.1,215.7 564.3,215.7C564.5,215.7 564.8,210.1 565.1,205.0C565.4,199.9 565.9,191.4 566.2,185.0C566.5,178.6 566.7,168.2 567.0,166.7C567.3,165.1 567.6,171.8 568.0,175.7C568.4,179.6 568.8,184.2 569.2,190.2C569.6,196.2 570.1,209.5 570.4,211.5C570.7,213.5 570.8,205.9 571.0,202.3C571.2,198.8 571.5,194.2 571.8,190.2C572.1,186.2 572.4,181.9 572.8,178.1C573.2,174.3 573.6,170.0 574.0,167.3C574.4,164.6 574.5,161.8 575.0,161.8C575.5,161.8 576.4,164.6 576.7,167.3C577.0,170.0 576.9,174.3 577.0,178.1C577.1,181.9 577.3,185.7 577.4,190.2C577.5,194.7 577.5,199.2 577.6,205.0C577.8,210.8 578.0,219.2 578.3,225.0C578.6,230.8 579.0,235.8 579.4,240.0C579.8,244.2 580.4,247.2 580.8,250.0C581.2,252.8 581.3,253.2 581.8,257.1C582.3,261.0 583.4,268.9 584.0,273.5C584.6,278.1 585.0,281.1 585.4,285.0C585.8,288.9 585.9,293.8 586.3,296.7C586.7,299.6 587.2,301.9 587.7,302.5C588.2,303.1 588.8,299.4 589.3,300.2C589.8,301.0 590.4,304.7 591.0,307.2C591.6,309.7 592.2,313.6 592.8,315.4C593.4,317.1 594.0,317.7 594.7,317.7C595.4,317.7 596.3,314.6 597.0,315.4C597.7,316.2 598.2,319.5 598.7,322.4C599.2,325.3 599.5,331.0 600.3,333.0C601.1,335.0 602.6,334.6 603.4,334.6C604.2,334.6 604.5,332.7 605.0,333.0C605.5,333.3 606.2,335.9 606.4,336.5" fill="none" stroke="#000" stroke-width="1.85" stroke-dasharray="1.05 0.95"/><path d="M415.7,337.6C419.7,337.6 435.5,337.8 439.8,337.4C444.1,337.0 441.0,335.7 441.6,335.0C442.2,334.3 442.9,333.4 443.6,333.1C444.3,332.9 445.1,334.5 445.7,333.5C446.3,332.5 446.9,330.5 447.5,327.1C448.1,323.7 448.6,316.8 449.1,313.1C449.7,309.4 450.2,306.4 450.8,304.9C451.4,303.4 452.0,304.1 452.6,304.2C453.2,304.3 453.7,306.9 454.3,305.6C454.9,304.4 455.4,300.1 456.1,296.7C456.8,293.3 457.9,288.9 458.5,285.0C459.1,281.1 459.1,277.4 459.6,273.5C460.1,269.6 460.8,265.0 461.3,261.8C461.8,258.6 462.2,255.9 462.7,254.3C463.2,252.7 463.8,253.1 464.3,252.0C464.9,250.9 465.4,250.8 466.0,247.7C466.6,244.6 467.1,239.5 467.8,233.7C468.5,227.9 469.5,218.2 470.2,213.0C470.9,207.8 471.4,205.3 472.0,202.6C472.6,199.9 473.2,199.7 473.7,196.8C474.2,193.9 474.5,189.4 474.9,185.1C475.3,180.8 475.5,175.4 476.0,171.1C476.5,166.8 477.2,161.8 477.7,159.2C478.2,156.6 478.7,156.2 479.2,155.7C479.7,155.2 480.1,156.8 480.5,156.4C480.9,156.0 481.4,155.9 481.9,153.5C482.4,151.1 482.8,146.2 483.4,142.0C483.9,137.8 484.7,132.3 485.2,128.0C485.7,123.7 485.9,120.2 486.4,116.0C486.9,111.8 487.6,107.2 488.4,102.6C489.2,98.0 490.1,92.9 491.0,88.5C491.9,84.1 493.0,76.9 493.7,76.3C494.4,75.7 494.8,81.8 495.4,85.0C496.0,88.2 496.6,95.8 497.2,95.2C497.8,94.6 498.2,86.1 498.9,81.5C499.6,76.9 500.5,68.8 501.2,67.5C501.9,66.2 502.7,72.0 503.3,73.7C503.9,75.4 504.4,77.0 505.0,77.7C505.6,78.4 506.4,77.6 507.1,78.0C507.8,78.4 508.5,79.2 509.4,80.1C510.3,81.0 511.7,83.5 512.6,83.3C513.5,83.1 514.1,80.1 514.7,78.9C515.3,77.7 515.7,76.2 516.4,76.3C517.1,76.4 518.0,78.9 518.7,79.8C519.4,80.7 520.0,81.7 520.8,81.9C521.6,82.1 522.4,81.6 523.4,81.2C524.4,80.8 526.0,79.9 526.9,79.8C527.8,79.7 528.0,80.3 528.7,80.7C529.4,81.1 530.3,82.6 531.0,82.4C531.7,82.2 532.3,80.5 533.1,79.8C533.9,79.1 534.8,78.7 535.7,78.4C536.6,78.1 537.7,78.3 538.7,78.0C539.7,77.7 540.7,76.3 541.5,76.3C542.3,76.3 542.9,77.1 543.6,78.0C544.3,78.9 545.1,81.9 545.7,81.5C546.3,81.1 546.8,76.9 547.4,75.4C548.0,73.9 548.6,72.0 549.2,72.4C549.8,72.8 550.2,76.3 550.9,78.0C551.6,79.7 552.4,80.9 553.2,82.4C554.0,83.9 555.0,85.5 555.8,86.8C556.6,88.1 557.5,91.2 558.1,90.3C558.8,89.4 559.2,85.6 559.7,81.5C560.2,77.4 560.7,69.2 561.1,65.8C561.5,62.4 561.8,60.6 562.2,60.9C562.6,61.2 563.0,62.6 563.4,67.5C563.8,72.4 564.2,84.9 564.6,90.3C565.0,95.7 565.4,99.2 565.8,99.9C566.2,100.6 566.8,95.9 567.2,94.7C567.6,93.5 567.7,92.3 568.1,92.6C568.5,92.9 569.0,95.2 569.5,96.4C570.0,97.6 570.6,100.3 571.3,99.6C571.9,98.9 572.7,94.0 573.4,92.0C574.1,90.0 574.9,87.4 575.6,87.3C576.3,87.2 577.1,89.4 577.7,91.2C578.3,93.0 578.9,95.9 579.3,98.0C579.7,100.1 579.5,101.1 580.1,103.8C580.7,106.5 581.9,110.8 582.8,114.3C583.7,117.8 584.8,121.3 585.4,124.8C586.0,128.3 586.2,131.8 586.6,135.3C587.0,138.8 587.4,142.5 588.0,145.8C588.6,149.1 589.7,152.0 590.4,155.0C591.1,158.0 591.8,159.7 592.4,163.8C593.0,167.9 593.7,175.6 594.2,179.5C594.7,183.4 595.0,185.5 595.6,187.4C596.2,189.3 597.2,190.0 597.7,190.9C598.2,191.8 598.4,191.5 598.8,192.8C599.2,194.1 599.7,196.8 600.0,198.7C600.3,200.6 600.5,201.9 600.8,204.0C601.1,206.1 601.3,208.7 601.6,211.0C601.9,213.3 602.2,215.1 602.4,218.1C602.6,221.1 602.7,226.6 602.9,229.0C603.1,231.4 603.1,232.0 603.5,232.8C603.9,233.6 604.5,233.4 605.0,233.8C605.5,234.2 606.0,234.2 606.4,235.2C606.8,236.2 606.9,238.3 607.2,240.0C607.5,241.7 607.6,242.2 608.0,245.4C608.4,248.6 609.1,256.1 609.7,259.4C610.3,262.7 610.8,262.2 611.5,265.3C612.2,268.4 612.9,273.8 613.9,278.2C614.9,282.6 616.4,288.1 617.4,292.0C618.4,295.9 619.0,297.5 619.7,301.4C620.4,305.3 620.9,311.1 621.4,315.4C621.9,319.7 622.3,324.2 622.8,327.1C623.3,330.0 623.7,331.6 624.4,333.0C625.1,334.4 625.6,334.7 626.8,335.3C628.0,335.9 629.4,336.2 631.4,336.5C633.4,336.8 636.7,337.1 638.5,336.9C640.3,336.7 641.0,335.8 642.0,335.3C643.0,334.8 643.8,333.7 644.8,333.7C645.8,333.7 646.9,334.8 647.8,335.3C648.7,335.8 649.7,336.6 650.1,336.9" fill="none" stroke="#000" stroke-width="1.9" stroke-linejoin="round"/><g stroke="#000" stroke-width="1.6" fill="none"><path d="M415.5,40.5 V337.6 H650.6 V40.3"/></g><g stroke="#000" stroke-width="1.3"><line x1="415.5" y1="337.6" x2="419" y2="337.6"/><line x1="415.5" y1="302.1" x2="419" y2="302.1"/><line x1="415.5" y1="266.6" x2="419" y2="266.6"/><line x1="415.5" y1="231.0" x2="419" y2="231.0"/><line x1="415.5" y1="195.5" x2="419" y2="195.5"/><line x1="415.5" y1="160.0" x2="419" y2="160.0"/><line x1="415.5" y1="124.5" x2="419" y2="124.5"/><line x1="415.5" y1="88.9" x2="419" y2="88.9"/><line x1="415.5" y1="53.4" x2="419" y2="53.4"/><line x1="650.6" y1="337.6" x2="647" y2="337.6"/><line x1="650.6" y1="310.7" x2="647" y2="310.7"/><line x1="650.6" y1="283.7" x2="647" y2="283.7"/><line x1="650.6" y1="256.8" x2="647" y2="256.8"/><line x1="650.6" y1="229.8" x2="647" y2="229.8"/><line x1="650.6" y1="202.9" x2="647" y2="202.9"/><line x1="650.6" y1="176.0" x2="647" y2="176.0"/><line x1="650.6" y1="149.0" x2="647" y2="149.0"/><line x1="650.6" y1="122.1" x2="647" y2="122.1"/><line x1="650.6" y1="95.1" x2="647" y2="95.1"/><line x1="650.6" y1="68.2" x2="647" y2="68.2"/><line x1="650.6" y1="41.1" x2="647" y2="41.1"/><line x1="444.5" y1="337.6" x2="444.5" y2="334"/><line x1="487.9" y1="337.6" x2="487.9" y2="334"/><line x1="531.4" y1="337.6" x2="531.4" y2="334"/><line x1="574.9" y1="337.6" x2="574.9" y2="334"/><line x1="618.3" y1="337.6" x2="618.3" y2="334"/></g><g stroke="#222" stroke-width="0.6" fill="none"><line x1="512.6" y1="44.5" x2="496.6" y2="44.5" marker-end="url(#ah)"/><line x1="550.5" y1="44.5" x2="565.3" y2="44.5" marker-end="url(#ah)"/><line x1="597.3" y1="92.7" x2="581" y2="100.8" marker-end="url(#ah)"/><line x1="595.2" y1="152.8" x2="577.8" y2="163.2" marker-end="url(#ah)"/><line x1="454.3" y1="258.3" x2="465.4" y2="266.9" marker-end="url(#ah)"/><line x1="457.3" y1="275.8" x2="479.4" y2="292.1" marker-end="url(#ah)"/></g></svg>
<div style="position:absolute;left:0;top:0;width:685px;height:372px;will-change:transform;opacity:0.999;"><div style="position:absolute;white-space:nowrap;font-size:16px;line-height:16px;color:#000;left:17.9px;top:0.2px;font-weight:bold;transform:scaleX(1.12);transform-origin:0 0;">A</div><div style="position:absolute;white-space:nowrap;font-size:16px;line-height:16px;color:#000;left:383.6px;top:0.6px;font-weight:bold;transform:scaleX(1.1);transform-origin:0 0;">B</div><div style="position:absolute;white-space:nowrap;font-size:10.3px;line-height:10.3px;color:#111;left:48.5px;top:34.1px;">e.g.</div><div style="position:absolute;white-space:nowrap;font-size:10.3px;line-height:10.3px;color:#111;left:48.5px;top:45.6px;">50%MVC</div><div style="position:absolute;white-space:nowrap;font-size:10.3px;line-height:10.3px;color:#111;left:15.2px;top:66.4px;">0%MVC</div><div style="position:absolute;white-space:nowrap;font-size:10.3px;line-height:10.3px;color:#111;left:148.5px;top:45.7px;">Live force</div><div style="position:absolute;white-space:nowrap;font-size:10.3px;line-height:10.3px;color:#e0141a;left:147.6px;top:65.5px;">Target force</div><div style="position:absolute;white-space:nowrap;font-size:9.6px;line-height:9.6px;color:#111;left:-28px;width:200px;text-align:center;top:127.9px;transform:rotate(-2.9deg);">Biofeedback monitor</div><div style="position:absolute;white-space:nowrap;font-size:10.3px;line-height:10.3px;color:#111;left:25.7px;top:230.5px;">Raw EMG</div><div style="position:absolute;white-space:nowrap;font-size:10.3px;line-height:10.3px;color:#111;left:117.7px;top:188.0px;">HDsEMG</div><div style="position:absolute;white-space:nowrap;font-size:10.3px;line-height:10.3px;color:#111;left:117.7px;top:200.4px;">electrode</div><div style="position:absolute;white-space:nowrap;font-size:10.3px;line-height:10.3px;color:#111;left:286.4px;top:269.3px;">Force</div><div style="position:absolute;white-space:nowrap;font-size:10.3px;line-height:10.3px;color:#111;left:286.4px;top:281.0px;">transducer</div><div style="position:absolute;white-space:nowrap;font-size:10.5px;line-height:10.5px;color:#1a1a1a;right:273.6px;top:332.8px;">0</div><div style="position:absolute;white-space:nowrap;font-size:10.5px;line-height:10.5px;color:#1a1a1a;right:273.6px;top:297.3px;">5</div><div style="position:absolute;white-space:nowrap;font-size:10.5px;line-height:10.5px;color:#1a1a1a;right:273.6px;top:261.8px;">10</div><div style="position:absolute;white-space:nowrap;font-size:10.5px;line-height:10.5px;color:#1a1a1a;right:273.6px;top:226.3px;">15</div><div style="position:absolute;white-space:nowrap;font-size:10.5px;line-height:10.5px;color:#1a1a1a;right:273.6px;top:190.7px;">20</div><div style="position:absolute;white-space:nowrap;font-size:10.5px;line-height:10.5px;color:#1a1a1a;right:273.6px;top:155.2px;">25</div><div style="position:absolute;white-space:nowrap;font-size:10.5px;line-height:10.5px;color:#1a1a1a;right:273.6px;top:119.7px;">30</div><div style="position:absolute;white-space:nowrap;font-size:10.5px;line-height:10.5px;color:#1a1a1a;right:273.6px;top:84.2px;">35</div><div style="position:absolute;white-space:nowrap;font-size:10.5px;line-height:10.5px;color:#1a1a1a;right:273.6px;top:48.6px;">40</div><div style="position:absolute;white-space:nowrap;font-size:10.5px;line-height:10.5px;color:#1a1a1a;left:654.2px;top:332.7px;">0</div><div style="position:absolute;white-space:nowrap;font-size:10.5px;line-height:10.5px;color:#1a1a1a;left:654.2px;top:305.8px;">5</div><div style="position:absolute;white-space:nowrap;font-size:10.5px;line-height:10.5px;color:#1a1a1a;left:654.2px;top:278.9px;">10</div><div style="position:absolute;white-space:nowrap;font-size:10.5px;line-height:10.5px;color:#1a1a1a;left:654.2px;top:251.9px;">15</div><div style="position:absolute;white-space:nowrap;font-size:10.5px;line-height:10.5px;color:#1a1a1a;left:654.2px;top:225.0px;">20</div><div style="position:absolute;white-space:nowrap;font-size:10.5px;line-height:10.5px;color:#1a1a1a;left:654.2px;top:198.0px;">25</div><div style="position:absolute;white-space:nowrap;font-size:10.5px;line-height:10.5px;color:#1a1a1a;left:654.2px;top:171.1px;">30</div><div style="position:absolute;white-space:nowrap;font-size:10.5px;line-height:10.5px;color:#1a1a1a;left:654.2px;top:144.2px;">35</div><div style="position:absolute;white-space:nowrap;font-size:10.5px;line-height:10.5px;color:#1a1a1a;left:654.2px;top:117.2px;">40</div><div style="position:absolute;white-space:nowrap;font-size:10.5px;line-height:10.5px;color:#1a1a1a;left:654.2px;top:90.3px;">45</div><div style="position:absolute;white-space:nowrap;font-size:10.5px;line-height:10.5px;color:#1a1a1a;left:654.2px;top:63.3px;">50</div><div style="position:absolute;white-space:nowrap;font-size:10.5px;line-height:10.5px;color:#1a1a1a;left:654.2px;top:37.1px;">55</div><div style="position:absolute;white-space:nowrap;font-size:10.5px;line-height:10.5px;color:#1a1a1a;left:344.5px;width:200px;text-align:center;top:343.7px;">10</div><div style="position:absolute;white-space:nowrap;font-size:10.5px;line-height:10.5px;color:#1a1a1a;left:387.95px;width:200px;text-align:center;top:343.7px;">15</div><div style="position:absolute;white-space:nowrap;font-size:10.5px;line-height:10.5px;color:#1a1a1a;left:431.4px;width:200px;text-align:center;top:343.7px;">20</div><div style="position:absolute;white-space:nowrap;font-size:10.5px;line-height:10.5px;color:#1a1a1a;left:474.85px;width:200px;text-align:center;top:343.7px;">25</div><div style="position:absolute;white-space:nowrap;font-size:10.5px;line-height:10.5px;color:#1a1a1a;left:518.3px;width:200px;text-align:center;top:343.7px;">30</div><div style="position:absolute;white-space:nowrap;font-size:11.5px;line-height:11.5px;color:#1a1a1a;left:432.6px;width:200px;text-align:center;top:358.3px;">Time [s]</div><div style="position:absolute;white-space:nowrap;font-size:10.3px;line-height:10.3px;color:#111;left:431px;width:200px;text-align:center;top:40.2px;">Plateau</div><div style="position:absolute;white-space:nowrap;font-size:10.3px;line-height:10.3px;color:#111;left:600px;top:86.9px;">Force</div><div style="position:absolute;white-space:nowrap;font-size:10.3px;line-height:10.3px;color:#111;left:596.2px;top:145.8px;">CST (a.u)</div><div style="position:absolute;white-space:nowrap;font-size:10.6px;line-height:10.6px;color:#e0141a;left:416.8px;top:255.5px;">MUs VL</div><div style="position:absolute;white-space:nowrap;font-size:10.6px;line-height:10.6px;color:#4472c4;left:416.8px;top:270.7px;">MUs VM</div><div style="position:absolute;left:290.4px;top:183.6px;width:200px;height:12px;line-height:12px;font-size:11.8px;text-align:center;color:#1a1a1a;transform:rotate(-90deg);white-space:nowrap;">DR (pps)</div><div style="position:absolute;left:576.4px;top:183.6px;width:200px;height:12px;line-height:12px;font-size:11.8px;text-align:center;color:#1a1a1a;transform:rotate(-90deg);white-space:nowrap;">Force (%MVC)</div></div>
</body></html>
